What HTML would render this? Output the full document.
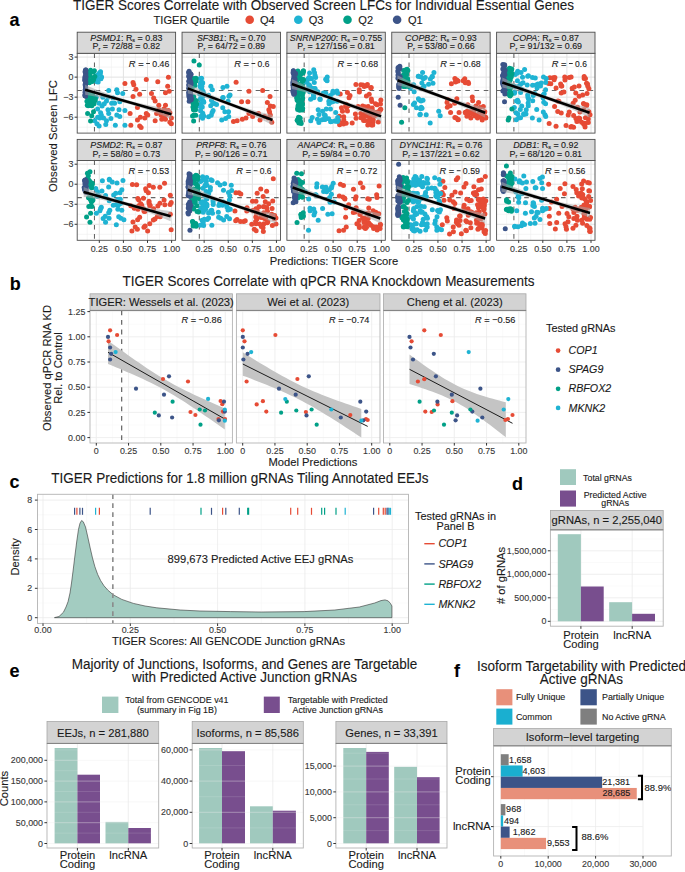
<!DOCTYPE html><html><head><meta charset="utf-8"><style>html,body{margin:0;padding:0;background:#fff;font-family:"Liberation Sans", sans-serif;overflow:hidden;}svg{display:block;}</style></head><body>
<svg width="685" height="872" viewBox="0 0 685 872" font-family='"Liberation Sans", sans-serif' fill="#1a1a1a"><style>text{stroke-width:0.12px;}</style>
<rect x="0.00" y="0.00" width="685.00" height="872.00" fill="#fff" />
<text stroke="#1a1a1a" x="323.50" y="9.80" font-size="13.5" text-anchor="middle" transform="matrix(1,0,0,1.08,0,-0.784)" >TIGER Scores Correlate with Observed Screen LFCs for Individual Essential Genes</text>
<text x="9.50" y="26.40" font-size="18" font-weight="bold" fill="#000" stroke="#000" transform="matrix(1,0,0,1.001,0,-0.026)" >a</text>
<text stroke="#1a1a1a" x="153.60" y="24.30" font-size="11.1" transform="matrix(1,0,0,1.001,0,-0.024)" >TIGER Quartile</text>
<circle cx="249.70" cy="19.80" r="4.3" fill="#E64B35" />
<text stroke="#1a1a1a" x="260.00" y="24.30" font-size="11.1" transform="matrix(1,0,0,1.001,0,-0.024)" >Q4</text>
<circle cx="298.30" cy="19.80" r="4.3" fill="#1FB3D3" />
<text stroke="#1a1a1a" x="308.70" y="24.30" font-size="11.1" transform="matrix(1,0,0,1.001,0,-0.024)" >Q3</text>
<circle cx="347.50" cy="19.80" r="4.3" fill="#00A087" />
<text stroke="#1a1a1a" x="358.30" y="24.30" font-size="11.1" transform="matrix(1,0,0,1.001,0,-0.024)" >Q2</text>
<circle cx="397.10" cy="19.80" r="4.3" fill="#3C5488" />
<text stroke="#1a1a1a" x="408.00" y="24.30" font-size="11.1" transform="matrix(1,0,0,1.001,0,-0.024)" >Q1</text>
<text stroke="#1a1a1a" x="57.00" y="136.00" font-size="11.25" text-anchor="middle" transform="matrix(1.001,0,0,1,-0.057,0) rotate(-90 57.00 136.00)" >Observed Screen LFC</text>
<text stroke="#1a1a1a" x="334.00" y="265.50" font-size="11.25" text-anchor="middle" transform="matrix(1,0,0,1.001,0,-0.265)" >Predictions: TIGER Score</text>
<clipPath id="ca0"><rect x="77.20" y="53.30" width="98.40" height="79.80"/></clipPath>
<rect x="77.20" y="53.30" width="98.40" height="79.80" fill="#fff" />
<line x1="87.25" y1="53.30" x2="87.25" y2="133.10" stroke="#EEEEEE" stroke-width="0.6" />
<line x1="111.35" y1="53.30" x2="111.35" y2="133.10" stroke="#EEEEEE" stroke-width="0.6" />
<line x1="135.45" y1="53.30" x2="135.45" y2="133.10" stroke="#EEEEEE" stroke-width="0.6" />
<line x1="159.55" y1="53.30" x2="159.55" y2="133.10" stroke="#EEEEEE" stroke-width="0.6" />
<line x1="77.20" y1="67.12" x2="175.60" y2="67.12" stroke="#EEEEEE" stroke-width="0.6" />
<line x1="77.20" y1="87.15" x2="175.60" y2="87.15" stroke="#EEEEEE" stroke-width="0.6" />
<line x1="77.20" y1="107.18" x2="175.60" y2="107.18" stroke="#EEEEEE" stroke-width="0.6" />
<line x1="77.20" y1="127.21" x2="175.60" y2="127.21" stroke="#EEEEEE" stroke-width="0.6" />
<line x1="99.30" y1="53.30" x2="99.30" y2="133.10" stroke="#E2E2E2" stroke-width="1.0" />
<line x1="123.40" y1="53.30" x2="123.40" y2="133.10" stroke="#E2E2E2" stroke-width="1.0" />
<line x1="147.50" y1="53.30" x2="147.50" y2="133.10" stroke="#E2E2E2" stroke-width="1.0" />
<line x1="171.60" y1="53.30" x2="171.60" y2="133.10" stroke="#E2E2E2" stroke-width="1.0" />
<line x1="77.20" y1="57.10" x2="175.60" y2="57.10" stroke="#E2E2E2" stroke-width="1.0" />
<line x1="77.20" y1="77.13" x2="175.60" y2="77.13" stroke="#E2E2E2" stroke-width="1.0" />
<line x1="77.20" y1="97.16" x2="175.60" y2="97.16" stroke="#E2E2E2" stroke-width="1.0" />
<line x1="77.20" y1="117.19" x2="175.60" y2="117.19" stroke="#E2E2E2" stroke-width="1.0" />
<g clip-path="url(#ca0)">
<line x1="94.48" y1="53.30" x2="94.48" y2="133.10" stroke="#666" stroke-width="1.1" stroke-dasharray="4.6,4.6"/>
<line x1="77.20" y1="90.48" x2="175.60" y2="90.48" stroke="#666" stroke-width="1.1" stroke-dasharray="4.6,4.6"/>
<circle cx="146.30" cy="79.54" r="2.5" fill="#E64B35" />
<circle cx="157.80" cy="81.75" r="2.5" fill="#E64B35" />
<circle cx="168.42" cy="77.33" r="2.5" fill="#E64B35" />
<circle cx="133.03" cy="82.49" r="2.5" fill="#E64B35" />
<circle cx="133.77" cy="84.70" r="2.5" fill="#E64B35" />
<circle cx="135.98" cy="89.13" r="2.5" fill="#E64B35" />
<circle cx="139.67" cy="94.29" r="2.5" fill="#E64B35" />
<circle cx="133.03" cy="96.50" r="2.5" fill="#E64B35" />
<circle cx="151.46" cy="93.55" r="2.5" fill="#E64B35" />
<circle cx="153.67" cy="97.97" r="2.5" fill="#E64B35" />
<circle cx="155.15" cy="100.92" r="2.5" fill="#E64B35" />
<circle cx="167.68" cy="86.18" r="2.5" fill="#E64B35" />
<circle cx="165.47" cy="92.81" r="2.5" fill="#E64B35" />
<circle cx="169.16" cy="91.34" r="2.5" fill="#E64B35" />
<circle cx="137.45" cy="107.56" r="2.5" fill="#E64B35" />
<circle cx="158.83" cy="105.34" r="2.5" fill="#E64B35" />
<circle cx="165.47" cy="105.34" r="2.5" fill="#E64B35" />
<circle cx="163.99" cy="109.03" r="2.5" fill="#E64B35" />
<circle cx="158.83" cy="109.77" r="2.5" fill="#E64B35" />
<circle cx="160.31" cy="111.24" r="2.5" fill="#E64B35" />
<circle cx="165.47" cy="110.51" r="2.5" fill="#E64B35" />
<circle cx="168.42" cy="110.51" r="2.5" fill="#E64B35" />
<circle cx="169.89" cy="112.72" r="2.5" fill="#E64B35" />
<circle cx="166.94" cy="114.19" r="2.5" fill="#E64B35" />
<circle cx="161.05" cy="114.93" r="2.5" fill="#E64B35" />
<circle cx="156.62" cy="113.45" r="2.5" fill="#E64B35" />
<circle cx="146.30" cy="113.45" r="2.5" fill="#E64B35" />
<circle cx="147.78" cy="114.93" r="2.5" fill="#E64B35" />
<circle cx="144.83" cy="117.88" r="2.5" fill="#E64B35" />
<circle cx="140.40" cy="117.14" r="2.5" fill="#E64B35" />
<circle cx="137.45" cy="120.09" r="2.5" fill="#E64B35" />
<circle cx="130.08" cy="113.45" r="2.5" fill="#E64B35" />
<circle cx="130.82" cy="125.25" r="2.5" fill="#E64B35" />
<circle cx="139.67" cy="125.99" r="2.5" fill="#E64B35" />
<circle cx="141.14" cy="127.46" r="2.5" fill="#E64B35" />
<circle cx="155.15" cy="120.83" r="2.5" fill="#E64B35" />
<circle cx="161.78" cy="119.35" r="2.5" fill="#E64B35" />
<circle cx="165.47" cy="119.35" r="2.5" fill="#E64B35" />
<circle cx="169.89" cy="122.30" r="2.5" fill="#E64B35" />
<circle cx="171.37" cy="117.88" r="2.5" fill="#E64B35" />
<circle cx="171.37" cy="123.78" r="2.5" fill="#E64B35" />
<circle cx="163.99" cy="116.40" r="2.5" fill="#E64B35" />
<circle cx="124.92" cy="83.52" r="2.5" fill="#E64B35" />
<circle cx="95.61" cy="80.19" r="2.5" fill="#1FB3D3" />
<circle cx="101.59" cy="77.06" r="2.5" fill="#1FB3D3" />
<circle cx="97.07" cy="75.34" r="2.5" fill="#1FB3D3" />
<circle cx="99.40" cy="73.02" r="2.5" fill="#1FB3D3" />
<circle cx="96.96" cy="81.66" r="2.5" fill="#1FB3D3" />
<circle cx="100.28" cy="73.82" r="2.5" fill="#1FB3D3" />
<circle cx="100.93" cy="78.78" r="2.5" fill="#1FB3D3" />
<circle cx="96.74" cy="78.12" r="2.5" fill="#1FB3D3" />
<circle cx="100.58" cy="71.63" r="2.5" fill="#1FB3D3" />
<circle cx="98.15" cy="81.94" r="2.5" fill="#1FB3D3" />
<circle cx="116.81" cy="89.86" r="2.5" fill="#1FB3D3" />
<circle cx="117.55" cy="92.81" r="2.5" fill="#1FB3D3" />
<circle cx="122.71" cy="93.55" r="2.5" fill="#1FB3D3" />
<circle cx="108.70" cy="90.60" r="2.5" fill="#1FB3D3" />
<circle cx="113.13" cy="97.97" r="2.5" fill="#1FB3D3" />
<circle cx="106.49" cy="100.92" r="2.5" fill="#1FB3D3" />
<circle cx="111.65" cy="103.13" r="2.5" fill="#1FB3D3" />
<circle cx="114.60" cy="103.13" r="2.5" fill="#1FB3D3" />
<circle cx="99.12" cy="103.13" r="2.5" fill="#1FB3D3" />
<circle cx="102.07" cy="106.08" r="2.5" fill="#1FB3D3" />
<circle cx="104.28" cy="103.87" r="2.5" fill="#1FB3D3" />
<circle cx="107.96" cy="109.77" r="2.5" fill="#1FB3D3" />
<circle cx="108.70" cy="113.45" r="2.5" fill="#1FB3D3" />
<circle cx="119.02" cy="109.77" r="2.5" fill="#1FB3D3" />
<circle cx="124.92" cy="110.51" r="2.5" fill="#1FB3D3" />
<circle cx="100.59" cy="112.72" r="2.5" fill="#1FB3D3" />
<circle cx="101.33" cy="114.93" r="2.5" fill="#1FB3D3" />
<circle cx="103.54" cy="117.88" r="2.5" fill="#1FB3D3" />
<circle cx="99.85" cy="117.88" r="2.5" fill="#1FB3D3" />
<circle cx="97.64" cy="117.14" r="2.5" fill="#1FB3D3" />
<circle cx="106.49" cy="120.83" r="2.5" fill="#1FB3D3" />
<circle cx="110.91" cy="118.61" r="2.5" fill="#1FB3D3" />
<circle cx="116.81" cy="114.93" r="2.5" fill="#1FB3D3" />
<circle cx="119.76" cy="116.40" r="2.5" fill="#1FB3D3" />
<circle cx="96.91" cy="123.78" r="2.5" fill="#1FB3D3" />
<circle cx="99.12" cy="125.99" r="2.5" fill="#1FB3D3" />
<circle cx="105.75" cy="124.51" r="2.5" fill="#1FB3D3" />
<circle cx="115.34" cy="125.25" r="2.5" fill="#1FB3D3" />
<circle cx="124.92" cy="125.25" r="2.5" fill="#1FB3D3" />
<circle cx="112.39" cy="109.03" r="2.5" fill="#1FB3D3" />
<circle cx="96.17" cy="97.23" r="2.5" fill="#1FB3D3" />
<circle cx="102.80" cy="97.23" r="2.5" fill="#1FB3D3" />
<circle cx="107.96" cy="97.23" r="2.5" fill="#1FB3D3" />
<circle cx="119.76" cy="101.66" r="2.5" fill="#1FB3D3" />
<circle cx="97.64" cy="109.03" r="2.5" fill="#1FB3D3" />
<circle cx="94.69" cy="120.83" r="2.5" fill="#1FB3D3" />
<circle cx="89.37" cy="82.11" r="2.5" fill="#00A087" />
<circle cx="93.20" cy="72.03" r="2.5" fill="#00A087" />
<circle cx="88.57" cy="79.58" r="2.5" fill="#00A087" />
<circle cx="89.76" cy="75.04" r="2.5" fill="#00A087" />
<circle cx="92.60" cy="80.47" r="2.5" fill="#00A087" />
<circle cx="93.51" cy="79.15" r="2.5" fill="#00A087" />
<circle cx="90.57" cy="70.30" r="2.5" fill="#00A087" />
<circle cx="89.01" cy="73.17" r="2.5" fill="#00A087" />
<circle cx="91.92" cy="81.57" r="2.5" fill="#00A087" />
<circle cx="89.69" cy="76.31" r="2.5" fill="#00A087" />
<circle cx="94.83" cy="76.48" r="2.5" fill="#00A087" />
<circle cx="93.25" cy="79.95" r="2.5" fill="#00A087" />
<circle cx="92.88" cy="77.70" r="2.5" fill="#00A087" />
<circle cx="92.06" cy="81.26" r="2.5" fill="#00A087" />
<circle cx="89.35" cy="82.82" r="2.5" fill="#00A087" />
<circle cx="94.38" cy="70.85" r="2.5" fill="#00A087" />
<circle cx="89.61" cy="74.07" r="2.5" fill="#00A087" />
<circle cx="88.87" cy="72.33" r="2.5" fill="#00A087" />
<circle cx="92.22" cy="95.20" r="2.5" fill="#00A087" />
<circle cx="87.30" cy="105.27" r="2.5" fill="#00A087" />
<circle cx="90.17" cy="100.31" r="2.5" fill="#00A087" />
<circle cx="90.79" cy="97.90" r="2.5" fill="#00A087" />
<circle cx="90.62" cy="96.07" r="2.5" fill="#00A087" />
<circle cx="91.69" cy="96.77" r="2.5" fill="#00A087" />
<circle cx="87.97" cy="96.25" r="2.5" fill="#00A087" />
<circle cx="90.26" cy="105.08" r="2.5" fill="#00A087" />
<circle cx="91.84" cy="105.70" r="2.5" fill="#00A087" />
<circle cx="90.16" cy="96.88" r="2.5" fill="#00A087" />
<circle cx="92.81" cy="96.03" r="2.5" fill="#00A087" />
<circle cx="95.27" cy="98.48" r="2.5" fill="#00A087" />
<circle cx="89.05" cy="97.02" r="2.5" fill="#00A087" />
<circle cx="89.34" cy="105.16" r="2.5" fill="#00A087" />
<circle cx="95.22" cy="100.53" r="2.5" fill="#00A087" />
<circle cx="88.72" cy="93.82" r="2.5" fill="#00A087" />
<circle cx="87.42" cy="97.34" r="2.5" fill="#00A087" />
<circle cx="92.23" cy="101.36" r="2.5" fill="#00A087" />
<circle cx="94.03" cy="103.74" r="2.5" fill="#00A087" />
<circle cx="89.75" cy="101.94" r="2.5" fill="#00A087" />
<circle cx="90.53" cy="102.61" r="2.5" fill="#00A087" />
<circle cx="88.31" cy="105.65" r="2.5" fill="#00A087" />
<circle cx="86.93" cy="101.25" r="2.5" fill="#00A087" />
<circle cx="89.75" cy="103.50" r="2.5" fill="#00A087" />
<circle cx="87.96" cy="104.60" r="2.5" fill="#00A087" />
<circle cx="87.62" cy="113.45" r="2.5" fill="#00A087" />
<circle cx="91.74" cy="115.67" r="2.5" fill="#00A087" />
<circle cx="90.57" cy="121.12" r="2.5" fill="#00A087" />
<circle cx="93.51" cy="111.68" r="2.5" fill="#00A087" />
<circle cx="84.99" cy="80.21" r="2.5" fill="#3C5488" />
<circle cx="85.72" cy="87.97" r="2.5" fill="#3C5488" />
<circle cx="85.68" cy="79.55" r="2.5" fill="#3C5488" />
<circle cx="85.76" cy="82.62" r="2.5" fill="#3C5488" />
<circle cx="84.91" cy="80.24" r="2.5" fill="#3C5488" />
<circle cx="84.87" cy="95.01" r="2.5" fill="#3C5488" />
<circle cx="85.93" cy="76.51" r="2.5" fill="#3C5488" />
<circle cx="85.18" cy="89.90" r="2.5" fill="#3C5488" />
<circle cx="85.06" cy="71.65" r="2.5" fill="#3C5488" />
<circle cx="85.04" cy="76.87" r="2.5" fill="#3C5488" />
<circle cx="85.55" cy="95.95" r="2.5" fill="#3C5488" />
<circle cx="85.06" cy="95.73" r="2.5" fill="#3C5488" />
<circle cx="85.47" cy="94.03" r="2.5" fill="#3C5488" />
<circle cx="85.78" cy="71.09" r="2.5" fill="#3C5488" />
<circle cx="85.58" cy="69.97" r="2.5" fill="#3C5488" />
<circle cx="84.82" cy="78.37" r="2.5" fill="#3C5488" />
<circle cx="85.73" cy="83.65" r="2.5" fill="#3C5488" />
<circle cx="85.04" cy="92.17" r="2.5" fill="#3C5488" />
<circle cx="85.89" cy="73.47" r="2.5" fill="#3C5488" />
<circle cx="85.34" cy="85.87" r="2.5" fill="#3C5488" />
<circle cx="85.88" cy="70.04" r="2.5" fill="#3C5488" />
<circle cx="85.47" cy="96.11" r="2.5" fill="#3C5488" />
<circle cx="85.53" cy="88.33" r="2.5" fill="#3C5488" />
<circle cx="85.73" cy="81.83" r="2.5" fill="#3C5488" />
<circle cx="85.16" cy="84.40" r="2.5" fill="#3C5488" />
<circle cx="85.44" cy="76.75" r="2.5" fill="#3C5488" />
<circle cx="85.82" cy="77.36" r="2.5" fill="#3C5488" />
<circle cx="85.39" cy="89.70" r="2.5" fill="#3C5488" />
<circle cx="85.77" cy="93.70" r="2.5" fill="#3C5488" />
<circle cx="85.58" cy="73.94" r="2.5" fill="#3C5488" />
<circle cx="85.81" cy="94.28" r="2.5" fill="#3C5488" />
<circle cx="85.66" cy="89.87" r="2.5" fill="#3C5488" />
<circle cx="85.42" cy="81.40" r="2.5" fill="#3C5488" />
<circle cx="85.50" cy="70.68" r="2.5" fill="#3C5488" />
<circle cx="85.61" cy="92.79" r="2.5" fill="#3C5488" />
<path d="M85.11,84.86 L89.42,86.69 L93.74,88.45 L98.05,90.14 L102.36,91.78 L106.67,93.34 L110.99,94.85 L115.30,96.29 L119.61,97.67 L123.93,98.98 L128.24,100.23 L132.55,101.41 L136.86,102.53 L141.18,103.59 L145.49,104.58 L149.80,105.51 L154.12,106.37 L158.43,107.17 L162.74,107.91 L167.05,108.58 L171.37,109.19 L171.37,119.19 L167.05,117.37 L162.74,115.61 L158.43,113.91 L154.12,112.28 L149.80,110.71 L145.49,109.20 L141.18,107.76 L136.86,106.39 L132.55,105.08 L128.24,103.83 L123.93,102.64 L119.61,101.52 L115.30,100.47 L110.99,99.47 L106.67,98.54 L102.36,97.68 L98.05,96.88 L93.74,96.14 L89.42,95.47 L85.11,94.86Z" fill="rgba(165,165,165,0.55)" />
<line x1="85.11" y1="89.86" x2="171.37" y2="114.19" stroke="#000" stroke-width="2.6" />
</g>
<rect x="77.20" y="53.30" width="98.40" height="79.80" fill="none" stroke="#4d4d4d" stroke-width="0.9" />
<rect x="77.20" y="32.20" width="98.40" height="21.10" fill="#D9D9D9" stroke="#4d4d4d" stroke-width="0.9" />
<text transform="matrix(1,0,0,1.001,0,-0.041)" stroke="#1a1a1a" x="126.40" y="40.55" font-size="8.9" text-anchor="middle" fill="#1a1a1a"><tspan font-style="italic">PSMD1</tspan>: R<tspan font-size="5.5" dy="1.5">s</tspan><tspan dy="-1.5"> = 0.83</tspan></text>
<text transform="matrix(1,0,0,1.001,0,-0.049)" stroke="#1a1a1a" x="126.40" y="49.45" font-size="8.9" text-anchor="middle" fill="#1a1a1a">P<tspan font-size="5.5" dy="1.5">r</tspan><tspan dy="-1.5"> = 72/88 = 0.82</tspan></text>
<text stroke="#1a1a1a" transform="matrix(1,0,0,1.001,0,-0.067)" x="128.88" y="66.70" font-size="9.3" font-style="italic">R</text>
<text stroke="#1a1a1a" transform="matrix(1,0,0,1.001,0,-0.067)" x="138.18" y="66.70" font-size="9.3">=</text>
<line x1="146.18" y1="63.50" x2="149.98" y2="63.50" stroke="#1a1a1a" stroke-width="0.9" />
<text stroke="#1a1a1a" transform="matrix(1,0,0,1.001,0,-0.067)" x="152.28" y="66.70" font-size="9.3" textLength="17.1" lengthAdjust="spacingAndGlyphs">0.46</text>
<line x1="74.60" y1="57.10" x2="77.20" y2="57.10" stroke="#333" stroke-width="1.0" />
<text x="73.40" y="60.30" font-size="8.9" text-anchor="end" fill="#383838" stroke="#383838" transform="matrix(1,0,0,1.001,0,-0.060)" >3</text>
<line x1="74.60" y1="77.13" x2="77.20" y2="77.13" stroke="#333" stroke-width="1.0" />
<text x="73.40" y="80.33" font-size="8.9" text-anchor="end" fill="#383838" stroke="#383838" transform="matrix(1,0,0,1.001,0,-0.080)" >0</text>
<line x1="74.60" y1="97.16" x2="77.20" y2="97.16" stroke="#333" stroke-width="1.0" />
<text x="73.40" y="100.36" font-size="8.9" text-anchor="end" fill="#383838" stroke="#383838" transform="matrix(1,0,0,1.001,0,-0.100)" >−3</text>
<line x1="74.60" y1="117.19" x2="77.20" y2="117.19" stroke="#333" stroke-width="1.0" />
<text x="73.40" y="120.39" font-size="8.9" text-anchor="end" fill="#383838" stroke="#383838" transform="matrix(1,0,0,1.001,0,-0.120)" >−6</text>
<clipPath id="ca1"><rect x="182.05" y="53.30" width="98.40" height="79.80"/></clipPath>
<rect x="182.05" y="53.30" width="98.40" height="79.80" fill="#fff" />
<line x1="192.10" y1="53.30" x2="192.10" y2="133.10" stroke="#EEEEEE" stroke-width="0.6" />
<line x1="216.20" y1="53.30" x2="216.20" y2="133.10" stroke="#EEEEEE" stroke-width="0.6" />
<line x1="240.30" y1="53.30" x2="240.30" y2="133.10" stroke="#EEEEEE" stroke-width="0.6" />
<line x1="264.40" y1="53.30" x2="264.40" y2="133.10" stroke="#EEEEEE" stroke-width="0.6" />
<line x1="182.05" y1="67.12" x2="280.45" y2="67.12" stroke="#EEEEEE" stroke-width="0.6" />
<line x1="182.05" y1="87.15" x2="280.45" y2="87.15" stroke="#EEEEEE" stroke-width="0.6" />
<line x1="182.05" y1="107.18" x2="280.45" y2="107.18" stroke="#EEEEEE" stroke-width="0.6" />
<line x1="182.05" y1="127.21" x2="280.45" y2="127.21" stroke="#EEEEEE" stroke-width="0.6" />
<line x1="204.15" y1="53.30" x2="204.15" y2="133.10" stroke="#E2E2E2" stroke-width="1.0" />
<line x1="228.25" y1="53.30" x2="228.25" y2="133.10" stroke="#E2E2E2" stroke-width="1.0" />
<line x1="252.35" y1="53.30" x2="252.35" y2="133.10" stroke="#E2E2E2" stroke-width="1.0" />
<line x1="276.45" y1="53.30" x2="276.45" y2="133.10" stroke="#E2E2E2" stroke-width="1.0" />
<line x1="182.05" y1="57.10" x2="280.45" y2="57.10" stroke="#E2E2E2" stroke-width="1.0" />
<line x1="182.05" y1="77.13" x2="280.45" y2="77.13" stroke="#E2E2E2" stroke-width="1.0" />
<line x1="182.05" y1="97.16" x2="280.45" y2="97.16" stroke="#E2E2E2" stroke-width="1.0" />
<line x1="182.05" y1="117.19" x2="280.45" y2="117.19" stroke="#E2E2E2" stroke-width="1.0" />
<g clip-path="url(#ca1)">
<line x1="199.33" y1="53.30" x2="199.33" y2="133.10" stroke="#666" stroke-width="1.1" stroke-dasharray="4.6,4.6"/>
<line x1="182.05" y1="90.48" x2="280.45" y2="90.48" stroke="#666" stroke-width="1.1" stroke-dasharray="4.6,4.6"/>
<circle cx="236.11" cy="82.19" r="2.5" fill="#E64B35" />
<circle cx="248.94" cy="91.34" r="2.5" fill="#E64B35" />
<circle cx="262.65" cy="90.60" r="2.5" fill="#E64B35" />
<circle cx="270.02" cy="96.50" r="2.5" fill="#E64B35" />
<circle cx="241.57" cy="101.66" r="2.5" fill="#E64B35" />
<circle cx="247.91" cy="101.66" r="2.5" fill="#E64B35" />
<circle cx="267.37" cy="102.40" r="2.5" fill="#E64B35" />
<circle cx="270.32" cy="106.08" r="2.5" fill="#E64B35" />
<circle cx="273.27" cy="106.38" r="2.5" fill="#E64B35" />
<circle cx="268.84" cy="109.77" r="2.5" fill="#E64B35" />
<circle cx="269.58" cy="111.98" r="2.5" fill="#E64B35" />
<circle cx="258.52" cy="113.45" r="2.5" fill="#E64B35" />
<circle cx="248.94" cy="113.45" r="2.5" fill="#E64B35" />
<circle cx="245.99" cy="117.88" r="2.5" fill="#E64B35" />
<circle cx="242.30" cy="119.35" r="2.5" fill="#E64B35" />
<circle cx="233.46" cy="121.56" r="2.5" fill="#E64B35" />
<circle cx="237.14" cy="120.83" r="2.5" fill="#E64B35" />
<circle cx="260.00" cy="120.09" r="2.5" fill="#E64B35" />
<circle cx="271.79" cy="122.30" r="2.5" fill="#E64B35" />
<circle cx="264.42" cy="116.40" r="2.5" fill="#E64B35" />
<circle cx="252.63" cy="116.40" r="2.5" fill="#E64B35" />
<circle cx="270.32" cy="114.93" r="2.5" fill="#E64B35" />
<circle cx="268.11" cy="117.88" r="2.5" fill="#E64B35" />
<circle cx="202.88" cy="96.49" r="2.5" fill="#1FB3D3" />
<circle cx="203.75" cy="115.90" r="2.5" fill="#1FB3D3" />
<circle cx="199.93" cy="94.23" r="2.5" fill="#1FB3D3" />
<circle cx="201.56" cy="88.38" r="2.5" fill="#1FB3D3" />
<circle cx="202.24" cy="82.83" r="2.5" fill="#1FB3D3" />
<circle cx="202.78" cy="113.16" r="2.5" fill="#1FB3D3" />
<circle cx="199.95" cy="106.13" r="2.5" fill="#1FB3D3" />
<circle cx="200.79" cy="103.84" r="2.5" fill="#1FB3D3" />
<circle cx="202.55" cy="118.21" r="2.5" fill="#1FB3D3" />
<circle cx="202.99" cy="91.13" r="2.5" fill="#1FB3D3" />
<circle cx="202.71" cy="82.97" r="2.5" fill="#1FB3D3" />
<circle cx="202.64" cy="94.45" r="2.5" fill="#1FB3D3" />
<circle cx="200.79" cy="86.87" r="2.5" fill="#1FB3D3" />
<circle cx="200.59" cy="110.56" r="2.5" fill="#1FB3D3" />
<circle cx="200.09" cy="86.61" r="2.5" fill="#1FB3D3" />
<circle cx="200.49" cy="83.45" r="2.5" fill="#1FB3D3" />
<circle cx="202.71" cy="101.68" r="2.5" fill="#1FB3D3" />
<circle cx="202.44" cy="114.97" r="2.5" fill="#1FB3D3" />
<circle cx="201.54" cy="78.35" r="2.5" fill="#1FB3D3" />
<circle cx="200.47" cy="98.68" r="2.5" fill="#1FB3D3" />
<circle cx="202.64" cy="115.75" r="2.5" fill="#1FB3D3" />
<circle cx="201.80" cy="86.37" r="2.5" fill="#1FB3D3" />
<circle cx="202.14" cy="116.43" r="2.5" fill="#1FB3D3" />
<circle cx="201.07" cy="116.28" r="2.5" fill="#1FB3D3" />
<circle cx="203.42" cy="101.24" r="2.5" fill="#1FB3D3" />
<circle cx="201.68" cy="82.21" r="2.5" fill="#1FB3D3" />
<circle cx="200.15" cy="78.48" r="2.5" fill="#1FB3D3" />
<circle cx="202.22" cy="107.00" r="2.5" fill="#1FB3D3" />
<circle cx="203.79" cy="102.32" r="2.5" fill="#1FB3D3" />
<circle cx="203.79" cy="93.85" r="2.5" fill="#1FB3D3" />
<circle cx="210.82" cy="86.29" r="2.5" fill="#1FB3D3" />
<circle cx="214.30" cy="103.52" r="2.5" fill="#1FB3D3" />
<circle cx="230.05" cy="94.98" r="2.5" fill="#1FB3D3" />
<circle cx="213.11" cy="110.56" r="2.5" fill="#1FB3D3" />
<circle cx="216.56" cy="104.53" r="2.5" fill="#1FB3D3" />
<circle cx="211.22" cy="115.31" r="2.5" fill="#1FB3D3" />
<circle cx="228.54" cy="111.72" r="2.5" fill="#1FB3D3" />
<circle cx="228.91" cy="96.27" r="2.5" fill="#1FB3D3" />
<circle cx="208.53" cy="95.26" r="2.5" fill="#1FB3D3" />
<circle cx="228.06" cy="101.28" r="2.5" fill="#1FB3D3" />
<circle cx="212.32" cy="89.64" r="2.5" fill="#1FB3D3" />
<circle cx="211.51" cy="100.17" r="2.5" fill="#1FB3D3" />
<circle cx="228.69" cy="116.43" r="2.5" fill="#1FB3D3" />
<circle cx="224.90" cy="111.76" r="2.5" fill="#1FB3D3" />
<circle cx="212.11" cy="112.54" r="2.5" fill="#1FB3D3" />
<circle cx="212.85" cy="103.33" r="2.5" fill="#1FB3D3" />
<circle cx="208.56" cy="116.74" r="2.5" fill="#1FB3D3" />
<circle cx="210.70" cy="105.78" r="2.5" fill="#1FB3D3" />
<circle cx="222.74" cy="107.66" r="2.5" fill="#1FB3D3" />
<circle cx="223.19" cy="97.62" r="2.5" fill="#1FB3D3" />
<circle cx="225.67" cy="118.43" r="2.5" fill="#1FB3D3" />
<circle cx="221.72" cy="119.94" r="2.5" fill="#1FB3D3" />
<circle cx="226.97" cy="86.14" r="2.5" fill="#1FB3D3" />
<circle cx="222.95" cy="87.46" r="2.5" fill="#1FB3D3" />
<circle cx="222.72" cy="97.69" r="2.5" fill="#1FB3D3" />
<circle cx="193.71" cy="78.79" r="2.5" fill="#00A087" />
<circle cx="194.58" cy="84.11" r="2.5" fill="#00A087" />
<circle cx="193.77" cy="78.71" r="2.5" fill="#00A087" />
<circle cx="193.47" cy="85.26" r="2.5" fill="#00A087" />
<circle cx="192.69" cy="86.23" r="2.5" fill="#00A087" />
<circle cx="193.35" cy="79.96" r="2.5" fill="#00A087" />
<circle cx="192.78" cy="86.60" r="2.5" fill="#00A087" />
<circle cx="196.04" cy="80.94" r="2.5" fill="#00A087" />
<circle cx="192.71" cy="83.80" r="2.5" fill="#00A087" />
<circle cx="195.98" cy="78.32" r="2.5" fill="#00A087" />
<circle cx="194.93" cy="85.54" r="2.5" fill="#00A087" />
<circle cx="194.21" cy="83.08" r="2.5" fill="#00A087" />
<circle cx="196.23" cy="100.76" r="2.5" fill="#00A087" />
<circle cx="193.65" cy="109.35" r="2.5" fill="#00A087" />
<circle cx="195.01" cy="106.80" r="2.5" fill="#00A087" />
<circle cx="193.95" cy="114.97" r="2.5" fill="#00A087" />
<circle cx="193.72" cy="109.72" r="2.5" fill="#00A087" />
<circle cx="196.67" cy="104.06" r="2.5" fill="#00A087" />
<circle cx="192.58" cy="100.39" r="2.5" fill="#00A087" />
<circle cx="192.64" cy="98.92" r="2.5" fill="#00A087" />
<circle cx="192.90" cy="102.88" r="2.5" fill="#00A087" />
<circle cx="194.12" cy="105.01" r="2.5" fill="#00A087" />
<circle cx="195.56" cy="109.68" r="2.5" fill="#00A087" />
<circle cx="195.66" cy="103.32" r="2.5" fill="#00A087" />
<circle cx="195.54" cy="107.10" r="2.5" fill="#00A087" />
<circle cx="192.94" cy="107.01" r="2.5" fill="#00A087" />
<circle cx="193.87" cy="109.66" r="2.5" fill="#00A087" />
<circle cx="195.89" cy="100.81" r="2.5" fill="#00A087" />
<circle cx="194.44" cy="105.16" r="2.5" fill="#00A087" />
<circle cx="193.76" cy="96.73" r="2.5" fill="#00A087" />
<circle cx="192.56" cy="116.11" r="2.5" fill="#00A087" />
<circle cx="195.92" cy="104.84" r="2.5" fill="#00A087" />
<circle cx="195.56" cy="101.38" r="2.5" fill="#00A087" />
<circle cx="195.78" cy="115.26" r="2.5" fill="#00A087" />
<circle cx="193.94" cy="61.11" r="2.5" fill="#00A087" />
<circle cx="199.25" cy="65.09" r="2.5" fill="#00A087" />
<circle cx="193.65" cy="121.12" r="2.5" fill="#00A087" />
<circle cx="190.18" cy="76.36" r="2.5" fill="#3C5488" />
<circle cx="191.19" cy="99.80" r="2.5" fill="#3C5488" />
<circle cx="189.87" cy="91.43" r="2.5" fill="#3C5488" />
<circle cx="189.20" cy="77.23" r="2.5" fill="#3C5488" />
<circle cx="189.40" cy="92.36" r="2.5" fill="#3C5488" />
<circle cx="189.20" cy="101.32" r="2.5" fill="#3C5488" />
<circle cx="188.82" cy="76.32" r="2.5" fill="#3C5488" />
<circle cx="188.87" cy="94.85" r="2.5" fill="#3C5488" />
<circle cx="189.61" cy="85.27" r="2.5" fill="#3C5488" />
<circle cx="189.50" cy="90.59" r="2.5" fill="#3C5488" />
<circle cx="189.70" cy="76.80" r="2.5" fill="#3C5488" />
<circle cx="189.77" cy="79.89" r="2.5" fill="#3C5488" />
<circle cx="188.93" cy="96.57" r="2.5" fill="#3C5488" />
<circle cx="190.44" cy="91.47" r="2.5" fill="#3C5488" />
<circle cx="190.97" cy="82.79" r="2.5" fill="#3C5488" />
<circle cx="189.64" cy="83.70" r="2.5" fill="#3C5488" />
<circle cx="189.71" cy="91.61" r="2.5" fill="#3C5488" />
<circle cx="188.65" cy="85.02" r="2.5" fill="#3C5488" />
<circle cx="190.05" cy="81.21" r="2.5" fill="#3C5488" />
<circle cx="188.69" cy="92.75" r="2.5" fill="#3C5488" />
<circle cx="188.66" cy="88.25" r="2.5" fill="#3C5488" />
<circle cx="189.04" cy="71.22" r="2.5" fill="#3C5488" />
<circle cx="189.11" cy="72.22" r="2.5" fill="#3C5488" />
<circle cx="189.03" cy="92.12" r="2.5" fill="#3C5488" />
<circle cx="190.57" cy="81.77" r="2.5" fill="#3C5488" />
<circle cx="190.36" cy="85.38" r="2.5" fill="#3C5488" />
<circle cx="189.96" cy="98.26" r="2.5" fill="#3C5488" />
<circle cx="189.46" cy="98.07" r="2.5" fill="#3C5488" />
<circle cx="190.47" cy="92.07" r="2.5" fill="#3C5488" />
<circle cx="188.65" cy="72.81" r="2.5" fill="#3C5488" />
<circle cx="188.72" cy="81.22" r="2.5" fill="#3C5488" />
<circle cx="191.14" cy="98.25" r="2.5" fill="#3C5488" />
<circle cx="190.86" cy="73.93" r="2.5" fill="#3C5488" />
<circle cx="190.51" cy="95.00" r="2.5" fill="#3C5488" />
<circle cx="190.78" cy="95.57" r="2.5" fill="#3C5488" />
<circle cx="189.01" cy="75.85" r="2.5" fill="#3C5488" />
<circle cx="190.74" cy="93.83" r="2.5" fill="#3C5488" />
<circle cx="191.00" cy="84.46" r="2.5" fill="#3C5488" />
<circle cx="190.99" cy="74.59" r="2.5" fill="#3C5488" />
<circle cx="191.17" cy="98.53" r="2.5" fill="#3C5488" />
<path d="M187.75,83.39 L191.99,85.58 L196.23,87.71 L200.47,89.78 L204.70,91.78 L208.94,93.71 L213.18,95.59 L217.42,97.40 L221.66,99.14 L225.90,100.82 L230.14,102.44 L234.38,103.99 L238.62,105.48 L242.86,106.91 L247.10,108.27 L251.34,109.56 L255.57,110.80 L259.81,111.97 L264.05,113.07 L268.29,114.11 L272.53,115.09 L272.53,125.09 L268.29,122.90 L264.05,120.77 L259.81,118.70 L255.57,116.70 L251.34,114.76 L247.10,112.89 L242.86,111.08 L238.62,109.34 L234.38,107.66 L230.14,106.04 L225.90,104.49 L221.66,103.00 L217.42,101.57 L213.18,100.21 L208.94,98.91 L204.70,97.68 L200.47,96.51 L196.23,95.41 L191.99,94.36 L187.75,93.39Z" fill="rgba(165,165,165,0.55)" />
<line x1="187.75" y1="88.39" x2="272.53" y2="120.09" stroke="#000" stroke-width="2.6" />
</g>
<rect x="182.05" y="53.30" width="98.40" height="79.80" fill="none" stroke="#4d4d4d" stroke-width="0.9" />
<rect x="182.05" y="32.20" width="98.40" height="21.10" fill="#D9D9D9" stroke="#4d4d4d" stroke-width="0.9" />
<text transform="matrix(1,0,0,1.001,0,-0.041)" stroke="#1a1a1a" x="231.25" y="40.55" font-size="8.9" text-anchor="middle" fill="#1a1a1a"><tspan font-style="italic">SF3B1</tspan>: R<tspan font-size="5.5" dy="1.5">s</tspan><tspan dy="-1.5"> = 0.70</tspan></text>
<text transform="matrix(1,0,0,1.001,0,-0.049)" stroke="#1a1a1a" x="231.25" y="49.45" font-size="8.9" text-anchor="middle" fill="#1a1a1a">P<tspan font-size="5.5" dy="1.5">r</tspan><tspan dy="-1.5"> = 64/72 = 0.89</tspan></text>
<text stroke="#1a1a1a" transform="matrix(1,0,0,1.001,0,-0.067)" x="234.17" y="66.70" font-size="9.3" font-style="italic">R</text>
<text stroke="#1a1a1a" transform="matrix(1,0,0,1.001,0,-0.067)" x="243.47" y="66.70" font-size="9.3">=</text>
<line x1="251.47" y1="63.50" x2="255.27" y2="63.50" stroke="#1a1a1a" stroke-width="0.9" />
<text stroke="#1a1a1a" transform="matrix(1,0,0,1.001,0,-0.067)" x="257.57" y="66.70" font-size="9.3" textLength="11.8" lengthAdjust="spacingAndGlyphs">0.6</text>
<clipPath id="ca2"><rect x="286.90" y="53.30" width="98.40" height="79.80"/></clipPath>
<rect x="286.90" y="53.30" width="98.40" height="79.80" fill="#fff" />
<line x1="296.95" y1="53.30" x2="296.95" y2="133.10" stroke="#EEEEEE" stroke-width="0.6" />
<line x1="321.05" y1="53.30" x2="321.05" y2="133.10" stroke="#EEEEEE" stroke-width="0.6" />
<line x1="345.15" y1="53.30" x2="345.15" y2="133.10" stroke="#EEEEEE" stroke-width="0.6" />
<line x1="369.25" y1="53.30" x2="369.25" y2="133.10" stroke="#EEEEEE" stroke-width="0.6" />
<line x1="286.90" y1="67.12" x2="385.30" y2="67.12" stroke="#EEEEEE" stroke-width="0.6" />
<line x1="286.90" y1="87.15" x2="385.30" y2="87.15" stroke="#EEEEEE" stroke-width="0.6" />
<line x1="286.90" y1="107.18" x2="385.30" y2="107.18" stroke="#EEEEEE" stroke-width="0.6" />
<line x1="286.90" y1="127.21" x2="385.30" y2="127.21" stroke="#EEEEEE" stroke-width="0.6" />
<line x1="309.00" y1="53.30" x2="309.00" y2="133.10" stroke="#E2E2E2" stroke-width="1.0" />
<line x1="333.10" y1="53.30" x2="333.10" y2="133.10" stroke="#E2E2E2" stroke-width="1.0" />
<line x1="357.20" y1="53.30" x2="357.20" y2="133.10" stroke="#E2E2E2" stroke-width="1.0" />
<line x1="381.30" y1="53.30" x2="381.30" y2="133.10" stroke="#E2E2E2" stroke-width="1.0" />
<line x1="286.90" y1="57.10" x2="385.30" y2="57.10" stroke="#E2E2E2" stroke-width="1.0" />
<line x1="286.90" y1="77.13" x2="385.30" y2="77.13" stroke="#E2E2E2" stroke-width="1.0" />
<line x1="286.90" y1="97.16" x2="385.30" y2="97.16" stroke="#E2E2E2" stroke-width="1.0" />
<line x1="286.90" y1="117.19" x2="385.30" y2="117.19" stroke="#E2E2E2" stroke-width="1.0" />
<g clip-path="url(#ca2)">
<line x1="304.18" y1="53.30" x2="304.18" y2="133.10" stroke="#666" stroke-width="1.1" stroke-dasharray="4.6,4.6"/>
<line x1="286.90" y1="90.48" x2="385.30" y2="90.48" stroke="#666" stroke-width="1.1" stroke-dasharray="4.6,4.6"/>
<circle cx="380.49" cy="104.09" r="2.5" fill="#E64B35" />
<circle cx="343.71" cy="116.70" r="2.5" fill="#E64B35" />
<circle cx="378.29" cy="121.89" r="2.5" fill="#E64B35" />
<circle cx="358.10" cy="106.58" r="2.5" fill="#E64B35" />
<circle cx="343.75" cy="120.12" r="2.5" fill="#E64B35" />
<circle cx="350.00" cy="95.58" r="2.5" fill="#E64B35" />
<circle cx="342.77" cy="122.78" r="2.5" fill="#E64B35" />
<circle cx="356.11" cy="118.14" r="2.5" fill="#E64B35" />
<circle cx="341.44" cy="107.67" r="2.5" fill="#E64B35" />
<circle cx="370.13" cy="117.43" r="2.5" fill="#E64B35" />
<circle cx="346.53" cy="107.65" r="2.5" fill="#E64B35" />
<circle cx="372.97" cy="122.20" r="2.5" fill="#E64B35" />
<circle cx="342.45" cy="111.24" r="2.5" fill="#E64B35" />
<circle cx="376.24" cy="112.33" r="2.5" fill="#E64B35" />
<circle cx="371.80" cy="101.48" r="2.5" fill="#E64B35" />
<circle cx="359.37" cy="91.95" r="2.5" fill="#E64B35" />
<circle cx="372.36" cy="110.42" r="2.5" fill="#E64B35" />
<circle cx="346.14" cy="123.13" r="2.5" fill="#E64B35" />
<circle cx="347.43" cy="92.62" r="2.5" fill="#E64B35" />
<circle cx="369.22" cy="94.17" r="2.5" fill="#E64B35" />
<circle cx="366.42" cy="96.07" r="2.5" fill="#E64B35" />
<circle cx="339.42" cy="116.25" r="2.5" fill="#E64B35" />
<circle cx="364.50" cy="113.66" r="2.5" fill="#E64B35" />
<circle cx="368.55" cy="115.60" r="2.5" fill="#E64B35" />
<circle cx="345.93" cy="105.75" r="2.5" fill="#E64B35" />
<circle cx="363.60" cy="120.61" r="2.5" fill="#E64B35" />
<circle cx="365.87" cy="107.88" r="2.5" fill="#E64B35" />
<circle cx="373.26" cy="119.87" r="2.5" fill="#E64B35" />
<circle cx="349.06" cy="97.65" r="2.5" fill="#E64B35" />
<circle cx="338.69" cy="120.80" r="2.5" fill="#E64B35" />
<circle cx="347.45" cy="110.93" r="2.5" fill="#E64B35" />
<circle cx="360.78" cy="113.60" r="2.5" fill="#E64B35" />
<circle cx="378.30" cy="113.57" r="2.5" fill="#E64B35" />
<circle cx="345.76" cy="105.96" r="2.5" fill="#E64B35" />
<circle cx="346.32" cy="104.34" r="2.5" fill="#E64B35" />
<circle cx="369.90" cy="113.40" r="2.5" fill="#E64B35" />
<circle cx="365.14" cy="120.50" r="2.5" fill="#E64B35" />
<circle cx="380.83" cy="99.95" r="2.5" fill="#E64B35" />
<circle cx="368.25" cy="113.20" r="2.5" fill="#E64B35" />
<circle cx="339.60" cy="124.83" r="2.5" fill="#E64B35" />
<circle cx="355.40" cy="114.11" r="2.5" fill="#E64B35" />
<circle cx="348.20" cy="105.72" r="2.5" fill="#E64B35" />
<circle cx="343.46" cy="124.03" r="2.5" fill="#E64B35" />
<circle cx="340.23" cy="93.93" r="2.5" fill="#E64B35" />
<circle cx="369.31" cy="110.86" r="2.5" fill="#E64B35" />
<circle cx="352.16" cy="123.12" r="2.5" fill="#E64B35" />
<circle cx="368.13" cy="106.57" r="2.5" fill="#E64B35" />
<circle cx="368.68" cy="122.98" r="2.5" fill="#E64B35" />
<circle cx="375.50" cy="103.72" r="2.5" fill="#E64B35" />
<circle cx="371.34" cy="98.90" r="2.5" fill="#E64B35" />
<circle cx="359.24" cy="89.65" r="2.5" fill="#E64B35" />
<circle cx="367.38" cy="84.59" r="2.5" fill="#E64B35" />
<circle cx="362.92" cy="84.90" r="2.5" fill="#E64B35" />
<circle cx="366.73" cy="85.63" r="2.5" fill="#E64B35" />
<circle cx="360.80" cy="84.75" r="2.5" fill="#E64B35" />
<circle cx="370.75" cy="88.10" r="2.5" fill="#E64B35" />
<circle cx="355.90" cy="84.56" r="2.5" fill="#E64B35" />
<circle cx="371.23" cy="87.40" r="2.5" fill="#E64B35" />
<circle cx="364.25" cy="86.54" r="2.5" fill="#E64B35" />
<circle cx="363.49" cy="115.67" r="2.5" fill="#E64B35" />
<circle cx="375.38" cy="112.90" r="2.5" fill="#E64B35" />
<circle cx="368.03" cy="112.69" r="2.5" fill="#E64B35" />
<circle cx="372.18" cy="108.07" r="2.5" fill="#E64B35" />
<circle cx="377.03" cy="104.70" r="2.5" fill="#E64B35" />
<circle cx="375.97" cy="114.73" r="2.5" fill="#E64B35" />
<circle cx="364.57" cy="108.76" r="2.5" fill="#E64B35" />
<circle cx="364.98" cy="106.82" r="2.5" fill="#E64B35" />
<circle cx="380.77" cy="109.36" r="2.5" fill="#E64B35" />
<circle cx="360.94" cy="117.64" r="2.5" fill="#E64B35" />
<circle cx="380.39" cy="109.56" r="2.5" fill="#E64B35" />
<circle cx="364.15" cy="116.04" r="2.5" fill="#E64B35" />
<circle cx="366.21" cy="113.31" r="2.5" fill="#E64B35" />
<circle cx="371.59" cy="125.06" r="2.5" fill="#E64B35" />
<circle cx="367.33" cy="111.20" r="2.5" fill="#E64B35" />
<circle cx="374.55" cy="115.73" r="2.5" fill="#E64B35" />
<circle cx="378.23" cy="112.76" r="2.5" fill="#E64B35" />
<circle cx="372.97" cy="114.41" r="2.5" fill="#E64B35" />
<circle cx="372.27" cy="113.96" r="2.5" fill="#E64B35" />
<circle cx="362.64" cy="105.98" r="2.5" fill="#E64B35" />
<circle cx="367.76" cy="125.10" r="2.5" fill="#E64B35" />
<circle cx="370.21" cy="114.18" r="2.5" fill="#E64B35" />
<circle cx="368.88" cy="120.21" r="2.5" fill="#E64B35" />
<circle cx="366.83" cy="111.79" r="2.5" fill="#E64B35" />
<circle cx="366.42" cy="115.76" r="2.5" fill="#E64B35" />
<circle cx="369.56" cy="116.44" r="2.5" fill="#E64B35" />
<circle cx="379.52" cy="110.76" r="2.5" fill="#E64B35" />
<circle cx="372.73" cy="124.94" r="2.5" fill="#E64B35" />
<circle cx="310.04" cy="86.96" r="2.5" fill="#1FB3D3" />
<circle cx="306.81" cy="89.82" r="2.5" fill="#1FB3D3" />
<circle cx="306.85" cy="81.33" r="2.5" fill="#1FB3D3" />
<circle cx="309.69" cy="91.76" r="2.5" fill="#1FB3D3" />
<circle cx="314.97" cy="88.52" r="2.5" fill="#1FB3D3" />
<circle cx="308.97" cy="77.39" r="2.5" fill="#1FB3D3" />
<circle cx="314.29" cy="82.39" r="2.5" fill="#1FB3D3" />
<circle cx="312.38" cy="88.16" r="2.5" fill="#1FB3D3" />
<circle cx="307.94" cy="79.01" r="2.5" fill="#1FB3D3" />
<circle cx="315.58" cy="77.59" r="2.5" fill="#1FB3D3" />
<circle cx="314.52" cy="72.80" r="2.5" fill="#1FB3D3" />
<circle cx="306.16" cy="82.19" r="2.5" fill="#1FB3D3" />
<circle cx="308.85" cy="84.71" r="2.5" fill="#1FB3D3" />
<circle cx="313.74" cy="69.68" r="2.5" fill="#1FB3D3" />
<circle cx="311.02" cy="78.71" r="2.5" fill="#1FB3D3" />
<circle cx="315.10" cy="91.41" r="2.5" fill="#1FB3D3" />
<circle cx="314.89" cy="88.64" r="2.5" fill="#1FB3D3" />
<circle cx="309.49" cy="85.34" r="2.5" fill="#1FB3D3" />
<circle cx="311.47" cy="78.56" r="2.5" fill="#1FB3D3" />
<circle cx="308.92" cy="86.14" r="2.5" fill="#1FB3D3" />
<circle cx="315.00" cy="75.16" r="2.5" fill="#1FB3D3" />
<circle cx="309.58" cy="72.90" r="2.5" fill="#1FB3D3" />
<circle cx="327.23" cy="77.11" r="2.5" fill="#1FB3D3" />
<circle cx="325.71" cy="79.31" r="2.5" fill="#1FB3D3" />
<circle cx="327.11" cy="80.69" r="2.5" fill="#1FB3D3" />
<circle cx="326.54" cy="80.07" r="2.5" fill="#1FB3D3" />
<circle cx="337.54" cy="93.25" r="2.5" fill="#1FB3D3" />
<circle cx="318.85" cy="122.59" r="2.5" fill="#1FB3D3" />
<circle cx="319.86" cy="99.08" r="2.5" fill="#1FB3D3" />
<circle cx="312.20" cy="117.38" r="2.5" fill="#1FB3D3" />
<circle cx="317.49" cy="119.22" r="2.5" fill="#1FB3D3" />
<circle cx="324.60" cy="93.64" r="2.5" fill="#1FB3D3" />
<circle cx="337.94" cy="119.99" r="2.5" fill="#1FB3D3" />
<circle cx="330.45" cy="109.05" r="2.5" fill="#1FB3D3" />
<circle cx="330.61" cy="121.72" r="2.5" fill="#1FB3D3" />
<circle cx="313.54" cy="95.88" r="2.5" fill="#1FB3D3" />
<circle cx="330.87" cy="102.33" r="2.5" fill="#1FB3D3" />
<circle cx="337.70" cy="117.56" r="2.5" fill="#1FB3D3" />
<circle cx="323.48" cy="92.90" r="2.5" fill="#1FB3D3" />
<circle cx="326.26" cy="109.06" r="2.5" fill="#1FB3D3" />
<circle cx="325.29" cy="115.54" r="2.5" fill="#1FB3D3" />
<circle cx="322.13" cy="119.70" r="2.5" fill="#1FB3D3" />
<circle cx="325.75" cy="92.93" r="2.5" fill="#1FB3D3" />
<circle cx="332.67" cy="93.23" r="2.5" fill="#1FB3D3" />
<circle cx="335.26" cy="120.96" r="2.5" fill="#1FB3D3" />
<circle cx="313.48" cy="94.42" r="2.5" fill="#1FB3D3" />
<circle cx="329.03" cy="103.76" r="2.5" fill="#1FB3D3" />
<circle cx="318.98" cy="114.53" r="2.5" fill="#1FB3D3" />
<circle cx="317.78" cy="91.83" r="2.5" fill="#1FB3D3" />
<circle cx="324.39" cy="119.14" r="2.5" fill="#1FB3D3" />
<circle cx="336.93" cy="90.94" r="2.5" fill="#1FB3D3" />
<circle cx="330.37" cy="98.90" r="2.5" fill="#1FB3D3" />
<circle cx="337.27" cy="101.33" r="2.5" fill="#1FB3D3" />
<circle cx="310.64" cy="99.16" r="2.5" fill="#1FB3D3" />
<circle cx="323.30" cy="93.49" r="2.5" fill="#1FB3D3" />
<circle cx="331.10" cy="99.11" r="2.5" fill="#1FB3D3" />
<circle cx="330.25" cy="95.56" r="2.5" fill="#1FB3D3" />
<circle cx="322.55" cy="111.18" r="2.5" fill="#1FB3D3" />
<circle cx="313.83" cy="97.64" r="2.5" fill="#1FB3D3" />
<circle cx="333.24" cy="101.48" r="2.5" fill="#1FB3D3" />
<circle cx="318.18" cy="109.65" r="2.5" fill="#1FB3D3" />
<circle cx="328.69" cy="118.66" r="2.5" fill="#1FB3D3" />
<circle cx="324.82" cy="118.29" r="2.5" fill="#1FB3D3" />
<circle cx="334.88" cy="120.95" r="2.5" fill="#1FB3D3" />
<circle cx="335.69" cy="112.45" r="2.5" fill="#1FB3D3" />
<circle cx="328.84" cy="101.29" r="2.5" fill="#1FB3D3" />
<circle cx="310.75" cy="120.79" r="2.5" fill="#1FB3D3" />
<circle cx="320.20" cy="99.42" r="2.5" fill="#1FB3D3" />
<circle cx="324.33" cy="114.70" r="2.5" fill="#1FB3D3" />
<circle cx="332.94" cy="91.24" r="2.5" fill="#1FB3D3" />
<circle cx="331.53" cy="121.47" r="2.5" fill="#1FB3D3" />
<circle cx="337.49" cy="121.51" r="2.5" fill="#1FB3D3" />
<circle cx="325.03" cy="119.57" r="2.5" fill="#1FB3D3" />
<circle cx="325.61" cy="118.10" r="2.5" fill="#1FB3D3" />
<circle cx="298.15" cy="77.67" r="2.5" fill="#00A087" />
<circle cx="298.53" cy="100.03" r="2.5" fill="#00A087" />
<circle cx="297.86" cy="88.83" r="2.5" fill="#00A087" />
<circle cx="302.14" cy="103.50" r="2.5" fill="#00A087" />
<circle cx="299.70" cy="104.03" r="2.5" fill="#00A087" />
<circle cx="300.98" cy="79.24" r="2.5" fill="#00A087" />
<circle cx="297.09" cy="76.95" r="2.5" fill="#00A087" />
<circle cx="302.02" cy="85.79" r="2.5" fill="#00A087" />
<circle cx="302.36" cy="109.05" r="2.5" fill="#00A087" />
<circle cx="302.94" cy="88.99" r="2.5" fill="#00A087" />
<circle cx="296.49" cy="81.23" r="2.5" fill="#00A087" />
<circle cx="297.98" cy="96.23" r="2.5" fill="#00A087" />
<circle cx="301.40" cy="107.20" r="2.5" fill="#00A087" />
<circle cx="301.42" cy="108.73" r="2.5" fill="#00A087" />
<circle cx="300.95" cy="89.22" r="2.5" fill="#00A087" />
<circle cx="302.35" cy="81.14" r="2.5" fill="#00A087" />
<circle cx="301.94" cy="99.39" r="2.5" fill="#00A087" />
<circle cx="302.57" cy="72.54" r="2.5" fill="#00A087" />
<circle cx="297.77" cy="108.34" r="2.5" fill="#00A087" />
<circle cx="297.44" cy="88.27" r="2.5" fill="#00A087" />
<circle cx="300.69" cy="89.51" r="2.5" fill="#00A087" />
<circle cx="302.65" cy="108.56" r="2.5" fill="#00A087" />
<circle cx="298.85" cy="75.51" r="2.5" fill="#00A087" />
<circle cx="302.90" cy="88.36" r="2.5" fill="#00A087" />
<circle cx="298.19" cy="75.67" r="2.5" fill="#00A087" />
<circle cx="296.50" cy="93.56" r="2.5" fill="#00A087" />
<circle cx="298.42" cy="92.50" r="2.5" fill="#00A087" />
<circle cx="302.97" cy="89.60" r="2.5" fill="#00A087" />
<circle cx="303.18" cy="72.79" r="2.5" fill="#00A087" />
<circle cx="301.80" cy="100.48" r="2.5" fill="#00A087" />
<circle cx="303.22" cy="71.35" r="2.5" fill="#00A087" />
<circle cx="300.02" cy="92.50" r="2.5" fill="#00A087" />
<circle cx="300.67" cy="89.07" r="2.5" fill="#00A087" />
<circle cx="298.36" cy="106.45" r="2.5" fill="#00A087" />
<circle cx="302.65" cy="98.33" r="2.5" fill="#00A087" />
<circle cx="303.22" cy="92.38" r="2.5" fill="#00A087" />
<circle cx="296.99" cy="98.04" r="2.5" fill="#00A087" />
<circle cx="297.17" cy="100.33" r="2.5" fill="#00A087" />
<circle cx="301.02" cy="78.43" r="2.5" fill="#00A087" />
<circle cx="297.51" cy="72.82" r="2.5" fill="#00A087" />
<circle cx="297.68" cy="109.47" r="2.5" fill="#00A087" />
<circle cx="298.04" cy="105.69" r="2.5" fill="#00A087" />
<circle cx="297.38" cy="83.73" r="2.5" fill="#00A087" />
<circle cx="299.77" cy="84.53" r="2.5" fill="#00A087" />
<circle cx="303.26" cy="79.77" r="2.5" fill="#00A087" />
<circle cx="299.85" cy="78.36" r="2.5" fill="#00A087" />
<circle cx="297.20" cy="97.90" r="2.5" fill="#00A087" />
<circle cx="298.83" cy="89.71" r="2.5" fill="#00A087" />
<circle cx="301.33" cy="73.68" r="2.5" fill="#00A087" />
<circle cx="296.82" cy="97.78" r="2.5" fill="#00A087" />
<circle cx="303.46" cy="70.85" r="2.5" fill="#00A087" />
<circle cx="299.63" cy="110.14" r="2.5" fill="#00A087" />
<circle cx="302.33" cy="109.93" r="2.5" fill="#00A087" />
<circle cx="300.18" cy="109.22" r="2.5" fill="#00A087" />
<circle cx="296.83" cy="89.10" r="2.5" fill="#00A087" />
<circle cx="302.43" cy="85.83" r="2.5" fill="#00A087" />
<circle cx="299.55" cy="88.18" r="2.5" fill="#00A087" />
<circle cx="299.12" cy="102.83" r="2.5" fill="#00A087" />
<circle cx="303.32" cy="79.39" r="2.5" fill="#00A087" />
<circle cx="298.71" cy="102.46" r="2.5" fill="#00A087" />
<circle cx="301.70" cy="102.88" r="2.5" fill="#00A087" />
<circle cx="301.26" cy="106.93" r="2.5" fill="#00A087" />
<circle cx="302.41" cy="95.61" r="2.5" fill="#00A087" />
<circle cx="298.44" cy="73.53" r="2.5" fill="#00A087" />
<circle cx="302.52" cy="104.64" r="2.5" fill="#00A087" />
<circle cx="302.74" cy="80.77" r="2.5" fill="#00A087" />
<circle cx="301.66" cy="107.56" r="2.5" fill="#00A087" />
<circle cx="297.89" cy="71.05" r="2.5" fill="#00A087" />
<circle cx="297.66" cy="78.91" r="2.5" fill="#00A087" />
<circle cx="301.24" cy="103.17" r="2.5" fill="#00A087" />
<circle cx="300.55" cy="121.43" r="2.5" fill="#00A087" />
<circle cx="301.21" cy="123.43" r="2.5" fill="#00A087" />
<circle cx="298.98" cy="123.07" r="2.5" fill="#00A087" />
<circle cx="300.14" cy="118.28" r="2.5" fill="#00A087" />
<circle cx="299.59" cy="117.76" r="2.5" fill="#00A087" />
<circle cx="298.82" cy="122.30" r="2.5" fill="#00A087" />
<circle cx="297.21" cy="120.35" r="2.5" fill="#00A087" />
<circle cx="298.97" cy="118.55" r="2.5" fill="#00A087" />
<circle cx="297.44" cy="120.25" r="2.5" fill="#00A087" />
<circle cx="298.55" cy="117.24" r="2.5" fill="#00A087" />
<circle cx="293.14" cy="85.25" r="2.5" fill="#3C5488" />
<circle cx="293.20" cy="87.86" r="2.5" fill="#3C5488" />
<circle cx="294.36" cy="79.00" r="2.5" fill="#3C5488" />
<circle cx="294.38" cy="83.91" r="2.5" fill="#3C5488" />
<circle cx="292.86" cy="82.93" r="2.5" fill="#3C5488" />
<circle cx="294.39" cy="82.65" r="2.5" fill="#3C5488" />
<circle cx="295.08" cy="88.47" r="2.5" fill="#3C5488" />
<circle cx="293.75" cy="74.75" r="2.5" fill="#3C5488" />
<circle cx="293.09" cy="90.49" r="2.5" fill="#3C5488" />
<circle cx="294.58" cy="85.07" r="2.5" fill="#3C5488" />
<circle cx="293.92" cy="82.15" r="2.5" fill="#3C5488" />
<circle cx="293.33" cy="82.94" r="2.5" fill="#3C5488" />
<circle cx="293.13" cy="85.39" r="2.5" fill="#3C5488" />
<circle cx="294.42" cy="86.72" r="2.5" fill="#3C5488" />
<circle cx="293.40" cy="71.11" r="2.5" fill="#3C5488" />
<circle cx="293.63" cy="87.18" r="2.5" fill="#3C5488" />
<circle cx="294.10" cy="88.80" r="2.5" fill="#3C5488" />
<circle cx="293.89" cy="79.38" r="2.5" fill="#3C5488" />
<circle cx="295.15" cy="73.14" r="2.5" fill="#3C5488" />
<circle cx="293.30" cy="84.52" r="2.5" fill="#3C5488" />
<circle cx="294.42" cy="80.31" r="2.5" fill="#3C5488" />
<circle cx="294.23" cy="80.52" r="2.5" fill="#3C5488" />
<circle cx="294.52" cy="92.61" r="2.5" fill="#3C5488" />
<circle cx="294.94" cy="85.88" r="2.5" fill="#3C5488" />
<circle cx="293.99" cy="94.20" r="2.5" fill="#3C5488" />
<circle cx="293.93" cy="85.51" r="2.5" fill="#3C5488" />
<circle cx="295.05" cy="87.07" r="2.5" fill="#3C5488" />
<circle cx="293.78" cy="88.68" r="2.5" fill="#3C5488" />
<circle cx="294.34" cy="93.32" r="2.5" fill="#3C5488" />
<circle cx="294.40" cy="83.03" r="2.5" fill="#3C5488" />
<circle cx="295.33" cy="82.87" r="2.5" fill="#3C5488" />
<circle cx="293.80" cy="93.93" r="2.5" fill="#3C5488" />
<circle cx="295.25" cy="73.27" r="2.5" fill="#3C5488" />
<circle cx="292.94" cy="91.78" r="2.5" fill="#3C5488" />
<circle cx="295.09" cy="79.00" r="2.5" fill="#3C5488" />
<circle cx="293.42" cy="87.10" r="2.5" fill="#3C5488" />
<circle cx="295.24" cy="74.38" r="2.5" fill="#3C5488" />
<circle cx="293.93" cy="86.51" r="2.5" fill="#3C5488" />
<circle cx="293.33" cy="79.82" r="2.5" fill="#3C5488" />
<circle cx="293.12" cy="81.57" r="2.5" fill="#3C5488" />
<circle cx="293.36" cy="70.81" r="2.5" fill="#3C5488" />
<circle cx="293.78" cy="72.68" r="2.5" fill="#3C5488" />
<circle cx="293.06" cy="72.69" r="2.5" fill="#3C5488" />
<circle cx="293.85" cy="77.21" r="2.5" fill="#3C5488" />
<circle cx="294.68" cy="79.81" r="2.5" fill="#3C5488" />
<path d="M291.86,78.96 L296.32,81.19 L300.78,83.36 L305.24,85.46 L309.70,87.50 L314.16,89.47 L318.62,91.38 L323.08,93.23 L327.54,95.01 L332.00,96.73 L336.46,98.38 L340.92,99.97 L345.38,101.50 L349.85,102.96 L354.31,104.36 L358.77,105.69 L363.23,106.96 L367.69,108.17 L372.15,109.31 L376.61,110.39 L381.07,111.40 L381.07,121.40 L376.61,119.17 L372.15,117.01 L367.69,114.91 L363.23,112.87 L358.77,110.89 L354.31,108.98 L349.85,107.14 L345.38,105.36 L340.92,103.64 L336.46,101.98 L332.00,100.39 L327.54,98.87 L323.08,97.41 L318.62,96.01 L314.16,94.67 L309.70,93.40 L305.24,92.20 L300.78,91.06 L296.32,89.98 L291.86,88.96Z" fill="rgba(165,165,165,0.55)" />
<line x1="291.86" y1="83.96" x2="381.07" y2="116.40" stroke="#000" stroke-width="2.6" />
</g>
<rect x="286.90" y="53.30" width="98.40" height="79.80" fill="none" stroke="#4d4d4d" stroke-width="0.9" />
<rect x="286.90" y="32.20" width="98.40" height="21.10" fill="#D9D9D9" stroke="#4d4d4d" stroke-width="0.9" />
<text transform="matrix(1,0,0,1.001,0,-0.041)" stroke="#1a1a1a" x="336.10" y="40.55" font-size="8.9" text-anchor="middle" fill="#1a1a1a"><tspan font-style="italic">SNRNP200</tspan>: R<tspan font-size="5.5" dy="1.5">s</tspan><tspan dy="-1.5"> = 0.755</tspan></text>
<text transform="matrix(1,0,0,1.001,0,-0.049)" stroke="#1a1a1a" x="336.10" y="49.45" font-size="8.9" text-anchor="middle" fill="#1a1a1a">P<tspan font-size="5.5" dy="1.5">r</tspan><tspan dy="-1.5"> = 127/156 = 0.81</tspan></text>
<text stroke="#1a1a1a" transform="matrix(1,0,0,1.001,0,-0.067)" x="337.54" y="66.70" font-size="9.3" font-style="italic">R</text>
<text stroke="#1a1a1a" transform="matrix(1,0,0,1.001,0,-0.067)" x="346.84" y="66.70" font-size="9.3">=</text>
<line x1="354.84" y1="63.50" x2="358.64" y2="63.50" stroke="#1a1a1a" stroke-width="0.9" />
<text stroke="#1a1a1a" transform="matrix(1,0,0,1.001,0,-0.067)" x="360.94" y="66.70" font-size="9.3" textLength="17.1" lengthAdjust="spacingAndGlyphs">0.68</text>
<clipPath id="ca3"><rect x="391.75" y="53.30" width="98.40" height="79.80"/></clipPath>
<rect x="391.75" y="53.30" width="98.40" height="79.80" fill="#fff" />
<line x1="401.80" y1="53.30" x2="401.80" y2="133.10" stroke="#EEEEEE" stroke-width="0.6" />
<line x1="425.90" y1="53.30" x2="425.90" y2="133.10" stroke="#EEEEEE" stroke-width="0.6" />
<line x1="450.00" y1="53.30" x2="450.00" y2="133.10" stroke="#EEEEEE" stroke-width="0.6" />
<line x1="474.10" y1="53.30" x2="474.10" y2="133.10" stroke="#EEEEEE" stroke-width="0.6" />
<line x1="391.75" y1="67.12" x2="490.15" y2="67.12" stroke="#EEEEEE" stroke-width="0.6" />
<line x1="391.75" y1="87.15" x2="490.15" y2="87.15" stroke="#EEEEEE" stroke-width="0.6" />
<line x1="391.75" y1="107.18" x2="490.15" y2="107.18" stroke="#EEEEEE" stroke-width="0.6" />
<line x1="391.75" y1="127.21" x2="490.15" y2="127.21" stroke="#EEEEEE" stroke-width="0.6" />
<line x1="413.85" y1="53.30" x2="413.85" y2="133.10" stroke="#E2E2E2" stroke-width="1.0" />
<line x1="437.95" y1="53.30" x2="437.95" y2="133.10" stroke="#E2E2E2" stroke-width="1.0" />
<line x1="462.05" y1="53.30" x2="462.05" y2="133.10" stroke="#E2E2E2" stroke-width="1.0" />
<line x1="486.15" y1="53.30" x2="486.15" y2="133.10" stroke="#E2E2E2" stroke-width="1.0" />
<line x1="391.75" y1="57.10" x2="490.15" y2="57.10" stroke="#E2E2E2" stroke-width="1.0" />
<line x1="391.75" y1="77.13" x2="490.15" y2="77.13" stroke="#E2E2E2" stroke-width="1.0" />
<line x1="391.75" y1="97.16" x2="490.15" y2="97.16" stroke="#E2E2E2" stroke-width="1.0" />
<line x1="391.75" y1="117.19" x2="490.15" y2="117.19" stroke="#E2E2E2" stroke-width="1.0" />
<g clip-path="url(#ca3)">
<line x1="409.03" y1="53.30" x2="409.03" y2="133.10" stroke="#666" stroke-width="1.1" stroke-dasharray="4.6,4.6"/>
<line x1="391.75" y1="90.48" x2="490.15" y2="90.48" stroke="#666" stroke-width="1.1" stroke-dasharray="4.6,4.6"/>
<circle cx="463.24" cy="80.65" r="2.5" fill="#E64B35" />
<circle cx="468.14" cy="82.16" r="2.5" fill="#E64B35" />
<circle cx="464.77" cy="78.66" r="2.5" fill="#E64B35" />
<circle cx="454.88" cy="78.41" r="2.5" fill="#E64B35" />
<circle cx="465.30" cy="82.68" r="2.5" fill="#E64B35" />
<circle cx="468.59" cy="83.40" r="2.5" fill="#E64B35" />
<circle cx="455.82" cy="81.26" r="2.5" fill="#E64B35" />
<circle cx="456.83" cy="79.91" r="2.5" fill="#E64B35" />
<circle cx="451.40" cy="83.77" r="2.5" fill="#E64B35" />
<circle cx="455.59" cy="82.09" r="2.5" fill="#E64B35" />
<circle cx="463.63" cy="80.56" r="2.5" fill="#E64B35" />
<circle cx="458.15" cy="80.98" r="2.5" fill="#E64B35" />
<circle cx="459.06" cy="112.41" r="2.5" fill="#E64B35" />
<circle cx="450.15" cy="105.81" r="2.5" fill="#E64B35" />
<circle cx="450.59" cy="112.50" r="2.5" fill="#E64B35" />
<circle cx="458.03" cy="119.81" r="2.5" fill="#E64B35" />
<circle cx="465.33" cy="112.30" r="2.5" fill="#E64B35" />
<circle cx="466.95" cy="116.21" r="2.5" fill="#E64B35" />
<circle cx="473.94" cy="111.79" r="2.5" fill="#E64B35" />
<circle cx="447.52" cy="99.42" r="2.5" fill="#E64B35" />
<circle cx="475.93" cy="106.11" r="2.5" fill="#E64B35" />
<circle cx="484.81" cy="111.66" r="2.5" fill="#E64B35" />
<circle cx="478.79" cy="114.37" r="2.5" fill="#E64B35" />
<circle cx="484.31" cy="112.20" r="2.5" fill="#E64B35" />
<circle cx="483.31" cy="106.45" r="2.5" fill="#E64B35" />
<circle cx="456.82" cy="98.64" r="2.5" fill="#E64B35" />
<circle cx="456.23" cy="118.06" r="2.5" fill="#E64B35" />
<circle cx="472.26" cy="96.98" r="2.5" fill="#E64B35" />
<circle cx="447.35" cy="107.32" r="2.5" fill="#E64B35" />
<circle cx="467.77" cy="104.85" r="2.5" fill="#E64B35" />
<circle cx="447.03" cy="102.39" r="2.5" fill="#E64B35" />
<circle cx="480.90" cy="113.88" r="2.5" fill="#E64B35" />
<circle cx="478.60" cy="102.59" r="2.5" fill="#E64B35" />
<circle cx="472.64" cy="100.80" r="2.5" fill="#E64B35" />
<circle cx="458.18" cy="119.60" r="2.5" fill="#E64B35" />
<circle cx="454.69" cy="103.15" r="2.5" fill="#E64B35" />
<circle cx="454.86" cy="117.42" r="2.5" fill="#E64B35" />
<circle cx="473.41" cy="110.54" r="2.5" fill="#E64B35" />
<circle cx="479.88" cy="107.39" r="2.5" fill="#E64B35" />
<circle cx="482.45" cy="115.16" r="2.5" fill="#E64B35" />
<circle cx="471.51" cy="113.02" r="2.5" fill="#E64B35" />
<circle cx="476.35" cy="115.13" r="2.5" fill="#E64B35" />
<circle cx="481.49" cy="117.19" r="2.5" fill="#E64B35" />
<circle cx="480.53" cy="116.70" r="2.5" fill="#E64B35" />
<circle cx="470.79" cy="118.11" r="2.5" fill="#E64B35" />
<circle cx="485.39" cy="117.04" r="2.5" fill="#E64B35" />
<circle cx="479.89" cy="112.99" r="2.5" fill="#E64B35" />
<circle cx="467.82" cy="115.14" r="2.5" fill="#E64B35" />
<circle cx="477.50" cy="117.94" r="2.5" fill="#E64B35" />
<circle cx="475.07" cy="116.10" r="2.5" fill="#E64B35" />
<circle cx="467.22" cy="111.13" r="2.5" fill="#E64B35" />
<circle cx="467.90" cy="113.85" r="2.5" fill="#E64B35" />
<circle cx="470.37" cy="112.09" r="2.5" fill="#E64B35" />
<circle cx="472.31" cy="114.03" r="2.5" fill="#E64B35" />
<circle cx="482.19" cy="120.03" r="2.5" fill="#E64B35" />
<circle cx="485.64" cy="118.05" r="2.5" fill="#E64B35" />
<circle cx="465.65" cy="113.04" r="2.5" fill="#E64B35" />
<circle cx="485.75" cy="117.63" r="2.5" fill="#E64B35" />
<circle cx="482.88" cy="112.66" r="2.5" fill="#E64B35" />
<circle cx="470.31" cy="111.64" r="2.5" fill="#E64B35" />
<circle cx="421.07" cy="76.92" r="2.5" fill="#1FB3D3" />
<circle cx="432.30" cy="76.87" r="2.5" fill="#1FB3D3" />
<circle cx="428.61" cy="84.16" r="2.5" fill="#1FB3D3" />
<circle cx="418.26" cy="76.33" r="2.5" fill="#1FB3D3" />
<circle cx="423.42" cy="78.68" r="2.5" fill="#1FB3D3" />
<circle cx="425.28" cy="77.54" r="2.5" fill="#1FB3D3" />
<circle cx="430.40" cy="79.01" r="2.5" fill="#1FB3D3" />
<circle cx="413.60" cy="84.65" r="2.5" fill="#1FB3D3" />
<circle cx="432.96" cy="83.16" r="2.5" fill="#1FB3D3" />
<circle cx="424.07" cy="86.20" r="2.5" fill="#1FB3D3" />
<circle cx="433.95" cy="72.46" r="2.5" fill="#1FB3D3" />
<circle cx="422.57" cy="72.62" r="2.5" fill="#1FB3D3" />
<circle cx="418.64" cy="76.17" r="2.5" fill="#1FB3D3" />
<circle cx="421.90" cy="83.10" r="2.5" fill="#1FB3D3" />
<circle cx="432.09" cy="76.47" r="2.5" fill="#1FB3D3" />
<circle cx="410.43" cy="88.23" r="2.5" fill="#1FB3D3" />
<circle cx="421.01" cy="100.99" r="2.5" fill="#1FB3D3" />
<circle cx="412.32" cy="85.72" r="2.5" fill="#1FB3D3" />
<circle cx="422.99" cy="100.35" r="2.5" fill="#1FB3D3" />
<circle cx="422.03" cy="108.15" r="2.5" fill="#1FB3D3" />
<circle cx="420.61" cy="108.81" r="2.5" fill="#1FB3D3" />
<circle cx="414.15" cy="91.66" r="2.5" fill="#1FB3D3" />
<circle cx="416.49" cy="107.65" r="2.5" fill="#1FB3D3" />
<circle cx="421.17" cy="107.34" r="2.5" fill="#1FB3D3" />
<circle cx="418.39" cy="98.73" r="2.5" fill="#1FB3D3" />
<circle cx="413.39" cy="104.56" r="2.5" fill="#1FB3D3" />
<circle cx="419.35" cy="99.89" r="2.5" fill="#1FB3D3" />
<circle cx="420.30" cy="114.15" r="2.5" fill="#1FB3D3" />
<circle cx="423.11" cy="87.40" r="2.5" fill="#1FB3D3" />
<circle cx="414.60" cy="102.91" r="2.5" fill="#1FB3D3" />
<circle cx="419.86" cy="114.63" r="2.5" fill="#1FB3D3" />
<circle cx="426.20" cy="114.63" r="2.5" fill="#1FB3D3" />
<circle cx="430.18" cy="123.04" r="2.5" fill="#1FB3D3" />
<circle cx="438.73" cy="111.24" r="2.5" fill="#1FB3D3" />
<circle cx="440.21" cy="115.67" r="2.5" fill="#1FB3D3" />
<circle cx="403.39" cy="86.52" r="2.5" fill="#00A087" />
<circle cx="407.64" cy="84.85" r="2.5" fill="#00A087" />
<circle cx="405.37" cy="81.48" r="2.5" fill="#00A087" />
<circle cx="403.90" cy="77.36" r="2.5" fill="#00A087" />
<circle cx="402.94" cy="76.25" r="2.5" fill="#00A087" />
<circle cx="403.62" cy="70.44" r="2.5" fill="#00A087" />
<circle cx="407.85" cy="70.38" r="2.5" fill="#00A087" />
<circle cx="407.17" cy="81.32" r="2.5" fill="#00A087" />
<circle cx="402.59" cy="77.43" r="2.5" fill="#00A087" />
<circle cx="408.33" cy="86.53" r="2.5" fill="#00A087" />
<circle cx="405.59" cy="82.63" r="2.5" fill="#00A087" />
<circle cx="406.51" cy="73.92" r="2.5" fill="#00A087" />
<circle cx="405.51" cy="79.46" r="2.5" fill="#00A087" />
<circle cx="404.52" cy="83.48" r="2.5" fill="#00A087" />
<circle cx="404.84" cy="82.22" r="2.5" fill="#00A087" />
<circle cx="402.43" cy="76.70" r="2.5" fill="#00A087" />
<circle cx="402.30" cy="80.36" r="2.5" fill="#00A087" />
<circle cx="407.55" cy="78.49" r="2.5" fill="#00A087" />
<circle cx="405.60" cy="79.92" r="2.5" fill="#00A087" />
<circle cx="403.47" cy="75.63" r="2.5" fill="#00A087" />
<circle cx="405.69" cy="80.35" r="2.5" fill="#00A087" />
<circle cx="404.43" cy="77.29" r="2.5" fill="#00A087" />
<circle cx="404.12" cy="78.68" r="2.5" fill="#00A087" />
<circle cx="406.30" cy="74.57" r="2.5" fill="#00A087" />
<circle cx="406.36" cy="84.03" r="2.5" fill="#00A087" />
<circle cx="405.42" cy="86.41" r="2.5" fill="#00A087" />
<circle cx="403.98" cy="85.31" r="2.5" fill="#00A087" />
<circle cx="403.17" cy="75.22" r="2.5" fill="#00A087" />
<circle cx="407.20" cy="69.22" r="2.5" fill="#00A087" />
<circle cx="405.91" cy="84.43" r="2.5" fill="#00A087" />
<circle cx="408.00" cy="81.00" r="2.5" fill="#00A087" />
<circle cx="404.21" cy="74.66" r="2.5" fill="#00A087" />
<circle cx="406.02" cy="69.84" r="2.5" fill="#00A087" />
<circle cx="402.20" cy="84.62" r="2.5" fill="#00A087" />
<circle cx="405.99" cy="71.58" r="2.5" fill="#00A087" />
<circle cx="404.82" cy="107.85" r="2.5" fill="#00A087" />
<circle cx="401.58" cy="122.30" r="2.5" fill="#00A087" />
<circle cx="400.19" cy="76.65" r="2.5" fill="#3C5488" />
<circle cx="399.50" cy="83.34" r="2.5" fill="#3C5488" />
<circle cx="398.17" cy="67.56" r="2.5" fill="#3C5488" />
<circle cx="399.20" cy="68.61" r="2.5" fill="#3C5488" />
<circle cx="398.61" cy="87.06" r="2.5" fill="#3C5488" />
<circle cx="399.91" cy="68.53" r="2.5" fill="#3C5488" />
<circle cx="397.81" cy="71.03" r="2.5" fill="#3C5488" />
<circle cx="399.79" cy="66.27" r="2.5" fill="#3C5488" />
<circle cx="398.19" cy="68.26" r="2.5" fill="#3C5488" />
<circle cx="397.93" cy="78.26" r="2.5" fill="#3C5488" />
<circle cx="398.08" cy="75.52" r="2.5" fill="#3C5488" />
<circle cx="399.54" cy="83.06" r="2.5" fill="#3C5488" />
<circle cx="398.70" cy="84.57" r="2.5" fill="#3C5488" />
<circle cx="399.11" cy="85.56" r="2.5" fill="#3C5488" />
<circle cx="398.26" cy="74.55" r="2.5" fill="#3C5488" />
<circle cx="399.14" cy="88.41" r="2.5" fill="#3C5488" />
<circle cx="399.24" cy="77.09" r="2.5" fill="#3C5488" />
<circle cx="398.26" cy="72.44" r="2.5" fill="#3C5488" />
<circle cx="398.19" cy="97.23" r="2.5" fill="#3C5488" />
<circle cx="400.10" cy="105.34" r="2.5" fill="#3C5488" />
<path d="M397.45,75.28 L401.83,77.51 L406.22,79.67 L410.61,81.78 L414.99,83.81 L419.38,85.79 L423.77,87.70 L428.15,89.54 L432.54,91.33 L436.93,93.04 L441.31,94.70 L445.70,96.29 L450.09,97.81 L454.47,99.28 L458.86,100.67 L463.25,102.01 L467.63,103.28 L472.02,104.48 L476.41,105.63 L480.79,106.70 L485.18,107.72 L485.18,117.72 L480.79,115.49 L476.41,113.32 L472.02,111.22 L467.63,109.18 L463.25,107.21 L458.86,105.30 L454.47,103.45 L450.09,101.67 L445.70,99.95 L441.31,98.30 L436.93,96.71 L432.54,95.18 L428.15,93.72 L423.77,92.32 L419.38,90.99 L414.99,89.72 L410.61,88.51 L406.22,87.37 L401.83,86.29 L397.45,85.28Z" fill="rgba(165,165,165,0.55)" />
<line x1="397.45" y1="80.28" x2="485.18" y2="112.72" stroke="#000" stroke-width="2.6" />
</g>
<rect x="391.75" y="53.30" width="98.40" height="79.80" fill="none" stroke="#4d4d4d" stroke-width="0.9" />
<rect x="391.75" y="32.20" width="98.40" height="21.10" fill="#D9D9D9" stroke="#4d4d4d" stroke-width="0.9" />
<text transform="matrix(1,0,0,1.001,0,-0.041)" stroke="#1a1a1a" x="440.95" y="40.55" font-size="8.9" text-anchor="middle" fill="#1a1a1a"><tspan font-style="italic">COPB2</tspan>: R<tspan font-size="5.5" dy="1.5">s</tspan><tspan dy="-1.5"> = 0.93</tspan></text>
<text transform="matrix(1,0,0,1.001,0,-0.049)" stroke="#1a1a1a" x="440.95" y="49.45" font-size="8.9" text-anchor="middle" fill="#1a1a1a">P<tspan font-size="5.5" dy="1.5">r</tspan><tspan dy="-1.5"> = 53/80 = 0.66</tspan></text>
<text stroke="#1a1a1a" transform="matrix(1,0,0,1.001,0,-0.067)" x="440.18" y="66.70" font-size="9.3" font-style="italic">R</text>
<text stroke="#1a1a1a" transform="matrix(1,0,0,1.001,0,-0.067)" x="449.48" y="66.70" font-size="9.3">=</text>
<line x1="457.48" y1="63.50" x2="461.28" y2="63.50" stroke="#1a1a1a" stroke-width="0.9" />
<text stroke="#1a1a1a" transform="matrix(1,0,0,1.001,0,-0.067)" x="463.58" y="66.70" font-size="9.3" textLength="17.1" lengthAdjust="spacingAndGlyphs">0.68</text>
<clipPath id="ca4"><rect x="496.60" y="53.30" width="98.40" height="79.80"/></clipPath>
<rect x="496.60" y="53.30" width="98.40" height="79.80" fill="#fff" />
<line x1="506.65" y1="53.30" x2="506.65" y2="133.10" stroke="#EEEEEE" stroke-width="0.6" />
<line x1="530.75" y1="53.30" x2="530.75" y2="133.10" stroke="#EEEEEE" stroke-width="0.6" />
<line x1="554.85" y1="53.30" x2="554.85" y2="133.10" stroke="#EEEEEE" stroke-width="0.6" />
<line x1="578.95" y1="53.30" x2="578.95" y2="133.10" stroke="#EEEEEE" stroke-width="0.6" />
<line x1="496.60" y1="67.12" x2="595.00" y2="67.12" stroke="#EEEEEE" stroke-width="0.6" />
<line x1="496.60" y1="87.15" x2="595.00" y2="87.15" stroke="#EEEEEE" stroke-width="0.6" />
<line x1="496.60" y1="107.18" x2="595.00" y2="107.18" stroke="#EEEEEE" stroke-width="0.6" />
<line x1="496.60" y1="127.21" x2="595.00" y2="127.21" stroke="#EEEEEE" stroke-width="0.6" />
<line x1="518.70" y1="53.30" x2="518.70" y2="133.10" stroke="#E2E2E2" stroke-width="1.0" />
<line x1="542.80" y1="53.30" x2="542.80" y2="133.10" stroke="#E2E2E2" stroke-width="1.0" />
<line x1="566.90" y1="53.30" x2="566.90" y2="133.10" stroke="#E2E2E2" stroke-width="1.0" />
<line x1="591.00" y1="53.30" x2="591.00" y2="133.10" stroke="#E2E2E2" stroke-width="1.0" />
<line x1="496.60" y1="57.10" x2="595.00" y2="57.10" stroke="#E2E2E2" stroke-width="1.0" />
<line x1="496.60" y1="77.13" x2="595.00" y2="77.13" stroke="#E2E2E2" stroke-width="1.0" />
<line x1="496.60" y1="97.16" x2="595.00" y2="97.16" stroke="#E2E2E2" stroke-width="1.0" />
<line x1="496.60" y1="117.19" x2="595.00" y2="117.19" stroke="#E2E2E2" stroke-width="1.0" />
<g clip-path="url(#ca4)">
<line x1="513.88" y1="53.30" x2="513.88" y2="133.10" stroke="#666" stroke-width="1.1" stroke-dasharray="4.6,4.6"/>
<line x1="496.60" y1="90.48" x2="595.00" y2="90.48" stroke="#666" stroke-width="1.1" stroke-dasharray="4.6,4.6"/>
<circle cx="573.11" cy="103.33" r="2.5" fill="#E64B35" />
<circle cx="579.00" cy="85.92" r="2.5" fill="#E64B35" />
<circle cx="573.59" cy="127.20" r="2.5" fill="#E64B35" />
<circle cx="561.80" cy="85.99" r="2.5" fill="#E64B35" />
<circle cx="556.04" cy="126.14" r="2.5" fill="#E64B35" />
<circle cx="575.19" cy="100.23" r="2.5" fill="#E64B35" />
<circle cx="569.20" cy="77.43" r="2.5" fill="#E64B35" />
<circle cx="557.72" cy="111.54" r="2.5" fill="#E64B35" />
<circle cx="558.84" cy="101.31" r="2.5" fill="#E64B35" />
<circle cx="586.55" cy="83.13" r="2.5" fill="#E64B35" />
<circle cx="568.21" cy="114.99" r="2.5" fill="#E64B35" />
<circle cx="579.75" cy="118.50" r="2.5" fill="#E64B35" />
<circle cx="586.82" cy="104.81" r="2.5" fill="#E64B35" />
<circle cx="557.74" cy="101.08" r="2.5" fill="#E64B35" />
<circle cx="587.52" cy="83.96" r="2.5" fill="#E64B35" />
<circle cx="560.63" cy="83.91" r="2.5" fill="#E64B35" />
<circle cx="585.46" cy="78.40" r="2.5" fill="#E64B35" />
<circle cx="554.59" cy="106.55" r="2.5" fill="#E64B35" />
<circle cx="579.12" cy="96.26" r="2.5" fill="#E64B35" />
<circle cx="579.95" cy="111.93" r="2.5" fill="#E64B35" />
<circle cx="564.73" cy="77.08" r="2.5" fill="#E64B35" />
<circle cx="577.50" cy="107.16" r="2.5" fill="#E64B35" />
<circle cx="588.87" cy="111.63" r="2.5" fill="#E64B35" />
<circle cx="550.82" cy="83.80" r="2.5" fill="#E64B35" />
<circle cx="561.22" cy="112.98" r="2.5" fill="#E64B35" />
<circle cx="561.28" cy="85.94" r="2.5" fill="#E64B35" />
<circle cx="556.07" cy="87.97" r="2.5" fill="#E64B35" />
<circle cx="569.27" cy="112.04" r="2.5" fill="#E64B35" />
<circle cx="584.16" cy="78.57" r="2.5" fill="#E64B35" />
<circle cx="571.60" cy="126.56" r="2.5" fill="#E64B35" />
<circle cx="564.96" cy="79.90" r="2.5" fill="#E64B35" />
<circle cx="575.91" cy="118.40" r="2.5" fill="#E64B35" />
<circle cx="549.84" cy="77.72" r="2.5" fill="#E64B35" />
<circle cx="561.17" cy="93.10" r="2.5" fill="#E64B35" />
<circle cx="553.05" cy="77.71" r="2.5" fill="#E64B35" />
<circle cx="566.04" cy="125.61" r="2.5" fill="#E64B35" />
<circle cx="572.20" cy="88.28" r="2.5" fill="#E64B35" />
<circle cx="588.87" cy="88.63" r="2.5" fill="#E64B35" />
<circle cx="554.14" cy="79.87" r="2.5" fill="#E64B35" />
<circle cx="549.15" cy="123.42" r="2.5" fill="#E64B35" />
<circle cx="570.76" cy="126.99" r="2.5" fill="#E64B35" />
<circle cx="571.11" cy="76.95" r="2.5" fill="#E64B35" />
<circle cx="563.89" cy="92.00" r="2.5" fill="#E64B35" />
<circle cx="554.88" cy="77.47" r="2.5" fill="#E64B35" />
<circle cx="577.45" cy="120.98" r="2.5" fill="#E64B35" />
<circle cx="587.83" cy="86.14" r="2.5" fill="#E64B35" />
<circle cx="574.32" cy="87.03" r="2.5" fill="#E64B35" />
<circle cx="583.99" cy="123.26" r="2.5" fill="#E64B35" />
<circle cx="548.64" cy="83.51" r="2.5" fill="#E64B35" />
<circle cx="585.05" cy="127.08" r="2.5" fill="#E64B35" />
<circle cx="584.18" cy="76.60" r="2.5" fill="#E64B35" />
<circle cx="573.64" cy="115.41" r="2.5" fill="#E64B35" />
<circle cx="583.79" cy="109.75" r="2.5" fill="#E64B35" />
<circle cx="587.03" cy="93.47" r="2.5" fill="#E64B35" />
<circle cx="583.76" cy="124.17" r="2.5" fill="#E64B35" />
<circle cx="583.45" cy="103.60" r="2.5" fill="#E64B35" />
<circle cx="576.86" cy="121.42" r="2.5" fill="#E64B35" />
<circle cx="585.37" cy="123.61" r="2.5" fill="#E64B35" />
<circle cx="590.05" cy="114.73" r="2.5" fill="#E64B35" />
<circle cx="588.30" cy="118.96" r="2.5" fill="#E64B35" />
<circle cx="586.53" cy="105.47" r="2.5" fill="#E64B35" />
<circle cx="585.47" cy="117.82" r="2.5" fill="#E64B35" />
<circle cx="578.93" cy="117.94" r="2.5" fill="#E64B35" />
<circle cx="584.29" cy="104.24" r="2.5" fill="#E64B35" />
<circle cx="581.60" cy="122.36" r="2.5" fill="#E64B35" />
<circle cx="575.75" cy="92.97" r="2.5" fill="#E64B35" />
<circle cx="582.64" cy="95.08" r="2.5" fill="#E64B35" />
<circle cx="588.32" cy="122.40" r="2.5" fill="#E64B35" />
<circle cx="514.42" cy="93.13" r="2.5" fill="#1FB3D3" />
<circle cx="515.96" cy="112.75" r="2.5" fill="#1FB3D3" />
<circle cx="521.31" cy="89.36" r="2.5" fill="#1FB3D3" />
<circle cx="525.98" cy="113.99" r="2.5" fill="#1FB3D3" />
<circle cx="515.23" cy="74.51" r="2.5" fill="#1FB3D3" />
<circle cx="518.91" cy="86.34" r="2.5" fill="#1FB3D3" />
<circle cx="520.61" cy="92.56" r="2.5" fill="#1FB3D3" />
<circle cx="528.29" cy="105.79" r="2.5" fill="#1FB3D3" />
<circle cx="528.13" cy="102.92" r="2.5" fill="#1FB3D3" />
<circle cx="517.62" cy="100.17" r="2.5" fill="#1FB3D3" />
<circle cx="516.55" cy="101.06" r="2.5" fill="#1FB3D3" />
<circle cx="516.30" cy="119.87" r="2.5" fill="#1FB3D3" />
<circle cx="518.62" cy="117.89" r="2.5" fill="#1FB3D3" />
<circle cx="517.42" cy="80.65" r="2.5" fill="#1FB3D3" />
<circle cx="517.80" cy="114.06" r="2.5" fill="#1FB3D3" />
<circle cx="526.21" cy="109.80" r="2.5" fill="#1FB3D3" />
<circle cx="522.55" cy="77.28" r="2.5" fill="#1FB3D3" />
<circle cx="517.69" cy="71.13" r="2.5" fill="#1FB3D3" />
<circle cx="527.69" cy="76.31" r="2.5" fill="#1FB3D3" />
<circle cx="524.58" cy="69.41" r="2.5" fill="#1FB3D3" />
<circle cx="518.36" cy="102.10" r="2.5" fill="#1FB3D3" />
<circle cx="516.88" cy="73.15" r="2.5" fill="#1FB3D3" />
<circle cx="527.19" cy="84.94" r="2.5" fill="#1FB3D3" />
<circle cx="514.34" cy="107.59" r="2.5" fill="#1FB3D3" />
<circle cx="528.54" cy="98.95" r="2.5" fill="#1FB3D3" />
<circle cx="514.75" cy="92.03" r="2.5" fill="#1FB3D3" />
<circle cx="523.05" cy="82.65" r="2.5" fill="#1FB3D3" />
<circle cx="520.27" cy="109.60" r="2.5" fill="#1FB3D3" />
<circle cx="523.74" cy="114.48" r="2.5" fill="#1FB3D3" />
<circle cx="527.97" cy="97.52" r="2.5" fill="#1FB3D3" />
<circle cx="528.42" cy="75.74" r="2.5" fill="#1FB3D3" />
<circle cx="521.72" cy="106.02" r="2.5" fill="#1FB3D3" />
<circle cx="527.66" cy="94.88" r="2.5" fill="#1FB3D3" />
<circle cx="520.55" cy="117.75" r="2.5" fill="#1FB3D3" />
<circle cx="521.04" cy="72.50" r="2.5" fill="#1FB3D3" />
<circle cx="520.77" cy="84.02" r="2.5" fill="#1FB3D3" />
<circle cx="523.72" cy="113.66" r="2.5" fill="#1FB3D3" />
<circle cx="514.92" cy="86.55" r="2.5" fill="#1FB3D3" />
<circle cx="544.94" cy="114.68" r="2.5" fill="#1FB3D3" />
<circle cx="543.26" cy="94.98" r="2.5" fill="#1FB3D3" />
<circle cx="545.72" cy="116.52" r="2.5" fill="#1FB3D3" />
<circle cx="543.77" cy="102.23" r="2.5" fill="#1FB3D3" />
<circle cx="541.20" cy="82.92" r="2.5" fill="#1FB3D3" />
<circle cx="532.45" cy="77.43" r="2.5" fill="#1FB3D3" />
<circle cx="532.72" cy="100.64" r="2.5" fill="#1FB3D3" />
<circle cx="545.59" cy="103.72" r="2.5" fill="#1FB3D3" />
<circle cx="543.32" cy="112.12" r="2.5" fill="#1FB3D3" />
<circle cx="545.58" cy="89.71" r="2.5" fill="#1FB3D3" />
<circle cx="539.12" cy="120.10" r="2.5" fill="#1FB3D3" />
<circle cx="536.71" cy="109.46" r="2.5" fill="#1FB3D3" />
<circle cx="537.90" cy="83.92" r="2.5" fill="#1FB3D3" />
<circle cx="534.87" cy="93.61" r="2.5" fill="#1FB3D3" />
<circle cx="532.35" cy="118.09" r="2.5" fill="#1FB3D3" />
<circle cx="537.07" cy="88.03" r="2.5" fill="#1FB3D3" />
<circle cx="543.50" cy="77.00" r="2.5" fill="#1FB3D3" />
<circle cx="542.95" cy="97.84" r="2.5" fill="#1FB3D3" />
<circle cx="533.23" cy="95.39" r="2.5" fill="#1FB3D3" />
<circle cx="546.18" cy="78.59" r="2.5" fill="#1FB3D3" />
<circle cx="536.04" cy="85.09" r="2.5" fill="#1FB3D3" />
<circle cx="540.48" cy="86.07" r="2.5" fill="#1FB3D3" />
<circle cx="544.20" cy="93.83" r="2.5" fill="#1FB3D3" />
<circle cx="545.67" cy="82.43" r="2.5" fill="#1FB3D3" />
<circle cx="535.26" cy="77.99" r="2.5" fill="#1FB3D3" />
<circle cx="532.58" cy="85.34" r="2.5" fill="#1FB3D3" />
<circle cx="509.80" cy="89.31" r="2.5" fill="#00A087" />
<circle cx="510.11" cy="68.71" r="2.5" fill="#00A087" />
<circle cx="512.01" cy="73.70" r="2.5" fill="#00A087" />
<circle cx="509.58" cy="81.10" r="2.5" fill="#00A087" />
<circle cx="507.39" cy="84.77" r="2.5" fill="#00A087" />
<circle cx="510.18" cy="91.63" r="2.5" fill="#00A087" />
<circle cx="510.30" cy="76.84" r="2.5" fill="#00A087" />
<circle cx="510.03" cy="95.90" r="2.5" fill="#00A087" />
<circle cx="510.44" cy="92.53" r="2.5" fill="#00A087" />
<circle cx="506.93" cy="88.02" r="2.5" fill="#00A087" />
<circle cx="508.05" cy="72.65" r="2.5" fill="#00A087" />
<circle cx="508.72" cy="73.08" r="2.5" fill="#00A087" />
<circle cx="507.35" cy="74.05" r="2.5" fill="#00A087" />
<circle cx="508.16" cy="75.17" r="2.5" fill="#00A087" />
<circle cx="511.35" cy="70.32" r="2.5" fill="#00A087" />
<circle cx="507.99" cy="69.49" r="2.5" fill="#00A087" />
<circle cx="509.71" cy="74.58" r="2.5" fill="#00A087" />
<circle cx="509.84" cy="74.83" r="2.5" fill="#00A087" />
<circle cx="507.97" cy="82.14" r="2.5" fill="#00A087" />
<circle cx="507.27" cy="93.72" r="2.5" fill="#00A087" />
<circle cx="510.02" cy="79.43" r="2.5" fill="#00A087" />
<circle cx="509.95" cy="95.55" r="2.5" fill="#00A087" />
<circle cx="509.64" cy="79.40" r="2.5" fill="#00A087" />
<circle cx="508.08" cy="79.00" r="2.5" fill="#00A087" />
<circle cx="511.20" cy="85.79" r="2.5" fill="#00A087" />
<circle cx="508.41" cy="94.12" r="2.5" fill="#00A087" />
<circle cx="507.62" cy="78.28" r="2.5" fill="#00A087" />
<circle cx="511.22" cy="94.61" r="2.5" fill="#00A087" />
<circle cx="509.44" cy="68.22" r="2.5" fill="#00A087" />
<circle cx="510.01" cy="80.36" r="2.5" fill="#00A087" />
<circle cx="507.03" cy="78.08" r="2.5" fill="#00A087" />
<circle cx="511.81" cy="68.98" r="2.5" fill="#00A087" />
<circle cx="507.87" cy="72.77" r="2.5" fill="#00A087" />
<circle cx="511.34" cy="76.87" r="2.5" fill="#00A087" />
<circle cx="510.70" cy="87.60" r="2.5" fill="#00A087" />
<circle cx="511.88" cy="109.03" r="2.5" fill="#00A087" />
<circle cx="508.93" cy="117.88" r="2.5" fill="#00A087" />
<circle cx="508.20" cy="120.09" r="2.5" fill="#00A087" />
<circle cx="504.99" cy="90.30" r="2.5" fill="#3C5488" />
<circle cx="504.39" cy="71.02" r="2.5" fill="#3C5488" />
<circle cx="503.32" cy="85.57" r="2.5" fill="#3C5488" />
<circle cx="504.59" cy="64.71" r="2.5" fill="#3C5488" />
<circle cx="502.89" cy="91.01" r="2.5" fill="#3C5488" />
<circle cx="502.76" cy="83.82" r="2.5" fill="#3C5488" />
<circle cx="503.32" cy="83.53" r="2.5" fill="#3C5488" />
<circle cx="504.73" cy="81.61" r="2.5" fill="#3C5488" />
<circle cx="503.48" cy="73.85" r="2.5" fill="#3C5488" />
<circle cx="504.09" cy="83.01" r="2.5" fill="#3C5488" />
<circle cx="503.53" cy="78.16" r="2.5" fill="#3C5488" />
<circle cx="503.87" cy="71.94" r="2.5" fill="#3C5488" />
<circle cx="502.92" cy="81.22" r="2.5" fill="#3C5488" />
<circle cx="502.71" cy="82.10" r="2.5" fill="#3C5488" />
<circle cx="504.57" cy="88.99" r="2.5" fill="#3C5488" />
<circle cx="503.11" cy="76.62" r="2.5" fill="#3C5488" />
<circle cx="504.90" cy="74.68" r="2.5" fill="#3C5488" />
<circle cx="505.08" cy="70.19" r="2.5" fill="#3C5488" />
<circle cx="504.68" cy="65.43" r="2.5" fill="#3C5488" />
<circle cx="504.22" cy="88.32" r="2.5" fill="#3C5488" />
<circle cx="503.90" cy="83.14" r="2.5" fill="#3C5488" />
<circle cx="504.87" cy="94.03" r="2.5" fill="#3C5488" />
<circle cx="502.92" cy="79.85" r="2.5" fill="#3C5488" />
<circle cx="502.55" cy="75.54" r="2.5" fill="#3C5488" />
<circle cx="502.83" cy="69.00" r="2.5" fill="#3C5488" />
<circle cx="504.10" cy="66.73" r="2.5" fill="#3C5488" />
<circle cx="502.85" cy="64.50" r="2.5" fill="#3C5488" />
<circle cx="504.60" cy="71.50" r="2.5" fill="#3C5488" />
<circle cx="502.64" cy="82.79" r="2.5" fill="#3C5488" />
<circle cx="504.35" cy="83.08" r="2.5" fill="#3C5488" />
<circle cx="503.90" cy="80.21" r="2.5" fill="#3C5488" />
<circle cx="504.36" cy="73.49" r="2.5" fill="#3C5488" />
<circle cx="504.68" cy="84.98" r="2.5" fill="#3C5488" />
<circle cx="504.72" cy="90.86" r="2.5" fill="#3C5488" />
<circle cx="504.67" cy="79.75" r="2.5" fill="#3C5488" />
<circle cx="504.51" cy="101.66" r="2.5" fill="#3C5488" />
<path d="M502.30,77.49 L506.66,79.61 L511.03,81.66 L515.39,83.66 L519.76,85.58 L524.12,87.45 L528.48,89.25 L532.85,90.98 L537.21,92.65 L541.58,94.26 L545.94,95.80 L550.31,97.28 L554.67,98.70 L559.04,100.05 L563.40,101.34 L567.77,102.56 L572.13,103.72 L576.49,104.81 L580.86,105.85 L585.22,106.81 L589.59,107.72 L589.59,117.72 L585.22,115.60 L580.86,113.54 L576.49,111.55 L572.13,109.62 L567.77,107.76 L563.40,105.96 L559.04,104.23 L554.67,102.55 L550.31,100.95 L545.94,99.40 L541.58,97.92 L537.21,96.51 L532.85,95.16 L528.48,93.87 L524.12,92.65 L519.76,91.49 L515.39,90.39 L511.03,89.36 L506.66,88.39 L502.30,87.49Z" fill="rgba(165,165,165,0.55)" />
<line x1="502.30" y1="82.49" x2="589.59" y2="112.72" stroke="#000" stroke-width="2.6" />
</g>
<rect x="496.60" y="53.30" width="98.40" height="79.80" fill="none" stroke="#4d4d4d" stroke-width="0.9" />
<rect x="496.60" y="32.20" width="98.40" height="21.10" fill="#D9D9D9" stroke="#4d4d4d" stroke-width="0.9" />
<text transform="matrix(1,0,0,1.001,0,-0.041)" stroke="#1a1a1a" x="545.80" y="40.55" font-size="8.9" text-anchor="middle" fill="#1a1a1a"><tspan font-style="italic">COPA</tspan>: R<tspan font-size="5.5" dy="1.5">s</tspan><tspan dy="-1.5"> = 0.87</tspan></text>
<text transform="matrix(1,0,0,1.001,0,-0.049)" stroke="#1a1a1a" x="545.80" y="49.45" font-size="8.9" text-anchor="middle" fill="#1a1a1a">P<tspan font-size="5.5" dy="1.5">r</tspan><tspan dy="-1.5"> = 91/132 = 0.69</tspan></text>
<text stroke="#1a1a1a" transform="matrix(1,0,0,1.001,0,-0.067)" x="551.67" y="66.70" font-size="9.3" font-style="italic">R</text>
<text stroke="#1a1a1a" transform="matrix(1,0,0,1.001,0,-0.067)" x="560.97" y="66.70" font-size="9.3">=</text>
<line x1="568.97" y1="63.50" x2="572.77" y2="63.50" stroke="#1a1a1a" stroke-width="0.9" />
<text stroke="#1a1a1a" transform="matrix(1,0,0,1.001,0,-0.067)" x="575.07" y="66.70" font-size="9.3" textLength="11.8" lengthAdjust="spacingAndGlyphs">0.6</text>
<clipPath id="ca5"><rect x="77.20" y="160.50" width="98.40" height="79.80"/></clipPath>
<rect x="77.20" y="160.50" width="98.40" height="79.80" fill="#fff" />
<line x1="87.25" y1="160.50" x2="87.25" y2="240.30" stroke="#EEEEEE" stroke-width="0.6" />
<line x1="111.35" y1="160.50" x2="111.35" y2="240.30" stroke="#EEEEEE" stroke-width="0.6" />
<line x1="135.45" y1="160.50" x2="135.45" y2="240.30" stroke="#EEEEEE" stroke-width="0.6" />
<line x1="159.55" y1="160.50" x2="159.55" y2="240.30" stroke="#EEEEEE" stroke-width="0.6" />
<line x1="77.20" y1="174.21" x2="175.60" y2="174.21" stroke="#EEEEEE" stroke-width="0.6" />
<line x1="77.20" y1="194.25" x2="175.60" y2="194.25" stroke="#EEEEEE" stroke-width="0.6" />
<line x1="77.20" y1="214.28" x2="175.60" y2="214.28" stroke="#EEEEEE" stroke-width="0.6" />
<line x1="77.20" y1="234.31" x2="175.60" y2="234.31" stroke="#EEEEEE" stroke-width="0.6" />
<line x1="99.30" y1="160.50" x2="99.30" y2="240.30" stroke="#E2E2E2" stroke-width="1.0" />
<line x1="123.40" y1="160.50" x2="123.40" y2="240.30" stroke="#E2E2E2" stroke-width="1.0" />
<line x1="147.50" y1="160.50" x2="147.50" y2="240.30" stroke="#E2E2E2" stroke-width="1.0" />
<line x1="171.60" y1="160.50" x2="171.60" y2="240.30" stroke="#E2E2E2" stroke-width="1.0" />
<line x1="77.20" y1="164.20" x2="175.60" y2="164.20" stroke="#E2E2E2" stroke-width="1.0" />
<line x1="77.20" y1="184.23" x2="175.60" y2="184.23" stroke="#E2E2E2" stroke-width="1.0" />
<line x1="77.20" y1="204.26" x2="175.60" y2="204.26" stroke="#E2E2E2" stroke-width="1.0" />
<line x1="77.20" y1="224.29" x2="175.60" y2="224.29" stroke="#E2E2E2" stroke-width="1.0" />
<g clip-path="url(#ca5)">
<line x1="94.48" y1="160.50" x2="94.48" y2="240.30" stroke="#666" stroke-width="1.1" stroke-dasharray="4.6,4.6"/>
<line x1="77.20" y1="197.58" x2="175.60" y2="197.58" stroke="#666" stroke-width="1.1" stroke-dasharray="4.6,4.6"/>
<circle cx="153.33" cy="187.21" r="2.5" fill="#E64B35" />
<circle cx="160.24" cy="216.76" r="2.5" fill="#E64B35" />
<circle cx="134.39" cy="208.22" r="2.5" fill="#E64B35" />
<circle cx="170.32" cy="214.25" r="2.5" fill="#E64B35" />
<circle cx="157.85" cy="205.94" r="2.5" fill="#E64B35" />
<circle cx="147.64" cy="230.90" r="2.5" fill="#E64B35" />
<circle cx="141.74" cy="205.25" r="2.5" fill="#E64B35" />
<circle cx="134.11" cy="207.69" r="2.5" fill="#E64B35" />
<circle cx="157.39" cy="216.40" r="2.5" fill="#E64B35" />
<circle cx="170.31" cy="195.36" r="2.5" fill="#E64B35" />
<circle cx="138.76" cy="200.06" r="2.5" fill="#E64B35" />
<circle cx="143.96" cy="227.29" r="2.5" fill="#E64B35" />
<circle cx="138.78" cy="205.64" r="2.5" fill="#E64B35" />
<circle cx="171.19" cy="202.52" r="2.5" fill="#E64B35" />
<circle cx="149.03" cy="203.02" r="2.5" fill="#E64B35" />
<circle cx="143.46" cy="198.21" r="2.5" fill="#E64B35" />
<circle cx="164.53" cy="183.19" r="2.5" fill="#E64B35" />
<circle cx="132.95" cy="222.08" r="2.5" fill="#E64B35" />
<circle cx="159.90" cy="203.31" r="2.5" fill="#E64B35" />
<circle cx="149.91" cy="205.68" r="2.5" fill="#E64B35" />
<circle cx="140.74" cy="203.76" r="2.5" fill="#E64B35" />
<circle cx="144.84" cy="211.50" r="2.5" fill="#E64B35" />
<circle cx="144.03" cy="211.37" r="2.5" fill="#E64B35" />
<circle cx="131.91" cy="231.03" r="2.5" fill="#E64B35" />
<circle cx="130.76" cy="205.64" r="2.5" fill="#E64B35" />
<circle cx="145.65" cy="188.83" r="2.5" fill="#E64B35" />
<circle cx="170.12" cy="204.51" r="2.5" fill="#E64B35" />
<circle cx="137.84" cy="198.57" r="2.5" fill="#E64B35" />
<circle cx="137.99" cy="209.24" r="2.5" fill="#E64B35" />
<circle cx="171.16" cy="229.80" r="2.5" fill="#E64B35" />
<circle cx="139.66" cy="217.32" r="2.5" fill="#E64B35" />
<circle cx="153.33" cy="219.99" r="2.5" fill="#E64B35" />
<circle cx="136.65" cy="184.69" r="2.5" fill="#E64B35" />
<circle cx="135.20" cy="227.01" r="2.5" fill="#E64B35" />
<circle cx="132.43" cy="184.52" r="2.5" fill="#E64B35" />
<circle cx="149.19" cy="185.45" r="2.5" fill="#E64B35" />
<circle cx="137.37" cy="229.30" r="2.5" fill="#E64B35" />
<circle cx="137.63" cy="219.87" r="2.5" fill="#E64B35" />
<circle cx="164.82" cy="204.84" r="2.5" fill="#E64B35" />
<circle cx="148.38" cy="192.86" r="2.5" fill="#E64B35" />
<circle cx="143.65" cy="208.68" r="2.5" fill="#E64B35" />
<circle cx="153.62" cy="208.65" r="2.5" fill="#E64B35" />
<circle cx="145.10" cy="225.98" r="2.5" fill="#E64B35" />
<circle cx="149.03" cy="201.13" r="2.5" fill="#E64B35" />
<circle cx="149.75" cy="223.83" r="2.5" fill="#E64B35" />
<circle cx="154.99" cy="218.93" r="2.5" fill="#E64B35" />
<circle cx="164.09" cy="199.92" r="2.5" fill="#E64B35" />
<circle cx="159.82" cy="187.18" r="2.5" fill="#E64B35" />
<circle cx="150.07" cy="205.13" r="2.5" fill="#E64B35" />
<circle cx="146.22" cy="190.63" r="2.5" fill="#E64B35" />
<circle cx="102.38" cy="180.79" r="2.5" fill="#1FB3D3" />
<circle cx="121.86" cy="189.64" r="2.5" fill="#1FB3D3" />
<circle cx="98.53" cy="195.57" r="2.5" fill="#1FB3D3" />
<circle cx="116.32" cy="224.79" r="2.5" fill="#1FB3D3" />
<circle cx="101.32" cy="207.28" r="2.5" fill="#1FB3D3" />
<circle cx="103.12" cy="218.55" r="2.5" fill="#1FB3D3" />
<circle cx="109.79" cy="210.33" r="2.5" fill="#1FB3D3" />
<circle cx="120.54" cy="203.46" r="2.5" fill="#1FB3D3" />
<circle cx="109.29" cy="179.21" r="2.5" fill="#1FB3D3" />
<circle cx="99.92" cy="210.73" r="2.5" fill="#1FB3D3" />
<circle cx="118.18" cy="205.44" r="2.5" fill="#1FB3D3" />
<circle cx="96.35" cy="213.24" r="2.5" fill="#1FB3D3" />
<circle cx="120.88" cy="218.29" r="2.5" fill="#1FB3D3" />
<circle cx="117.86" cy="209.37" r="2.5" fill="#1FB3D3" />
<circle cx="105.56" cy="195.49" r="2.5" fill="#1FB3D3" />
<circle cx="100.68" cy="208.47" r="2.5" fill="#1FB3D3" />
<circle cx="105.24" cy="216.14" r="2.5" fill="#1FB3D3" />
<circle cx="101.96" cy="190.94" r="2.5" fill="#1FB3D3" />
<circle cx="97.47" cy="191.70" r="2.5" fill="#1FB3D3" />
<circle cx="118.70" cy="216.85" r="2.5" fill="#1FB3D3" />
<circle cx="122.96" cy="180.40" r="2.5" fill="#1FB3D3" />
<circle cx="115.86" cy="204.74" r="2.5" fill="#1FB3D3" />
<circle cx="105.56" cy="222.17" r="2.5" fill="#1FB3D3" />
<circle cx="115.76" cy="193.24" r="2.5" fill="#1FB3D3" />
<circle cx="120.32" cy="199.20" r="2.5" fill="#1FB3D3" />
<circle cx="109.27" cy="200.79" r="2.5" fill="#1FB3D3" />
<circle cx="109.41" cy="179.97" r="2.5" fill="#1FB3D3" />
<circle cx="119.99" cy="192.72" r="2.5" fill="#1FB3D3" />
<circle cx="108.64" cy="186.91" r="2.5" fill="#1FB3D3" />
<circle cx="112.27" cy="182.04" r="2.5" fill="#1FB3D3" />
<circle cx="95.76" cy="188.49" r="2.5" fill="#1FB3D3" />
<circle cx="121.79" cy="210.28" r="2.5" fill="#1FB3D3" />
<circle cx="116.98" cy="183.02" r="2.5" fill="#1FB3D3" />
<circle cx="108.68" cy="212.75" r="2.5" fill="#1FB3D3" />
<circle cx="117.68" cy="199.53" r="2.5" fill="#1FB3D3" />
<circle cx="97.20" cy="196.29" r="2.5" fill="#1FB3D3" />
<circle cx="123.92" cy="219.87" r="2.5" fill="#1FB3D3" />
<circle cx="113.67" cy="195.05" r="2.5" fill="#1FB3D3" />
<circle cx="113.30" cy="205.33" r="2.5" fill="#1FB3D3" />
<circle cx="109.01" cy="218.13" r="2.5" fill="#1FB3D3" />
<circle cx="91.34" cy="184.16" r="2.5" fill="#00A087" />
<circle cx="91.66" cy="187.67" r="2.5" fill="#00A087" />
<circle cx="92.20" cy="183.67" r="2.5" fill="#00A087" />
<circle cx="88.93" cy="180.27" r="2.5" fill="#00A087" />
<circle cx="89.56" cy="184.08" r="2.5" fill="#00A087" />
<circle cx="90.24" cy="185.17" r="2.5" fill="#00A087" />
<circle cx="89.62" cy="181.24" r="2.5" fill="#00A087" />
<circle cx="92.13" cy="184.60" r="2.5" fill="#00A087" />
<circle cx="91.95" cy="183.05" r="2.5" fill="#00A087" />
<circle cx="87.43" cy="178.39" r="2.5" fill="#00A087" />
<circle cx="88.36" cy="175.78" r="2.5" fill="#00A087" />
<circle cx="87.44" cy="173.25" r="2.5" fill="#00A087" />
<circle cx="89.43" cy="184.45" r="2.5" fill="#00A087" />
<circle cx="91.59" cy="187.53" r="2.5" fill="#00A087" />
<circle cx="89.99" cy="171.65" r="2.5" fill="#00A087" />
<circle cx="88.54" cy="197.78" r="2.5" fill="#00A087" />
<circle cx="92.33" cy="200.42" r="2.5" fill="#00A087" />
<circle cx="91.52" cy="201.73" r="2.5" fill="#00A087" />
<circle cx="90.74" cy="205.75" r="2.5" fill="#00A087" />
<circle cx="91.15" cy="197.96" r="2.5" fill="#00A087" />
<circle cx="91.03" cy="200.78" r="2.5" fill="#00A087" />
<circle cx="92.94" cy="199.89" r="2.5" fill="#00A087" />
<circle cx="88.82" cy="206.46" r="2.5" fill="#00A087" />
<circle cx="89.79" cy="198.04" r="2.5" fill="#00A087" />
<circle cx="91.93" cy="206.43" r="2.5" fill="#00A087" />
<circle cx="90.23" cy="198.89" r="2.5" fill="#00A087" />
<circle cx="92.32" cy="200.62" r="2.5" fill="#00A087" />
<circle cx="90.57" cy="213.28" r="2.5" fill="#00A087" />
<circle cx="86.58" cy="216.97" r="2.5" fill="#00A087" />
<circle cx="89.98" cy="222.13" r="2.5" fill="#00A087" />
<circle cx="86.11" cy="183.09" r="2.5" fill="#3C5488" />
<circle cx="85.88" cy="191.79" r="2.5" fill="#3C5488" />
<circle cx="84.61" cy="189.14" r="2.5" fill="#3C5488" />
<circle cx="84.67" cy="180.41" r="2.5" fill="#3C5488" />
<circle cx="84.71" cy="188.90" r="2.5" fill="#3C5488" />
<circle cx="84.17" cy="187.57" r="2.5" fill="#3C5488" />
<circle cx="84.71" cy="180.48" r="2.5" fill="#3C5488" />
<circle cx="84.92" cy="183.63" r="2.5" fill="#3C5488" />
<circle cx="85.00" cy="190.77" r="2.5" fill="#3C5488" />
<circle cx="86.23" cy="181.33" r="2.5" fill="#3C5488" />
<circle cx="86.40" cy="186.89" r="2.5" fill="#3C5488" />
<circle cx="86.33" cy="189.84" r="2.5" fill="#3C5488" />
<circle cx="85.18" cy="181.67" r="2.5" fill="#3C5488" />
<circle cx="86.25" cy="192.48" r="2.5" fill="#3C5488" />
<circle cx="85.44" cy="179.72" r="2.5" fill="#3C5488" />
<path d="M83.64,186.90 L87.98,188.73 L92.33,190.49 L96.68,192.18 L101.03,193.82 L105.38,195.38 L109.73,196.89 L114.08,198.33 L118.43,199.71 L122.78,201.02 L127.13,202.27 L131.48,203.45 L135.83,204.57 L140.18,205.63 L144.53,206.62 L148.88,207.55 L153.23,208.41 L157.58,209.21 L161.93,209.95 L166.28,210.62 L170.63,211.23 L170.63,221.23 L166.28,219.41 L161.93,217.65 L157.58,215.95 L153.23,214.32 L148.88,212.75 L144.53,211.24 L140.18,209.80 L135.83,208.43 L131.48,207.11 L127.13,205.87 L122.78,204.68 L118.43,203.56 L114.08,202.50 L109.73,201.51 L105.38,200.58 L101.03,199.72 L96.68,198.92 L92.33,198.18 L87.98,197.51 L83.64,196.90Z" fill="rgba(165,165,165,0.55)" />
<line x1="83.64" y1="191.90" x2="170.63" y2="216.23" stroke="#000" stroke-width="2.6" />
</g>
<rect x="77.20" y="160.50" width="98.40" height="79.80" fill="none" stroke="#4d4d4d" stroke-width="0.9" />
<rect x="77.20" y="139.40" width="98.40" height="21.10" fill="#D9D9D9" stroke="#4d4d4d" stroke-width="0.9" />
<text transform="matrix(1,0,0,1.001,0,-0.148)" stroke="#1a1a1a" x="126.40" y="147.75" font-size="8.9" text-anchor="middle" fill="#1a1a1a"><tspan font-style="italic">PSMD2</tspan>: R<tspan font-size="5.5" dy="1.5">s</tspan><tspan dy="-1.5"> = 0.87</tspan></text>
<text transform="matrix(1,0,0,1.001,0,-0.157)" stroke="#1a1a1a" x="126.40" y="156.65" font-size="8.9" text-anchor="middle" fill="#1a1a1a">P<tspan font-size="5.5" dy="1.5">r</tspan><tspan dy="-1.5"> = 58/80 = 0.73</tspan></text>
<text stroke="#1a1a1a" transform="matrix(1,0,0,1.001,0,-0.174)" x="128.58" y="173.90" font-size="9.3" font-style="italic">R</text>
<text stroke="#1a1a1a" transform="matrix(1,0,0,1.001,0,-0.174)" x="137.88" y="173.90" font-size="9.3">=</text>
<line x1="145.88" y1="170.70" x2="149.68" y2="170.70" stroke="#1a1a1a" stroke-width="0.9" />
<text stroke="#1a1a1a" transform="matrix(1,0,0,1.001,0,-0.174)" x="151.98" y="173.90" font-size="9.3" textLength="17.1" lengthAdjust="spacingAndGlyphs">0.53</text>
<line x1="99.30" y1="240.30" x2="99.30" y2="242.90" stroke="#333" stroke-width="1.0" />
<text x="99.30" y="252.10" font-size="8.9" text-anchor="middle" fill="#383838" stroke="#383838" transform="matrix(1,0,0,1.001,0,-0.252)" >0.25</text>
<line x1="123.40" y1="240.30" x2="123.40" y2="242.90" stroke="#333" stroke-width="1.0" />
<text x="123.40" y="252.10" font-size="8.9" text-anchor="middle" fill="#383838" stroke="#383838" transform="matrix(1,0,0,1.001,0,-0.252)" >0.50</text>
<line x1="147.50" y1="240.30" x2="147.50" y2="242.90" stroke="#333" stroke-width="1.0" />
<text x="147.50" y="252.10" font-size="8.9" text-anchor="middle" fill="#383838" stroke="#383838" transform="matrix(1,0,0,1.001,0,-0.252)" >0.75</text>
<line x1="171.60" y1="240.30" x2="171.60" y2="242.90" stroke="#333" stroke-width="1.0" />
<text x="171.60" y="252.10" font-size="8.9" text-anchor="middle" fill="#383838" stroke="#383838" transform="matrix(1,0,0,1.001,0,-0.252)" >1.00</text>
<line x1="74.60" y1="164.20" x2="77.20" y2="164.20" stroke="#333" stroke-width="1.0" />
<text x="73.40" y="167.40" font-size="8.9" text-anchor="end" fill="#383838" stroke="#383838" transform="matrix(1,0,0,1.001,0,-0.167)" >3</text>
<line x1="74.60" y1="184.23" x2="77.20" y2="184.23" stroke="#333" stroke-width="1.0" />
<text x="73.40" y="187.43" font-size="8.9" text-anchor="end" fill="#383838" stroke="#383838" transform="matrix(1,0,0,1.001,0,-0.187)" >0</text>
<line x1="74.60" y1="204.26" x2="77.20" y2="204.26" stroke="#333" stroke-width="1.0" />
<text x="73.40" y="207.46" font-size="8.9" text-anchor="end" fill="#383838" stroke="#383838" transform="matrix(1,0,0,1.001,0,-0.207)" >−3</text>
<line x1="74.60" y1="224.29" x2="77.20" y2="224.29" stroke="#333" stroke-width="1.0" />
<text x="73.40" y="227.49" font-size="8.9" text-anchor="end" fill="#383838" stroke="#383838" transform="matrix(1,0,0,1.001,0,-0.227)" >−6</text>
<clipPath id="ca6"><rect x="182.05" y="160.50" width="98.40" height="79.80"/></clipPath>
<rect x="182.05" y="160.50" width="98.40" height="79.80" fill="#fff" />
<line x1="192.10" y1="160.50" x2="192.10" y2="240.30" stroke="#EEEEEE" stroke-width="0.6" />
<line x1="216.20" y1="160.50" x2="216.20" y2="240.30" stroke="#EEEEEE" stroke-width="0.6" />
<line x1="240.30" y1="160.50" x2="240.30" y2="240.30" stroke="#EEEEEE" stroke-width="0.6" />
<line x1="264.40" y1="160.50" x2="264.40" y2="240.30" stroke="#EEEEEE" stroke-width="0.6" />
<line x1="182.05" y1="174.21" x2="280.45" y2="174.21" stroke="#EEEEEE" stroke-width="0.6" />
<line x1="182.05" y1="194.25" x2="280.45" y2="194.25" stroke="#EEEEEE" stroke-width="0.6" />
<line x1="182.05" y1="214.28" x2="280.45" y2="214.28" stroke="#EEEEEE" stroke-width="0.6" />
<line x1="182.05" y1="234.31" x2="280.45" y2="234.31" stroke="#EEEEEE" stroke-width="0.6" />
<line x1="204.15" y1="160.50" x2="204.15" y2="240.30" stroke="#E2E2E2" stroke-width="1.0" />
<line x1="228.25" y1="160.50" x2="228.25" y2="240.30" stroke="#E2E2E2" stroke-width="1.0" />
<line x1="252.35" y1="160.50" x2="252.35" y2="240.30" stroke="#E2E2E2" stroke-width="1.0" />
<line x1="276.45" y1="160.50" x2="276.45" y2="240.30" stroke="#E2E2E2" stroke-width="1.0" />
<line x1="182.05" y1="164.20" x2="280.45" y2="164.20" stroke="#E2E2E2" stroke-width="1.0" />
<line x1="182.05" y1="184.23" x2="280.45" y2="184.23" stroke="#E2E2E2" stroke-width="1.0" />
<line x1="182.05" y1="204.26" x2="280.45" y2="204.26" stroke="#E2E2E2" stroke-width="1.0" />
<line x1="182.05" y1="224.29" x2="280.45" y2="224.29" stroke="#E2E2E2" stroke-width="1.0" />
<g clip-path="url(#ca6)">
<line x1="199.33" y1="160.50" x2="199.33" y2="240.30" stroke="#666" stroke-width="1.1" stroke-dasharray="4.6,4.6"/>
<line x1="182.05" y1="197.58" x2="280.45" y2="197.58" stroke="#666" stroke-width="1.1" stroke-dasharray="4.6,4.6"/>
<circle cx="251.78" cy="224.17" r="2.5" fill="#E64B35" />
<circle cx="263.04" cy="227.87" r="2.5" fill="#E64B35" />
<circle cx="263.99" cy="223.83" r="2.5" fill="#E64B35" />
<circle cx="267.39" cy="211.32" r="2.5" fill="#E64B35" />
<circle cx="256.50" cy="213.21" r="2.5" fill="#E64B35" />
<circle cx="238.92" cy="192.68" r="2.5" fill="#E64B35" />
<circle cx="247.06" cy="207.86" r="2.5" fill="#E64B35" />
<circle cx="236.99" cy="219.55" r="2.5" fill="#E64B35" />
<circle cx="246.76" cy="211.01" r="2.5" fill="#E64B35" />
<circle cx="272.36" cy="225.47" r="2.5" fill="#E64B35" />
<circle cx="252.84" cy="210.62" r="2.5" fill="#E64B35" />
<circle cx="235.88" cy="192.69" r="2.5" fill="#E64B35" />
<circle cx="257.15" cy="193.23" r="2.5" fill="#E64B35" />
<circle cx="263.17" cy="196.51" r="2.5" fill="#E64B35" />
<circle cx="243.69" cy="221.53" r="2.5" fill="#E64B35" />
<circle cx="240.47" cy="221.42" r="2.5" fill="#E64B35" />
<circle cx="234.95" cy="210.89" r="2.5" fill="#E64B35" />
<circle cx="252.51" cy="201.32" r="2.5" fill="#E64B35" />
<circle cx="261.37" cy="226.60" r="2.5" fill="#E64B35" />
<circle cx="258.99" cy="206.64" r="2.5" fill="#E64B35" />
<circle cx="263.80" cy="212.78" r="2.5" fill="#E64B35" />
<circle cx="263.60" cy="216.68" r="2.5" fill="#E64B35" />
<circle cx="266.80" cy="207.86" r="2.5" fill="#E64B35" />
<circle cx="265.52" cy="217.63" r="2.5" fill="#E64B35" />
<circle cx="272.07" cy="208.43" r="2.5" fill="#E64B35" />
<circle cx="257.19" cy="210.67" r="2.5" fill="#E64B35" />
<circle cx="271.74" cy="214.32" r="2.5" fill="#E64B35" />
<circle cx="262.00" cy="217.40" r="2.5" fill="#E64B35" />
<circle cx="255.94" cy="208.80" r="2.5" fill="#E64B35" />
<circle cx="274.60" cy="215.46" r="2.5" fill="#E64B35" />
<circle cx="268.66" cy="203.64" r="2.5" fill="#E64B35" />
<circle cx="256.14" cy="230.80" r="2.5" fill="#E64B35" />
<circle cx="255.99" cy="223.79" r="2.5" fill="#E64B35" />
<circle cx="256.87" cy="218.90" r="2.5" fill="#E64B35" />
<circle cx="264.56" cy="206.63" r="2.5" fill="#E64B35" />
<circle cx="263.34" cy="231.47" r="2.5" fill="#E64B35" />
<circle cx="267.18" cy="222.69" r="2.5" fill="#E64B35" />
<circle cx="254.30" cy="229.26" r="2.5" fill="#E64B35" />
<circle cx="264.65" cy="218.41" r="2.5" fill="#E64B35" />
<circle cx="263.42" cy="206.77" r="2.5" fill="#E64B35" />
<circle cx="259.67" cy="224.10" r="2.5" fill="#E64B35" />
<circle cx="276.00" cy="223.89" r="2.5" fill="#E64B35" />
<circle cx="275.95" cy="217.89" r="2.5" fill="#E64B35" />
<circle cx="260.50" cy="217.27" r="2.5" fill="#E64B35" />
<circle cx="255.97" cy="201.33" r="2.5" fill="#E64B35" />
<circle cx="255.74" cy="217.12" r="2.5" fill="#E64B35" />
<circle cx="273.87" cy="216.72" r="2.5" fill="#E64B35" />
<circle cx="265.33" cy="218.49" r="2.5" fill="#E64B35" />
<circle cx="255.61" cy="221.44" r="2.5" fill="#E64B35" />
<circle cx="272.73" cy="200.95" r="2.5" fill="#E64B35" />
<circle cx="274.20" cy="218.51" r="2.5" fill="#E64B35" />
<circle cx="265.28" cy="201.74" r="2.5" fill="#E64B35" />
<circle cx="267.82" cy="221.73" r="2.5" fill="#E64B35" />
<circle cx="273.27" cy="178.63" r="2.5" fill="#E64B35" />
<circle cx="260.74" cy="188.95" r="2.5" fill="#E64B35" />
<circle cx="266.63" cy="191.16" r="2.5" fill="#E64B35" />
<circle cx="240.83" cy="194.11" r="2.5" fill="#E64B35" />
<circle cx="235.67" cy="220.65" r="2.5" fill="#E64B35" />
<circle cx="245.25" cy="220.65" r="2.5" fill="#E64B35" />
<circle cx="210.20" cy="190.20" r="2.5" fill="#1FB3D3" />
<circle cx="205.49" cy="207.40" r="2.5" fill="#1FB3D3" />
<circle cx="200.47" cy="181.53" r="2.5" fill="#1FB3D3" />
<circle cx="206.76" cy="177.51" r="2.5" fill="#1FB3D3" />
<circle cx="204.67" cy="195.92" r="2.5" fill="#1FB3D3" />
<circle cx="201.12" cy="180.75" r="2.5" fill="#1FB3D3" />
<circle cx="210.72" cy="210.72" r="2.5" fill="#1FB3D3" />
<circle cx="206.79" cy="199.12" r="2.5" fill="#1FB3D3" />
<circle cx="212.91" cy="199.93" r="2.5" fill="#1FB3D3" />
<circle cx="202.25" cy="201.81" r="2.5" fill="#1FB3D3" />
<circle cx="206.77" cy="204.15" r="2.5" fill="#1FB3D3" />
<circle cx="204.71" cy="201.63" r="2.5" fill="#1FB3D3" />
<circle cx="200.28" cy="210.07" r="2.5" fill="#1FB3D3" />
<circle cx="212.53" cy="213.20" r="2.5" fill="#1FB3D3" />
<circle cx="211.83" cy="225.35" r="2.5" fill="#1FB3D3" />
<circle cx="206.81" cy="197.65" r="2.5" fill="#1FB3D3" />
<circle cx="210.42" cy="187.57" r="2.5" fill="#1FB3D3" />
<circle cx="204.10" cy="206.30" r="2.5" fill="#1FB3D3" />
<circle cx="200.19" cy="225.31" r="2.5" fill="#1FB3D3" />
<circle cx="213.15" cy="202.09" r="2.5" fill="#1FB3D3" />
<circle cx="208.67" cy="193.75" r="2.5" fill="#1FB3D3" />
<circle cx="206.33" cy="181.30" r="2.5" fill="#1FB3D3" />
<circle cx="204.75" cy="186.03" r="2.5" fill="#1FB3D3" />
<circle cx="205.52" cy="209.41" r="2.5" fill="#1FB3D3" />
<circle cx="212.10" cy="180.60" r="2.5" fill="#1FB3D3" />
<circle cx="201.63" cy="207.54" r="2.5" fill="#1FB3D3" />
<circle cx="213.24" cy="204.50" r="2.5" fill="#1FB3D3" />
<circle cx="207.20" cy="219.52" r="2.5" fill="#1FB3D3" />
<circle cx="202.66" cy="176.67" r="2.5" fill="#1FB3D3" />
<circle cx="206.99" cy="205.88" r="2.5" fill="#1FB3D3" />
<circle cx="201.46" cy="210.82" r="2.5" fill="#1FB3D3" />
<circle cx="208.57" cy="218.06" r="2.5" fill="#1FB3D3" />
<circle cx="204.49" cy="179.91" r="2.5" fill="#1FB3D3" />
<circle cx="202.96" cy="188.23" r="2.5" fill="#1FB3D3" />
<circle cx="204.45" cy="208.91" r="2.5" fill="#1FB3D3" />
<circle cx="203.62" cy="225.61" r="2.5" fill="#1FB3D3" />
<circle cx="202.12" cy="220.14" r="2.5" fill="#1FB3D3" />
<circle cx="203.20" cy="222.62" r="2.5" fill="#1FB3D3" />
<circle cx="202.98" cy="204.12" r="2.5" fill="#1FB3D3" />
<circle cx="203.25" cy="212.32" r="2.5" fill="#1FB3D3" />
<circle cx="208.54" cy="212.97" r="2.5" fill="#1FB3D3" />
<circle cx="205.52" cy="184.63" r="2.5" fill="#1FB3D3" />
<circle cx="204.33" cy="219.19" r="2.5" fill="#1FB3D3" />
<circle cx="206.94" cy="185.29" r="2.5" fill="#1FB3D3" />
<circle cx="200.82" cy="202.54" r="2.5" fill="#1FB3D3" />
<circle cx="211.72" cy="210.31" r="2.5" fill="#1FB3D3" />
<circle cx="211.01" cy="179.73" r="2.5" fill="#1FB3D3" />
<circle cx="206.06" cy="191.53" r="2.5" fill="#1FB3D3" />
<circle cx="220.74" cy="218.35" r="2.5" fill="#1FB3D3" />
<circle cx="229.74" cy="195.82" r="2.5" fill="#1FB3D3" />
<circle cx="231.68" cy="190.42" r="2.5" fill="#1FB3D3" />
<circle cx="229.40" cy="199.95" r="2.5" fill="#1FB3D3" />
<circle cx="223.62" cy="220.04" r="2.5" fill="#1FB3D3" />
<circle cx="228.85" cy="208.92" r="2.5" fill="#1FB3D3" />
<circle cx="226.90" cy="207.02" r="2.5" fill="#1FB3D3" />
<circle cx="229.25" cy="209.05" r="2.5" fill="#1FB3D3" />
<circle cx="222.47" cy="205.16" r="2.5" fill="#1FB3D3" />
<circle cx="223.48" cy="190.19" r="2.5" fill="#1FB3D3" />
<circle cx="218.64" cy="217.19" r="2.5" fill="#1FB3D3" />
<circle cx="223.42" cy="202.12" r="2.5" fill="#1FB3D3" />
<circle cx="219.68" cy="203.18" r="2.5" fill="#1FB3D3" />
<circle cx="230.31" cy="209.14" r="2.5" fill="#1FB3D3" />
<circle cx="226.89" cy="204.09" r="2.5" fill="#1FB3D3" />
<circle cx="217.55" cy="182.74" r="2.5" fill="#1FB3D3" />
<circle cx="218.88" cy="205.54" r="2.5" fill="#1FB3D3" />
<circle cx="229.50" cy="218.65" r="2.5" fill="#1FB3D3" />
<circle cx="227.95" cy="210.09" r="2.5" fill="#1FB3D3" />
<circle cx="220.11" cy="184.98" r="2.5" fill="#1FB3D3" />
<circle cx="228.50" cy="192.40" r="2.5" fill="#1FB3D3" />
<circle cx="226.74" cy="216.57" r="2.5" fill="#1FB3D3" />
<circle cx="218.32" cy="212.35" r="2.5" fill="#1FB3D3" />
<circle cx="222.10" cy="203.59" r="2.5" fill="#1FB3D3" />
<circle cx="224.61" cy="183.79" r="2.5" fill="#1FB3D3" />
<circle cx="231.25" cy="185.27" r="2.5" fill="#1FB3D3" />
<circle cx="193.52" cy="176.68" r="2.5" fill="#00A087" />
<circle cx="198.57" cy="193.63" r="2.5" fill="#00A087" />
<circle cx="193.61" cy="181.48" r="2.5" fill="#00A087" />
<circle cx="195.86" cy="175.28" r="2.5" fill="#00A087" />
<circle cx="192.70" cy="200.50" r="2.5" fill="#00A087" />
<circle cx="195.32" cy="202.01" r="2.5" fill="#00A087" />
<circle cx="197.58" cy="187.43" r="2.5" fill="#00A087" />
<circle cx="196.98" cy="205.72" r="2.5" fill="#00A087" />
<circle cx="197.43" cy="195.46" r="2.5" fill="#00A087" />
<circle cx="196.99" cy="176.39" r="2.5" fill="#00A087" />
<circle cx="192.94" cy="197.03" r="2.5" fill="#00A087" />
<circle cx="195.51" cy="198.33" r="2.5" fill="#00A087" />
<circle cx="194.52" cy="176.99" r="2.5" fill="#00A087" />
<circle cx="193.85" cy="182.69" r="2.5" fill="#00A087" />
<circle cx="196.30" cy="184.08" r="2.5" fill="#00A087" />
<circle cx="196.96" cy="195.49" r="2.5" fill="#00A087" />
<circle cx="194.34" cy="198.45" r="2.5" fill="#00A087" />
<circle cx="197.87" cy="187.73" r="2.5" fill="#00A087" />
<circle cx="191.98" cy="207.82" r="2.5" fill="#00A087" />
<circle cx="193.63" cy="209.02" r="2.5" fill="#00A087" />
<circle cx="194.95" cy="190.59" r="2.5" fill="#00A087" />
<circle cx="197.54" cy="179.43" r="2.5" fill="#00A087" />
<circle cx="197.70" cy="185.65" r="2.5" fill="#00A087" />
<circle cx="197.07" cy="211.47" r="2.5" fill="#00A087" />
<circle cx="197.51" cy="187.92" r="2.5" fill="#00A087" />
<circle cx="198.43" cy="195.17" r="2.5" fill="#00A087" />
<circle cx="193.69" cy="188.99" r="2.5" fill="#00A087" />
<circle cx="192.18" cy="199.07" r="2.5" fill="#00A087" />
<circle cx="194.73" cy="196.49" r="2.5" fill="#00A087" />
<circle cx="197.85" cy="192.21" r="2.5" fill="#00A087" />
<circle cx="191.78" cy="197.89" r="2.5" fill="#00A087" />
<circle cx="192.20" cy="197.83" r="2.5" fill="#00A087" />
<circle cx="195.42" cy="192.13" r="2.5" fill="#00A087" />
<circle cx="196.26" cy="178.45" r="2.5" fill="#00A087" />
<circle cx="194.12" cy="182.95" r="2.5" fill="#00A087" />
<circle cx="193.11" cy="179.63" r="2.5" fill="#00A087" />
<circle cx="193.15" cy="207.60" r="2.5" fill="#00A087" />
<circle cx="198.50" cy="198.53" r="2.5" fill="#00A087" />
<circle cx="197.07" cy="175.65" r="2.5" fill="#00A087" />
<circle cx="193.98" cy="202.52" r="2.5" fill="#00A087" />
<circle cx="198.01" cy="177.12" r="2.5" fill="#00A087" />
<circle cx="198.60" cy="212.04" r="2.5" fill="#00A087" />
<circle cx="192.22" cy="190.44" r="2.5" fill="#00A087" />
<circle cx="198.04" cy="188.18" r="2.5" fill="#00A087" />
<circle cx="192.75" cy="197.27" r="2.5" fill="#00A087" />
<circle cx="194.90" cy="225.12" r="2.5" fill="#00A087" />
<circle cx="193.23" cy="223.62" r="2.5" fill="#00A087" />
<circle cx="193.12" cy="226.06" r="2.5" fill="#00A087" />
<circle cx="196.07" cy="226.14" r="2.5" fill="#00A087" />
<circle cx="192.88" cy="221.80" r="2.5" fill="#00A087" />
<circle cx="195.69" cy="223.44" r="2.5" fill="#00A087" />
<circle cx="195.82" cy="224.41" r="2.5" fill="#00A087" />
<circle cx="192.46" cy="221.45" r="2.5" fill="#00A087" />
<circle cx="189.78" cy="211.07" r="2.5" fill="#3C5488" />
<circle cx="187.94" cy="212.84" r="2.5" fill="#3C5488" />
<circle cx="190.07" cy="174.59" r="2.5" fill="#3C5488" />
<circle cx="190.04" cy="206.90" r="2.5" fill="#3C5488" />
<circle cx="188.39" cy="214.11" r="2.5" fill="#3C5488" />
<circle cx="188.86" cy="191.62" r="2.5" fill="#3C5488" />
<circle cx="189.63" cy="201.96" r="2.5" fill="#3C5488" />
<circle cx="189.88" cy="184.16" r="2.5" fill="#3C5488" />
<circle cx="189.18" cy="178.08" r="2.5" fill="#3C5488" />
<circle cx="188.62" cy="193.34" r="2.5" fill="#3C5488" />
<circle cx="188.09" cy="187.21" r="2.5" fill="#3C5488" />
<circle cx="190.06" cy="179.87" r="2.5" fill="#3C5488" />
<circle cx="189.05" cy="173.76" r="2.5" fill="#3C5488" />
<circle cx="189.85" cy="176.47" r="2.5" fill="#3C5488" />
<circle cx="188.38" cy="204.34" r="2.5" fill="#3C5488" />
<circle cx="189.07" cy="196.04" r="2.5" fill="#3C5488" />
<circle cx="189.51" cy="193.60" r="2.5" fill="#3C5488" />
<circle cx="189.02" cy="178.77" r="2.5" fill="#3C5488" />
<circle cx="188.27" cy="180.95" r="2.5" fill="#3C5488" />
<circle cx="188.54" cy="186.03" r="2.5" fill="#3C5488" />
<circle cx="190.26" cy="181.37" r="2.5" fill="#3C5488" />
<circle cx="188.24" cy="183.76" r="2.5" fill="#3C5488" />
<circle cx="188.25" cy="207.96" r="2.5" fill="#3C5488" />
<circle cx="190.43" cy="205.23" r="2.5" fill="#3C5488" />
<circle cx="190.43" cy="195.90" r="2.5" fill="#3C5488" />
<circle cx="189.10" cy="188.76" r="2.5" fill="#3C5488" />
<circle cx="189.63" cy="182.49" r="2.5" fill="#3C5488" />
<circle cx="189.28" cy="188.97" r="2.5" fill="#3C5488" />
<circle cx="189.67" cy="209.79" r="2.5" fill="#3C5488" />
<circle cx="189.64" cy="178.15" r="2.5" fill="#3C5488" />
<circle cx="189.47" cy="203.74" r="2.5" fill="#3C5488" />
<circle cx="189.32" cy="174.99" r="2.5" fill="#3C5488" />
<circle cx="188.15" cy="195.42" r="2.5" fill="#3C5488" />
<circle cx="189.80" cy="193.52" r="2.5" fill="#3C5488" />
<circle cx="189.83" cy="195.88" r="2.5" fill="#3C5488" />
<circle cx="190.08" cy="181.47" r="2.5" fill="#3C5488" />
<circle cx="190.10" cy="204.48" r="2.5" fill="#3C5488" />
<circle cx="188.20" cy="181.89" r="2.5" fill="#3C5488" />
<circle cx="188.67" cy="206.10" r="2.5" fill="#3C5488" />
<circle cx="189.59" cy="175.08" r="2.5" fill="#3C5488" />
<circle cx="189.85" cy="185.41" r="2.5" fill="#3C5488" />
<circle cx="190.19" cy="184.14" r="2.5" fill="#3C5488" />
<circle cx="188.17" cy="186.46" r="2.5" fill="#3C5488" />
<circle cx="189.12" cy="190.69" r="2.5" fill="#3C5488" />
<circle cx="189.32" cy="176.80" r="2.5" fill="#3C5488" />
<circle cx="189.96" cy="230.24" r="2.5" fill="#3C5488" />
<path d="M187.75,184.69 L192.13,186.76 L196.52,188.76 L200.91,190.70 L205.29,192.58 L209.68,194.39 L214.07,196.14 L218.45,197.82 L222.84,199.44 L227.23,201.00 L231.61,202.49 L236.00,203.92 L240.39,205.28 L244.77,206.58 L249.16,207.81 L253.55,208.99 L257.93,210.09 L262.32,211.14 L266.71,212.12 L271.09,213.03 L275.48,213.88 L275.48,223.88 L271.09,221.82 L266.71,219.81 L262.32,217.87 L257.93,216.00 L253.55,214.19 L249.16,212.44 L244.77,210.75 L240.39,209.13 L236.00,207.58 L231.61,206.09 L227.23,204.66 L222.84,203.30 L218.45,202.00 L214.07,200.76 L209.68,199.59 L205.29,198.48 L200.91,197.44 L196.52,196.46 L192.13,195.54 L187.75,194.69Z" fill="rgba(165,165,165,0.55)" />
<line x1="187.75" y1="189.69" x2="275.48" y2="218.88" stroke="#000" stroke-width="2.6" />
</g>
<rect x="182.05" y="160.50" width="98.40" height="79.80" fill="none" stroke="#4d4d4d" stroke-width="0.9" />
<rect x="182.05" y="139.40" width="98.40" height="21.10" fill="#D9D9D9" stroke="#4d4d4d" stroke-width="0.9" />
<text transform="matrix(1,0,0,1.001,0,-0.148)" stroke="#1a1a1a" x="231.25" y="147.75" font-size="8.9" text-anchor="middle" fill="#1a1a1a"><tspan font-style="italic">PRPF8</tspan>: R<tspan font-size="5.5" dy="1.5">s</tspan><tspan dy="-1.5"> = 0.76</tspan></text>
<text transform="matrix(1,0,0,1.001,0,-0.157)" stroke="#1a1a1a" x="231.25" y="156.65" font-size="8.9" text-anchor="middle" fill="#1a1a1a">P<tspan font-size="5.5" dy="1.5">r</tspan><tspan dy="-1.5"> = 90/126 = 0.71</tspan></text>
<text stroke="#1a1a1a" transform="matrix(1,0,0,1.001,0,-0.174)" x="236.38" y="173.90" font-size="9.3" font-style="italic">R</text>
<text stroke="#1a1a1a" transform="matrix(1,0,0,1.001,0,-0.174)" x="245.68" y="173.90" font-size="9.3">=</text>
<line x1="253.68" y1="170.70" x2="257.48" y2="170.70" stroke="#1a1a1a" stroke-width="0.9" />
<text stroke="#1a1a1a" transform="matrix(1,0,0,1.001,0,-0.174)" x="259.78" y="173.90" font-size="9.3" textLength="11.8" lengthAdjust="spacingAndGlyphs">0.6</text>
<line x1="204.15" y1="240.30" x2="204.15" y2="242.90" stroke="#333" stroke-width="1.0" />
<text x="204.15" y="252.10" font-size="8.9" text-anchor="middle" fill="#383838" stroke="#383838" transform="matrix(1,0,0,1.001,0,-0.252)" >0.25</text>
<line x1="228.25" y1="240.30" x2="228.25" y2="242.90" stroke="#333" stroke-width="1.0" />
<text x="228.25" y="252.10" font-size="8.9" text-anchor="middle" fill="#383838" stroke="#383838" transform="matrix(1,0,0,1.001,0,-0.252)" >0.50</text>
<line x1="252.35" y1="240.30" x2="252.35" y2="242.90" stroke="#333" stroke-width="1.0" />
<text x="252.35" y="252.10" font-size="8.9" text-anchor="middle" fill="#383838" stroke="#383838" transform="matrix(1,0,0,1.001,0,-0.252)" >0.75</text>
<line x1="276.45" y1="240.30" x2="276.45" y2="242.90" stroke="#333" stroke-width="1.0" />
<text x="276.45" y="252.10" font-size="8.9" text-anchor="middle" fill="#383838" stroke="#383838" transform="matrix(1,0,0,1.001,0,-0.252)" >1.00</text>
<clipPath id="ca7"><rect x="286.90" y="160.50" width="98.40" height="79.80"/></clipPath>
<rect x="286.90" y="160.50" width="98.40" height="79.80" fill="#fff" />
<line x1="296.95" y1="160.50" x2="296.95" y2="240.30" stroke="#EEEEEE" stroke-width="0.6" />
<line x1="321.05" y1="160.50" x2="321.05" y2="240.30" stroke="#EEEEEE" stroke-width="0.6" />
<line x1="345.15" y1="160.50" x2="345.15" y2="240.30" stroke="#EEEEEE" stroke-width="0.6" />
<line x1="369.25" y1="160.50" x2="369.25" y2="240.30" stroke="#EEEEEE" stroke-width="0.6" />
<line x1="286.90" y1="174.21" x2="385.30" y2="174.21" stroke="#EEEEEE" stroke-width="0.6" />
<line x1="286.90" y1="194.25" x2="385.30" y2="194.25" stroke="#EEEEEE" stroke-width="0.6" />
<line x1="286.90" y1="214.28" x2="385.30" y2="214.28" stroke="#EEEEEE" stroke-width="0.6" />
<line x1="286.90" y1="234.31" x2="385.30" y2="234.31" stroke="#EEEEEE" stroke-width="0.6" />
<line x1="309.00" y1="160.50" x2="309.00" y2="240.30" stroke="#E2E2E2" stroke-width="1.0" />
<line x1="333.10" y1="160.50" x2="333.10" y2="240.30" stroke="#E2E2E2" stroke-width="1.0" />
<line x1="357.20" y1="160.50" x2="357.20" y2="240.30" stroke="#E2E2E2" stroke-width="1.0" />
<line x1="381.30" y1="160.50" x2="381.30" y2="240.30" stroke="#E2E2E2" stroke-width="1.0" />
<line x1="286.90" y1="164.20" x2="385.30" y2="164.20" stroke="#E2E2E2" stroke-width="1.0" />
<line x1="286.90" y1="184.23" x2="385.30" y2="184.23" stroke="#E2E2E2" stroke-width="1.0" />
<line x1="286.90" y1="204.26" x2="385.30" y2="204.26" stroke="#E2E2E2" stroke-width="1.0" />
<line x1="286.90" y1="224.29" x2="385.30" y2="224.29" stroke="#E2E2E2" stroke-width="1.0" />
<g clip-path="url(#ca7)">
<line x1="304.18" y1="160.50" x2="304.18" y2="240.30" stroke="#666" stroke-width="1.1" stroke-dasharray="4.6,4.6"/>
<line x1="286.90" y1="197.58" x2="385.30" y2="197.58" stroke="#666" stroke-width="1.1" stroke-dasharray="4.6,4.6"/>
<circle cx="368.75" cy="208.00" r="2.5" fill="#E64B35" />
<circle cx="355.41" cy="199.08" r="2.5" fill="#E64B35" />
<circle cx="344.73" cy="198.15" r="2.5" fill="#E64B35" />
<circle cx="343.46" cy="185.57" r="2.5" fill="#E64B35" />
<circle cx="343.56" cy="230.36" r="2.5" fill="#E64B35" />
<circle cx="379.12" cy="185.98" r="2.5" fill="#E64B35" />
<circle cx="353.45" cy="189.31" r="2.5" fill="#E64B35" />
<circle cx="353.32" cy="212.43" r="2.5" fill="#E64B35" />
<circle cx="348.67" cy="204.82" r="2.5" fill="#E64B35" />
<circle cx="345.94" cy="208.05" r="2.5" fill="#E64B35" />
<circle cx="344.81" cy="198.93" r="2.5" fill="#E64B35" />
<circle cx="356.01" cy="196.84" r="2.5" fill="#E64B35" />
<circle cx="359.26" cy="220.49" r="2.5" fill="#E64B35" />
<circle cx="356.89" cy="223.72" r="2.5" fill="#E64B35" />
<circle cx="345.62" cy="217.27" r="2.5" fill="#E64B35" />
<circle cx="373.64" cy="228.57" r="2.5" fill="#E64B35" />
<circle cx="367.75" cy="198.66" r="2.5" fill="#E64B35" />
<circle cx="367.78" cy="213.47" r="2.5" fill="#E64B35" />
<circle cx="355.40" cy="212.09" r="2.5" fill="#E64B35" />
<circle cx="340.41" cy="184.35" r="2.5" fill="#E64B35" />
<circle cx="346.22" cy="226.99" r="2.5" fill="#E64B35" />
<circle cx="339.32" cy="195.98" r="2.5" fill="#E64B35" />
<circle cx="370.97" cy="225.26" r="2.5" fill="#E64B35" />
<circle cx="356.13" cy="207.72" r="2.5" fill="#E64B35" />
<circle cx="376.98" cy="197.43" r="2.5" fill="#E64B35" />
<circle cx="342.92" cy="196.88" r="2.5" fill="#E64B35" />
<circle cx="369.20" cy="199.32" r="2.5" fill="#E64B35" />
<circle cx="362.88" cy="187.40" r="2.5" fill="#E64B35" />
<circle cx="377.14" cy="230.04" r="2.5" fill="#E64B35" />
<circle cx="378.74" cy="213.65" r="2.5" fill="#E64B35" />
<circle cx="380.09" cy="228.54" r="2.5" fill="#E64B35" />
<circle cx="364.01" cy="219.01" r="2.5" fill="#E64B35" />
<circle cx="362.57" cy="217.98" r="2.5" fill="#E64B35" />
<circle cx="375.82" cy="212.37" r="2.5" fill="#E64B35" />
<circle cx="373.48" cy="226.63" r="2.5" fill="#E64B35" />
<circle cx="360.27" cy="213.76" r="2.5" fill="#E64B35" />
<circle cx="376.16" cy="227.12" r="2.5" fill="#E64B35" />
<circle cx="365.36" cy="228.50" r="2.5" fill="#E64B35" />
<circle cx="373.15" cy="210.74" r="2.5" fill="#E64B35" />
<circle cx="375.06" cy="214.12" r="2.5" fill="#E64B35" />
<circle cx="366.45" cy="227.13" r="2.5" fill="#E64B35" />
<circle cx="359.42" cy="227.38" r="2.5" fill="#E64B35" />
<circle cx="366.87" cy="222.80" r="2.5" fill="#E64B35" />
<circle cx="365.48" cy="222.21" r="2.5" fill="#E64B35" />
<circle cx="364.03" cy="222.41" r="2.5" fill="#E64B35" />
<circle cx="368.74" cy="222.97" r="2.5" fill="#E64B35" />
<circle cx="359.12" cy="225.40" r="2.5" fill="#E64B35" />
<circle cx="364.01" cy="227.19" r="2.5" fill="#E64B35" />
<circle cx="369.48" cy="224.09" r="2.5" fill="#E64B35" />
<circle cx="368.55" cy="213.02" r="2.5" fill="#E64B35" />
<circle cx="380.43" cy="225.12" r="2.5" fill="#E64B35" />
<circle cx="380.32" cy="224.15" r="2.5" fill="#E64B35" />
<circle cx="368.16" cy="218.52" r="2.5" fill="#E64B35" />
<circle cx="376.34" cy="227.49" r="2.5" fill="#E64B35" />
<circle cx="376.07" cy="214.79" r="2.5" fill="#E64B35" />
<circle cx="364.74" cy="218.34" r="2.5" fill="#E64B35" />
<circle cx="359.96" cy="214.45" r="2.5" fill="#E64B35" />
<circle cx="367.12" cy="213.62" r="2.5" fill="#E64B35" />
<circle cx="339.04" cy="230.68" r="2.5" fill="#E64B35" />
<circle cx="360.42" cy="183.05" r="2.5" fill="#E64B35" />
<circle cx="376.64" cy="194.85" r="2.5" fill="#E64B35" />
<circle cx="331.47" cy="187.64" r="2.5" fill="#1FB3D3" />
<circle cx="325.07" cy="188.67" r="2.5" fill="#1FB3D3" />
<circle cx="305.36" cy="191.80" r="2.5" fill="#1FB3D3" />
<circle cx="308.70" cy="199.07" r="2.5" fill="#1FB3D3" />
<circle cx="326.03" cy="187.35" r="2.5" fill="#1FB3D3" />
<circle cx="316.92" cy="183.79" r="2.5" fill="#1FB3D3" />
<circle cx="315.50" cy="194.70" r="2.5" fill="#1FB3D3" />
<circle cx="330.01" cy="202.21" r="2.5" fill="#1FB3D3" />
<circle cx="323.61" cy="191.50" r="2.5" fill="#1FB3D3" />
<circle cx="331.41" cy="194.33" r="2.5" fill="#1FB3D3" />
<circle cx="329.43" cy="189.70" r="2.5" fill="#1FB3D3" />
<circle cx="331.81" cy="186.42" r="2.5" fill="#1FB3D3" />
<circle cx="316.66" cy="187.11" r="2.5" fill="#1FB3D3" />
<circle cx="316.08" cy="195.02" r="2.5" fill="#1FB3D3" />
<circle cx="333.22" cy="183.27" r="2.5" fill="#1FB3D3" />
<circle cx="322.40" cy="186.91" r="2.5" fill="#1FB3D3" />
<circle cx="329.71" cy="197.57" r="2.5" fill="#1FB3D3" />
<circle cx="334.25" cy="202.10" r="2.5" fill="#1FB3D3" />
<circle cx="324.42" cy="187.75" r="2.5" fill="#1FB3D3" />
<circle cx="326.58" cy="191.74" r="2.5" fill="#1FB3D3" />
<circle cx="313.77" cy="209.09" r="2.5" fill="#1FB3D3" />
<circle cx="332.12" cy="213.83" r="2.5" fill="#1FB3D3" />
<circle cx="310.11" cy="210.72" r="2.5" fill="#1FB3D3" />
<circle cx="309.98" cy="208.34" r="2.5" fill="#1FB3D3" />
<circle cx="327.84" cy="214.30" r="2.5" fill="#1FB3D3" />
<circle cx="314.80" cy="212.25" r="2.5" fill="#1FB3D3" />
<circle cx="314.02" cy="214.91" r="2.5" fill="#1FB3D3" />
<circle cx="322.58" cy="208.55" r="2.5" fill="#1FB3D3" />
<circle cx="318.18" cy="220.23" r="2.5" fill="#1FB3D3" />
<circle cx="308.52" cy="230.24" r="2.5" fill="#1FB3D3" />
<circle cx="299.33" cy="195.76" r="2.5" fill="#00A087" />
<circle cx="300.92" cy="196.10" r="2.5" fill="#00A087" />
<circle cx="302.31" cy="196.89" r="2.5" fill="#00A087" />
<circle cx="302.02" cy="196.80" r="2.5" fill="#00A087" />
<circle cx="302.20" cy="197.06" r="2.5" fill="#00A087" />
<circle cx="299.49" cy="187.21" r="2.5" fill="#00A087" />
<circle cx="299.67" cy="193.99" r="2.5" fill="#00A087" />
<circle cx="302.65" cy="192.19" r="2.5" fill="#00A087" />
<circle cx="299.57" cy="181.06" r="2.5" fill="#00A087" />
<circle cx="297.91" cy="180.77" r="2.5" fill="#00A087" />
<circle cx="298.01" cy="179.52" r="2.5" fill="#00A087" />
<circle cx="299.40" cy="185.27" r="2.5" fill="#00A087" />
<circle cx="302.49" cy="182.42" r="2.5" fill="#00A087" />
<circle cx="297.69" cy="196.48" r="2.5" fill="#00A087" />
<circle cx="302.33" cy="189.18" r="2.5" fill="#00A087" />
<circle cx="300.19" cy="185.89" r="2.5" fill="#00A087" />
<circle cx="299.39" cy="184.84" r="2.5" fill="#00A087" />
<circle cx="297.74" cy="197.95" r="2.5" fill="#00A087" />
<circle cx="303.16" cy="216.39" r="2.5" fill="#00A087" />
<circle cx="301.25" cy="214.45" r="2.5" fill="#00A087" />
<circle cx="301.02" cy="215.12" r="2.5" fill="#00A087" />
<circle cx="301.04" cy="214.21" r="2.5" fill="#00A087" />
<circle cx="301.28" cy="217.38" r="2.5" fill="#00A087" />
<circle cx="303.28" cy="212.64" r="2.5" fill="#00A087" />
<circle cx="303.30" cy="215.69" r="2.5" fill="#00A087" />
<circle cx="301.33" cy="216.36" r="2.5" fill="#00A087" />
<circle cx="296.73" cy="173.18" r="2.5" fill="#00A087" />
<circle cx="301.44" cy="173.77" r="2.5" fill="#00A087" />
<circle cx="297.02" cy="222.42" r="2.5" fill="#00A087" />
<circle cx="293.58" cy="191.51" r="2.5" fill="#3C5488" />
<circle cx="296.04" cy="193.58" r="2.5" fill="#3C5488" />
<circle cx="294.38" cy="184.17" r="2.5" fill="#3C5488" />
<circle cx="293.21" cy="202.78" r="2.5" fill="#3C5488" />
<circle cx="295.30" cy="182.58" r="2.5" fill="#3C5488" />
<circle cx="294.76" cy="194.95" r="2.5" fill="#3C5488" />
<circle cx="295.82" cy="183.39" r="2.5" fill="#3C5488" />
<circle cx="293.81" cy="180.88" r="2.5" fill="#3C5488" />
<circle cx="294.75" cy="200.71" r="2.5" fill="#3C5488" />
<circle cx="295.24" cy="179.60" r="2.5" fill="#3C5488" />
<circle cx="294.01" cy="177.89" r="2.5" fill="#3C5488" />
<circle cx="293.29" cy="189.13" r="2.5" fill="#3C5488" />
<circle cx="293.27" cy="183.13" r="2.5" fill="#3C5488" />
<circle cx="293.57" cy="187.23" r="2.5" fill="#3C5488" />
<circle cx="295.65" cy="182.18" r="2.5" fill="#3C5488" />
<circle cx="294.82" cy="186.62" r="2.5" fill="#3C5488" />
<circle cx="293.73" cy="183.88" r="2.5" fill="#3C5488" />
<circle cx="295.39" cy="198.57" r="2.5" fill="#3C5488" />
<circle cx="295.23" cy="199.81" r="2.5" fill="#3C5488" />
<circle cx="295.22" cy="183.89" r="2.5" fill="#3C5488" />
<circle cx="293.54" cy="191.12" r="2.5" fill="#3C5488" />
<circle cx="294.81" cy="197.01" r="2.5" fill="#3C5488" />
<circle cx="295.82" cy="197.36" r="2.5" fill="#3C5488" />
<circle cx="296.06" cy="194.02" r="2.5" fill="#3C5488" />
<circle cx="295.06" cy="197.40" r="2.5" fill="#3C5488" />
<circle cx="294.43" cy="197.36" r="2.5" fill="#3C5488" />
<circle cx="295.71" cy="189.65" r="2.5" fill="#3C5488" />
<circle cx="293.91" cy="186.11" r="2.5" fill="#3C5488" />
<circle cx="294.82" cy="191.10" r="2.5" fill="#3C5488" />
<circle cx="294.42" cy="186.33" r="2.5" fill="#3C5488" />
<circle cx="295.25" cy="194.31" r="2.5" fill="#3C5488" />
<circle cx="295.92" cy="201.79" r="2.5" fill="#3C5488" />
<circle cx="292.79" cy="186.63" r="2.5" fill="#3C5488" />
<circle cx="295.27" cy="190.29" r="2.5" fill="#3C5488" />
<circle cx="294.84" cy="182.76" r="2.5" fill="#3C5488" />
<path d="M292.60,182.48 L296.98,184.63 L301.37,186.73 L305.76,188.75 L310.14,190.72 L314.53,192.62 L318.92,194.46 L323.30,196.23 L327.69,197.94 L332.08,199.58 L336.46,201.16 L340.85,202.68 L345.24,204.13 L349.62,205.52 L354.01,206.84 L358.40,208.10 L362.78,209.30 L367.17,210.43 L371.56,211.50 L375.94,212.50 L380.33,213.44 L380.33,223.44 L375.94,221.29 L371.56,219.19 L367.17,217.17 L362.78,215.20 L358.40,213.30 L354.01,211.47 L349.62,209.69 L345.24,207.98 L340.85,206.34 L336.46,204.76 L332.08,203.24 L327.69,201.79 L323.30,200.40 L318.92,199.08 L314.53,197.82 L310.14,196.62 L305.76,195.49 L301.37,194.42 L296.98,193.42 L292.60,192.48Z" fill="rgba(165,165,165,0.55)" />
<line x1="292.60" y1="187.48" x2="380.33" y2="218.44" stroke="#000" stroke-width="2.6" />
</g>
<rect x="286.90" y="160.50" width="98.40" height="79.80" fill="none" stroke="#4d4d4d" stroke-width="0.9" />
<rect x="286.90" y="139.40" width="98.40" height="21.10" fill="#D9D9D9" stroke="#4d4d4d" stroke-width="0.9" />
<text transform="matrix(1,0,0,1.001,0,-0.148)" stroke="#1a1a1a" x="336.10" y="147.75" font-size="8.9" text-anchor="middle" fill="#1a1a1a"><tspan font-style="italic">ANAPC4</tspan>: R<tspan font-size="5.5" dy="1.5">s</tspan><tspan dy="-1.5"> = 0.86</tspan></text>
<text transform="matrix(1,0,0,1.001,0,-0.157)" stroke="#1a1a1a" x="336.10" y="156.65" font-size="8.9" text-anchor="middle" fill="#1a1a1a">P<tspan font-size="5.5" dy="1.5">r</tspan><tspan dy="-1.5"> = 59/84 = 0.70</tspan></text>
<text stroke="#1a1a1a" transform="matrix(1,0,0,1.001,0,-0.174)" x="336.81" y="173.90" font-size="9.3" font-style="italic">R</text>
<text stroke="#1a1a1a" transform="matrix(1,0,0,1.001,0,-0.174)" x="346.11" y="173.90" font-size="9.3">=</text>
<line x1="354.11" y1="170.70" x2="357.91" y2="170.70" stroke="#1a1a1a" stroke-width="0.9" />
<text stroke="#1a1a1a" transform="matrix(1,0,0,1.001,0,-0.174)" x="360.21" y="173.90" font-size="9.3" textLength="17.1" lengthAdjust="spacingAndGlyphs">0.72</text>
<line x1="309.00" y1="240.30" x2="309.00" y2="242.90" stroke="#333" stroke-width="1.0" />
<text x="309.00" y="252.10" font-size="8.9" text-anchor="middle" fill="#383838" stroke="#383838" transform="matrix(1,0,0,1.001,0,-0.252)" >0.25</text>
<line x1="333.10" y1="240.30" x2="333.10" y2="242.90" stroke="#333" stroke-width="1.0" />
<text x="333.10" y="252.10" font-size="8.9" text-anchor="middle" fill="#383838" stroke="#383838" transform="matrix(1,0,0,1.001,0,-0.252)" >0.50</text>
<line x1="357.20" y1="240.30" x2="357.20" y2="242.90" stroke="#333" stroke-width="1.0" />
<text x="357.20" y="252.10" font-size="8.9" text-anchor="middle" fill="#383838" stroke="#383838" transform="matrix(1,0,0,1.001,0,-0.252)" >0.75</text>
<line x1="381.30" y1="240.30" x2="381.30" y2="242.90" stroke="#333" stroke-width="1.0" />
<text x="381.30" y="252.10" font-size="8.9" text-anchor="middle" fill="#383838" stroke="#383838" transform="matrix(1,0,0,1.001,0,-0.252)" >1.00</text>
<clipPath id="ca8"><rect x="391.75" y="160.50" width="98.40" height="79.80"/></clipPath>
<rect x="391.75" y="160.50" width="98.40" height="79.80" fill="#fff" />
<line x1="401.80" y1="160.50" x2="401.80" y2="240.30" stroke="#EEEEEE" stroke-width="0.6" />
<line x1="425.90" y1="160.50" x2="425.90" y2="240.30" stroke="#EEEEEE" stroke-width="0.6" />
<line x1="450.00" y1="160.50" x2="450.00" y2="240.30" stroke="#EEEEEE" stroke-width="0.6" />
<line x1="474.10" y1="160.50" x2="474.10" y2="240.30" stroke="#EEEEEE" stroke-width="0.6" />
<line x1="391.75" y1="174.21" x2="490.15" y2="174.21" stroke="#EEEEEE" stroke-width="0.6" />
<line x1="391.75" y1="194.25" x2="490.15" y2="194.25" stroke="#EEEEEE" stroke-width="0.6" />
<line x1="391.75" y1="214.28" x2="490.15" y2="214.28" stroke="#EEEEEE" stroke-width="0.6" />
<line x1="391.75" y1="234.31" x2="490.15" y2="234.31" stroke="#EEEEEE" stroke-width="0.6" />
<line x1="413.85" y1="160.50" x2="413.85" y2="240.30" stroke="#E2E2E2" stroke-width="1.0" />
<line x1="437.95" y1="160.50" x2="437.95" y2="240.30" stroke="#E2E2E2" stroke-width="1.0" />
<line x1="462.05" y1="160.50" x2="462.05" y2="240.30" stroke="#E2E2E2" stroke-width="1.0" />
<line x1="486.15" y1="160.50" x2="486.15" y2="240.30" stroke="#E2E2E2" stroke-width="1.0" />
<line x1="391.75" y1="164.20" x2="490.15" y2="164.20" stroke="#E2E2E2" stroke-width="1.0" />
<line x1="391.75" y1="184.23" x2="490.15" y2="184.23" stroke="#E2E2E2" stroke-width="1.0" />
<line x1="391.75" y1="204.26" x2="490.15" y2="204.26" stroke="#E2E2E2" stroke-width="1.0" />
<line x1="391.75" y1="224.29" x2="490.15" y2="224.29" stroke="#E2E2E2" stroke-width="1.0" />
<g clip-path="url(#ca8)">
<line x1="409.03" y1="160.50" x2="409.03" y2="240.30" stroke="#666" stroke-width="1.1" stroke-dasharray="4.6,4.6"/>
<line x1="391.75" y1="197.58" x2="490.15" y2="197.58" stroke="#666" stroke-width="1.1" stroke-dasharray="4.6,4.6"/>
<circle cx="473.41" cy="193.01" r="2.5" fill="#E64B35" />
<circle cx="475.36" cy="192.43" r="2.5" fill="#E64B35" />
<circle cx="463.98" cy="186.93" r="2.5" fill="#E64B35" />
<circle cx="451.88" cy="195.33" r="2.5" fill="#E64B35" />
<circle cx="485.31" cy="176.60" r="2.5" fill="#E64B35" />
<circle cx="476.67" cy="194.44" r="2.5" fill="#E64B35" />
<circle cx="474.75" cy="194.19" r="2.5" fill="#E64B35" />
<circle cx="481.29" cy="189.08" r="2.5" fill="#E64B35" />
<circle cx="442.10" cy="192.41" r="2.5" fill="#E64B35" />
<circle cx="444.85" cy="187.56" r="2.5" fill="#E64B35" />
<circle cx="443.36" cy="194.65" r="2.5" fill="#E64B35" />
<circle cx="460.61" cy="193.04" r="2.5" fill="#E64B35" />
<circle cx="478.94" cy="180.60" r="2.5" fill="#E64B35" />
<circle cx="474.75" cy="194.58" r="2.5" fill="#E64B35" />
<circle cx="473.87" cy="186.76" r="2.5" fill="#E64B35" />
<circle cx="442.89" cy="181.35" r="2.5" fill="#E64B35" />
<circle cx="478.52" cy="189.84" r="2.5" fill="#E64B35" />
<circle cx="457.80" cy="177.82" r="2.5" fill="#E64B35" />
<circle cx="465.95" cy="183.46" r="2.5" fill="#E64B35" />
<circle cx="456.29" cy="179.72" r="2.5" fill="#E64B35" />
<circle cx="481.41" cy="179.96" r="2.5" fill="#E64B35" />
<circle cx="455.09" cy="191.98" r="2.5" fill="#E64B35" />
<circle cx="465.86" cy="220.87" r="2.5" fill="#E64B35" />
<circle cx="457.51" cy="223.78" r="2.5" fill="#E64B35" />
<circle cx="466.81" cy="199.13" r="2.5" fill="#E64B35" />
<circle cx="466.39" cy="230.84" r="2.5" fill="#E64B35" />
<circle cx="453.26" cy="227.01" r="2.5" fill="#E64B35" />
<circle cx="461.36" cy="233.69" r="2.5" fill="#E64B35" />
<circle cx="470.85" cy="227.63" r="2.5" fill="#E64B35" />
<circle cx="460.14" cy="215.98" r="2.5" fill="#E64B35" />
<circle cx="466.83" cy="221.74" r="2.5" fill="#E64B35" />
<circle cx="468.01" cy="208.85" r="2.5" fill="#E64B35" />
<circle cx="469.52" cy="200.72" r="2.5" fill="#E64B35" />
<circle cx="464.12" cy="205.14" r="2.5" fill="#E64B35" />
<circle cx="459.00" cy="225.18" r="2.5" fill="#E64B35" />
<circle cx="449.77" cy="200.07" r="2.5" fill="#E64B35" />
<circle cx="463.77" cy="207.41" r="2.5" fill="#E64B35" />
<circle cx="444.00" cy="200.30" r="2.5" fill="#E64B35" />
<circle cx="459.98" cy="220.48" r="2.5" fill="#E64B35" />
<circle cx="472.04" cy="212.38" r="2.5" fill="#E64B35" />
<circle cx="468.28" cy="215.17" r="2.5" fill="#E64B35" />
<circle cx="446.78" cy="217.73" r="2.5" fill="#E64B35" />
<circle cx="453.28" cy="201.63" r="2.5" fill="#E64B35" />
<circle cx="470.89" cy="211.72" r="2.5" fill="#E64B35" />
<circle cx="449.55" cy="233.93" r="2.5" fill="#E64B35" />
<circle cx="465.80" cy="230.21" r="2.5" fill="#E64B35" />
<circle cx="447.33" cy="220.94" r="2.5" fill="#E64B35" />
<circle cx="456.40" cy="222.22" r="2.5" fill="#E64B35" />
<circle cx="464.74" cy="210.58" r="2.5" fill="#E64B35" />
<circle cx="471.19" cy="200.52" r="2.5" fill="#E64B35" />
<circle cx="453.40" cy="231.69" r="2.5" fill="#E64B35" />
<circle cx="459.59" cy="215.98" r="2.5" fill="#E64B35" />
<circle cx="456.51" cy="220.03" r="2.5" fill="#E64B35" />
<circle cx="442.29" cy="224.69" r="2.5" fill="#E64B35" />
<circle cx="454.02" cy="208.46" r="2.5" fill="#E64B35" />
<circle cx="454.80" cy="203.49" r="2.5" fill="#E64B35" />
<circle cx="470.31" cy="222.76" r="2.5" fill="#E64B35" />
<circle cx="478.28" cy="199.58" r="2.5" fill="#E64B35" />
<circle cx="481.99" cy="228.12" r="2.5" fill="#E64B35" />
<circle cx="476.93" cy="219.68" r="2.5" fill="#E64B35" />
<circle cx="484.37" cy="205.83" r="2.5" fill="#E64B35" />
<circle cx="481.47" cy="216.87" r="2.5" fill="#E64B35" />
<circle cx="476.71" cy="223.21" r="2.5" fill="#E64B35" />
<circle cx="477.91" cy="229.32" r="2.5" fill="#E64B35" />
<circle cx="478.46" cy="207.79" r="2.5" fill="#E64B35" />
<circle cx="481.79" cy="217.57" r="2.5" fill="#E64B35" />
<circle cx="484.10" cy="208.93" r="2.5" fill="#E64B35" />
<circle cx="479.79" cy="200.69" r="2.5" fill="#E64B35" />
<circle cx="480.92" cy="227.42" r="2.5" fill="#E64B35" />
<circle cx="480.63" cy="219.10" r="2.5" fill="#E64B35" />
<circle cx="484.89" cy="213.99" r="2.5" fill="#E64B35" />
<circle cx="477.53" cy="214.78" r="2.5" fill="#E64B35" />
<circle cx="479.39" cy="199.39" r="2.5" fill="#E64B35" />
<circle cx="483.29" cy="198.94" r="2.5" fill="#E64B35" />
<circle cx="478.38" cy="228.43" r="2.5" fill="#E64B35" />
<circle cx="484.44" cy="202.90" r="2.5" fill="#E64B35" />
<circle cx="480.43" cy="204.92" r="2.5" fill="#E64B35" />
<circle cx="484.04" cy="231.81" r="2.5" fill="#E64B35" />
<circle cx="480.29" cy="206.63" r="2.5" fill="#E64B35" />
<circle cx="479.53" cy="218.66" r="2.5" fill="#E64B35" />
<circle cx="485.76" cy="200.85" r="2.5" fill="#E64B35" />
<circle cx="485.26" cy="233.61" r="2.5" fill="#E64B35" />
<circle cx="482.05" cy="201.35" r="2.5" fill="#E64B35" />
<circle cx="479.57" cy="224.46" r="2.5" fill="#E64B35" />
<circle cx="476.58" cy="220.20" r="2.5" fill="#E64B35" />
<circle cx="481.56" cy="199.77" r="2.5" fill="#E64B35" />
<circle cx="482.07" cy="224.12" r="2.5" fill="#E64B35" />
<circle cx="477.52" cy="204.86" r="2.5" fill="#E64B35" />
<circle cx="478.63" cy="199.20" r="2.5" fill="#E64B35" />
<circle cx="479.18" cy="211.96" r="2.5" fill="#E64B35" />
<circle cx="477.30" cy="222.11" r="2.5" fill="#E64B35" />
<circle cx="483.59" cy="209.97" r="2.5" fill="#E64B35" />
<circle cx="483.06" cy="205.56" r="2.5" fill="#E64B35" />
<circle cx="485.62" cy="230.43" r="2.5" fill="#E64B35" />
<circle cx="476.24" cy="212.78" r="2.5" fill="#E64B35" />
<circle cx="482.32" cy="225.44" r="2.5" fill="#E64B35" />
<circle cx="483.38" cy="207.66" r="2.5" fill="#E64B35" />
<circle cx="411.01" cy="185.37" r="2.5" fill="#1FB3D3" />
<circle cx="413.78" cy="178.88" r="2.5" fill="#1FB3D3" />
<circle cx="422.54" cy="186.64" r="2.5" fill="#1FB3D3" />
<circle cx="415.38" cy="195.73" r="2.5" fill="#1FB3D3" />
<circle cx="424.53" cy="183.30" r="2.5" fill="#1FB3D3" />
<circle cx="420.03" cy="182.95" r="2.5" fill="#1FB3D3" />
<circle cx="414.28" cy="182.99" r="2.5" fill="#1FB3D3" />
<circle cx="414.99" cy="180.81" r="2.5" fill="#1FB3D3" />
<circle cx="409.94" cy="200.12" r="2.5" fill="#1FB3D3" />
<circle cx="418.76" cy="183.37" r="2.5" fill="#1FB3D3" />
<circle cx="418.83" cy="200.95" r="2.5" fill="#1FB3D3" />
<circle cx="411.28" cy="199.08" r="2.5" fill="#1FB3D3" />
<circle cx="415.09" cy="176.41" r="2.5" fill="#1FB3D3" />
<circle cx="427.78" cy="183.26" r="2.5" fill="#1FB3D3" />
<circle cx="426.93" cy="178.19" r="2.5" fill="#1FB3D3" />
<circle cx="411.87" cy="194.19" r="2.5" fill="#1FB3D3" />
<circle cx="412.50" cy="196.97" r="2.5" fill="#1FB3D3" />
<circle cx="417.39" cy="201.64" r="2.5" fill="#1FB3D3" />
<circle cx="417.39" cy="193.58" r="2.5" fill="#1FB3D3" />
<circle cx="415.42" cy="185.24" r="2.5" fill="#1FB3D3" />
<circle cx="419.62" cy="183.69" r="2.5" fill="#1FB3D3" />
<circle cx="420.39" cy="184.66" r="2.5" fill="#1FB3D3" />
<circle cx="419.56" cy="179.93" r="2.5" fill="#1FB3D3" />
<circle cx="415.34" cy="184.88" r="2.5" fill="#1FB3D3" />
<circle cx="418.40" cy="202.62" r="2.5" fill="#1FB3D3" />
<circle cx="427.88" cy="188.40" r="2.5" fill="#1FB3D3" />
<circle cx="422.12" cy="197.60" r="2.5" fill="#1FB3D3" />
<circle cx="425.58" cy="192.38" r="2.5" fill="#1FB3D3" />
<circle cx="412.67" cy="193.37" r="2.5" fill="#1FB3D3" />
<circle cx="416.86" cy="179.58" r="2.5" fill="#1FB3D3" />
<circle cx="412.35" cy="195.48" r="2.5" fill="#1FB3D3" />
<circle cx="414.10" cy="183.54" r="2.5" fill="#1FB3D3" />
<circle cx="417.03" cy="184.29" r="2.5" fill="#1FB3D3" />
<circle cx="419.41" cy="181.88" r="2.5" fill="#1FB3D3" />
<circle cx="412.69" cy="194.06" r="2.5" fill="#1FB3D3" />
<circle cx="410.85" cy="199.28" r="2.5" fill="#1FB3D3" />
<circle cx="427.40" cy="178.97" r="2.5" fill="#1FB3D3" />
<circle cx="420.93" cy="198.66" r="2.5" fill="#1FB3D3" />
<circle cx="413.21" cy="201.68" r="2.5" fill="#1FB3D3" />
<circle cx="416.16" cy="177.30" r="2.5" fill="#1FB3D3" />
<circle cx="410.36" cy="183.83" r="2.5" fill="#1FB3D3" />
<circle cx="414.87" cy="193.59" r="2.5" fill="#1FB3D3" />
<circle cx="420.06" cy="197.60" r="2.5" fill="#1FB3D3" />
<circle cx="420.83" cy="185.00" r="2.5" fill="#1FB3D3" />
<circle cx="410.63" cy="198.92" r="2.5" fill="#1FB3D3" />
<circle cx="415.30" cy="199.81" r="2.5" fill="#1FB3D3" />
<circle cx="410.57" cy="182.38" r="2.5" fill="#1FB3D3" />
<circle cx="426.40" cy="196.69" r="2.5" fill="#1FB3D3" />
<circle cx="411.12" cy="194.94" r="2.5" fill="#1FB3D3" />
<circle cx="424.98" cy="194.89" r="2.5" fill="#1FB3D3" />
<circle cx="423.24" cy="182.49" r="2.5" fill="#1FB3D3" />
<circle cx="417.92" cy="197.48" r="2.5" fill="#1FB3D3" />
<circle cx="421.80" cy="176.51" r="2.5" fill="#1FB3D3" />
<circle cx="412.98" cy="184.16" r="2.5" fill="#1FB3D3" />
<circle cx="412.13" cy="184.50" r="2.5" fill="#1FB3D3" />
<circle cx="412.09" cy="228.99" r="2.5" fill="#1FB3D3" />
<circle cx="414.56" cy="231.06" r="2.5" fill="#1FB3D3" />
<circle cx="424.91" cy="213.95" r="2.5" fill="#1FB3D3" />
<circle cx="413.26" cy="228.61" r="2.5" fill="#1FB3D3" />
<circle cx="416.34" cy="223.81" r="2.5" fill="#1FB3D3" />
<circle cx="423.23" cy="219.29" r="2.5" fill="#1FB3D3" />
<circle cx="422.55" cy="222.38" r="2.5" fill="#1FB3D3" />
<circle cx="420.19" cy="210.42" r="2.5" fill="#1FB3D3" />
<circle cx="425.02" cy="224.64" r="2.5" fill="#1FB3D3" />
<circle cx="410.97" cy="217.12" r="2.5" fill="#1FB3D3" />
<circle cx="413.42" cy="219.04" r="2.5" fill="#1FB3D3" />
<circle cx="415.56" cy="212.83" r="2.5" fill="#1FB3D3" />
<circle cx="412.50" cy="225.22" r="2.5" fill="#1FB3D3" />
<circle cx="416.84" cy="206.87" r="2.5" fill="#1FB3D3" />
<circle cx="420.07" cy="231.15" r="2.5" fill="#1FB3D3" />
<circle cx="417.18" cy="229.86" r="2.5" fill="#1FB3D3" />
<circle cx="421.48" cy="224.83" r="2.5" fill="#1FB3D3" />
<circle cx="413.73" cy="208.59" r="2.5" fill="#1FB3D3" />
<circle cx="422.25" cy="211.92" r="2.5" fill="#1FB3D3" />
<circle cx="421.02" cy="206.19" r="2.5" fill="#1FB3D3" />
<circle cx="426.75" cy="216.64" r="2.5" fill="#1FB3D3" />
<circle cx="427.17" cy="227.06" r="2.5" fill="#1FB3D3" />
<circle cx="425.68" cy="230.08" r="2.5" fill="#1FB3D3" />
<circle cx="410.65" cy="224.65" r="2.5" fill="#1FB3D3" />
<circle cx="413.43" cy="230.56" r="2.5" fill="#1FB3D3" />
<circle cx="426.40" cy="217.54" r="2.5" fill="#1FB3D3" />
<circle cx="420.97" cy="212.34" r="2.5" fill="#1FB3D3" />
<circle cx="414.77" cy="215.02" r="2.5" fill="#1FB3D3" />
<circle cx="415.26" cy="223.72" r="2.5" fill="#1FB3D3" />
<circle cx="427.20" cy="223.82" r="2.5" fill="#1FB3D3" />
<circle cx="409.53" cy="225.19" r="2.5" fill="#1FB3D3" />
<circle cx="416.66" cy="214.03" r="2.5" fill="#1FB3D3" />
<circle cx="413.29" cy="210.87" r="2.5" fill="#1FB3D3" />
<circle cx="427.43" cy="218.26" r="2.5" fill="#1FB3D3" />
<circle cx="424.25" cy="206.63" r="2.5" fill="#1FB3D3" />
<circle cx="439.72" cy="193.96" r="2.5" fill="#1FB3D3" />
<circle cx="440.50" cy="193.48" r="2.5" fill="#1FB3D3" />
<circle cx="439.95" cy="184.36" r="2.5" fill="#1FB3D3" />
<circle cx="439.70" cy="202.63" r="2.5" fill="#1FB3D3" />
<circle cx="434.72" cy="188.29" r="2.5" fill="#1FB3D3" />
<circle cx="439.07" cy="200.90" r="2.5" fill="#1FB3D3" />
<circle cx="439.15" cy="179.42" r="2.5" fill="#1FB3D3" />
<circle cx="431.74" cy="188.01" r="2.5" fill="#1FB3D3" />
<circle cx="435.83" cy="196.04" r="2.5" fill="#1FB3D3" />
<circle cx="436.77" cy="191.20" r="2.5" fill="#1FB3D3" />
<circle cx="434.69" cy="177.85" r="2.5" fill="#1FB3D3" />
<circle cx="435.15" cy="189.10" r="2.5" fill="#1FB3D3" />
<circle cx="437.13" cy="196.93" r="2.5" fill="#1FB3D3" />
<circle cx="437.66" cy="196.64" r="2.5" fill="#1FB3D3" />
<circle cx="435.84" cy="192.55" r="2.5" fill="#1FB3D3" />
<circle cx="434.85" cy="223.42" r="2.5" fill="#1FB3D3" />
<circle cx="439.43" cy="211.93" r="2.5" fill="#1FB3D3" />
<circle cx="437.04" cy="216.74" r="2.5" fill="#1FB3D3" />
<circle cx="438.41" cy="211.13" r="2.5" fill="#1FB3D3" />
<circle cx="437.57" cy="210.51" r="2.5" fill="#1FB3D3" />
<circle cx="440.45" cy="209.82" r="2.5" fill="#1FB3D3" />
<circle cx="435.33" cy="220.82" r="2.5" fill="#1FB3D3" />
<circle cx="438.98" cy="229.09" r="2.5" fill="#1FB3D3" />
<circle cx="432.32" cy="209.69" r="2.5" fill="#1FB3D3" />
<circle cx="436.78" cy="227.12" r="2.5" fill="#1FB3D3" />
<circle cx="441.48" cy="229.63" r="2.5" fill="#1FB3D3" />
<circle cx="436.87" cy="230.22" r="2.5" fill="#1FB3D3" />
<circle cx="401.75" cy="186.34" r="2.5" fill="#00A087" />
<circle cx="408.13" cy="187.78" r="2.5" fill="#00A087" />
<circle cx="408.30" cy="186.43" r="2.5" fill="#00A087" />
<circle cx="403.58" cy="179.22" r="2.5" fill="#00A087" />
<circle cx="405.57" cy="180.81" r="2.5" fill="#00A087" />
<circle cx="408.00" cy="192.94" r="2.5" fill="#00A087" />
<circle cx="401.43" cy="192.83" r="2.5" fill="#00A087" />
<circle cx="404.63" cy="193.87" r="2.5" fill="#00A087" />
<circle cx="405.56" cy="179.52" r="2.5" fill="#00A087" />
<circle cx="404.67" cy="193.23" r="2.5" fill="#00A087" />
<circle cx="401.88" cy="199.56" r="2.5" fill="#00A087" />
<circle cx="406.32" cy="181.60" r="2.5" fill="#00A087" />
<circle cx="401.82" cy="187.15" r="2.5" fill="#00A087" />
<circle cx="405.73" cy="193.07" r="2.5" fill="#00A087" />
<circle cx="402.12" cy="192.19" r="2.5" fill="#00A087" />
<circle cx="405.18" cy="181.10" r="2.5" fill="#00A087" />
<circle cx="404.84" cy="193.10" r="2.5" fill="#00A087" />
<circle cx="406.45" cy="179.51" r="2.5" fill="#00A087" />
<circle cx="401.80" cy="195.10" r="2.5" fill="#00A087" />
<circle cx="408.27" cy="191.26" r="2.5" fill="#00A087" />
<circle cx="407.59" cy="186.53" r="2.5" fill="#00A087" />
<circle cx="402.42" cy="193.99" r="2.5" fill="#00A087" />
<circle cx="403.25" cy="199.11" r="2.5" fill="#00A087" />
<circle cx="406.57" cy="177.90" r="2.5" fill="#00A087" />
<circle cx="403.48" cy="197.36" r="2.5" fill="#00A087" />
<circle cx="401.67" cy="182.44" r="2.5" fill="#00A087" />
<circle cx="401.54" cy="194.77" r="2.5" fill="#00A087" />
<circle cx="408.12" cy="195.17" r="2.5" fill="#00A087" />
<circle cx="407.60" cy="181.75" r="2.5" fill="#00A087" />
<circle cx="407.01" cy="202.61" r="2.5" fill="#00A087" />
<circle cx="407.09" cy="182.39" r="2.5" fill="#00A087" />
<circle cx="403.39" cy="201.25" r="2.5" fill="#00A087" />
<circle cx="406.19" cy="187.32" r="2.5" fill="#00A087" />
<circle cx="403.13" cy="177.61" r="2.5" fill="#00A087" />
<circle cx="406.78" cy="192.24" r="2.5" fill="#00A087" />
<circle cx="402.28" cy="179.94" r="2.5" fill="#00A087" />
<circle cx="408.29" cy="200.60" r="2.5" fill="#00A087" />
<circle cx="401.33" cy="180.99" r="2.5" fill="#00A087" />
<circle cx="407.50" cy="188.33" r="2.5" fill="#00A087" />
<circle cx="407.36" cy="189.33" r="2.5" fill="#00A087" />
<circle cx="403.69" cy="226.93" r="2.5" fill="#00A087" />
<circle cx="403.26" cy="226.59" r="2.5" fill="#00A087" />
<circle cx="406.20" cy="208.87" r="2.5" fill="#00A087" />
<circle cx="407.18" cy="226.86" r="2.5" fill="#00A087" />
<circle cx="402.05" cy="217.77" r="2.5" fill="#00A087" />
<circle cx="404.39" cy="211.56" r="2.5" fill="#00A087" />
<circle cx="405.95" cy="226.22" r="2.5" fill="#00A087" />
<circle cx="406.85" cy="223.72" r="2.5" fill="#00A087" />
<circle cx="403.91" cy="220.17" r="2.5" fill="#00A087" />
<circle cx="406.72" cy="213.13" r="2.5" fill="#00A087" />
<circle cx="406.07" cy="215.53" r="2.5" fill="#00A087" />
<circle cx="407.02" cy="213.78" r="2.5" fill="#00A087" />
<circle cx="404.74" cy="215.90" r="2.5" fill="#00A087" />
<circle cx="402.20" cy="216.72" r="2.5" fill="#00A087" />
<circle cx="405.95" cy="219.70" r="2.5" fill="#00A087" />
<circle cx="407.23" cy="223.36" r="2.5" fill="#00A087" />
<circle cx="402.06" cy="216.95" r="2.5" fill="#00A087" />
<circle cx="404.12" cy="206.43" r="2.5" fill="#00A087" />
<circle cx="407.27" cy="220.04" r="2.5" fill="#00A087" />
<circle cx="403.31" cy="219.68" r="2.5" fill="#00A087" />
<circle cx="405.47" cy="222.86" r="2.5" fill="#00A087" />
<circle cx="406.91" cy="218.56" r="2.5" fill="#00A087" />
<circle cx="404.56" cy="218.49" r="2.5" fill="#00A087" />
<circle cx="402.72" cy="206.71" r="2.5" fill="#00A087" />
<circle cx="405.97" cy="221.84" r="2.5" fill="#00A087" />
<circle cx="397.94" cy="197.70" r="2.5" fill="#3C5488" />
<circle cx="399.93" cy="185.77" r="2.5" fill="#3C5488" />
<circle cx="398.33" cy="180.52" r="2.5" fill="#3C5488" />
<circle cx="397.81" cy="181.05" r="2.5" fill="#3C5488" />
<circle cx="398.13" cy="198.76" r="2.5" fill="#3C5488" />
<circle cx="398.10" cy="180.36" r="2.5" fill="#3C5488" />
<circle cx="400.06" cy="200.52" r="2.5" fill="#3C5488" />
<circle cx="397.87" cy="184.04" r="2.5" fill="#3C5488" />
<circle cx="400.22" cy="185.92" r="2.5" fill="#3C5488" />
<circle cx="399.26" cy="194.26" r="2.5" fill="#3C5488" />
<circle cx="399.31" cy="176.63" r="2.5" fill="#3C5488" />
<circle cx="399.51" cy="197.65" r="2.5" fill="#3C5488" />
<circle cx="398.78" cy="184.67" r="2.5" fill="#3C5488" />
<circle cx="399.51" cy="202.51" r="2.5" fill="#3C5488" />
<circle cx="400.10" cy="180.68" r="2.5" fill="#3C5488" />
<circle cx="399.61" cy="188.67" r="2.5" fill="#3C5488" />
<circle cx="400.22" cy="202.00" r="2.5" fill="#3C5488" />
<circle cx="398.88" cy="200.09" r="2.5" fill="#3C5488" />
<circle cx="399.94" cy="178.18" r="2.5" fill="#3C5488" />
<circle cx="398.67" cy="201.34" r="2.5" fill="#3C5488" />
<circle cx="398.22" cy="187.25" r="2.5" fill="#3C5488" />
<circle cx="399.26" cy="184.87" r="2.5" fill="#3C5488" />
<circle cx="399.68" cy="180.15" r="2.5" fill="#3C5488" />
<circle cx="399.18" cy="190.39" r="2.5" fill="#3C5488" />
<circle cx="397.67" cy="197.03" r="2.5" fill="#3C5488" />
<circle cx="399.69" cy="198.72" r="2.5" fill="#3C5488" />
<circle cx="398.10" cy="189.82" r="2.5" fill="#3C5488" />
<circle cx="398.00" cy="195.43" r="2.5" fill="#3C5488" />
<circle cx="399.23" cy="199.80" r="2.5" fill="#3C5488" />
<circle cx="397.96" cy="182.10" r="2.5" fill="#3C5488" />
<circle cx="397.79" cy="200.78" r="2.5" fill="#3C5488" />
<circle cx="399.31" cy="179.00" r="2.5" fill="#3C5488" />
<circle cx="399.56" cy="187.46" r="2.5" fill="#3C5488" />
<circle cx="398.66" cy="196.78" r="2.5" fill="#3C5488" />
<circle cx="399.54" cy="188.53" r="2.5" fill="#3C5488" />
<circle cx="397.94" cy="211.09" r="2.5" fill="#3C5488" />
<circle cx="398.05" cy="208.46" r="2.5" fill="#3C5488" />
<circle cx="397.80" cy="213.32" r="2.5" fill="#3C5488" />
<circle cx="398.74" cy="213.62" r="2.5" fill="#3C5488" />
<circle cx="398.07" cy="206.45" r="2.5" fill="#3C5488" />
<circle cx="398.68" cy="210.17" r="2.5" fill="#3C5488" />
<circle cx="397.94" cy="215.38" r="2.5" fill="#3C5488" />
<circle cx="398.64" cy="207.49" r="2.5" fill="#3C5488" />
<circle cx="397.68" cy="208.86" r="2.5" fill="#3C5488" />
<circle cx="398.77" cy="212.72" r="2.5" fill="#3C5488" />
<circle cx="397.72" cy="214.50" r="2.5" fill="#3C5488" />
<circle cx="398.19" cy="207.43" r="2.5" fill="#3C5488" />
<circle cx="398.63" cy="164.33" r="2.5" fill="#3C5488" />
<path d="M396.71,185.43 L401.13,187.44 L405.56,189.38 L409.98,191.26 L414.40,193.08 L418.83,194.83 L423.25,196.52 L427.68,198.14 L432.10,199.71 L436.52,201.20 L440.95,202.63 L445.37,204.00 L449.79,205.31 L454.22,206.55 L458.64,207.73 L463.06,208.84 L467.49,209.89 L471.91,210.87 L476.33,211.79 L480.76,212.65 L485.18,213.44 L485.18,223.44 L480.76,221.43 L476.33,219.49 L471.91,217.61 L467.49,215.79 L463.06,214.04 L458.64,212.35 L454.22,210.73 L449.79,209.16 L445.37,207.67 L440.95,206.23 L436.52,204.87 L432.10,203.56 L427.68,202.32 L423.25,201.14 L418.83,200.03 L414.40,198.98 L409.98,198.00 L405.56,197.08 L401.13,196.22 L396.71,195.43Z" fill="rgba(165,165,165,0.55)" />
<line x1="396.71" y1="190.43" x2="485.18" y2="218.44" stroke="#000" stroke-width="2.6" />
</g>
<rect x="391.75" y="160.50" width="98.40" height="79.80" fill="none" stroke="#4d4d4d" stroke-width="0.9" />
<rect x="391.75" y="139.40" width="98.40" height="21.10" fill="#D9D9D9" stroke="#4d4d4d" stroke-width="0.9" />
<text transform="matrix(1,0,0,1.001,0,-0.148)" stroke="#1a1a1a" x="440.95" y="147.75" font-size="8.9" text-anchor="middle" fill="#1a1a1a"><tspan font-style="italic">DYNC1H1</tspan>: R<tspan font-size="5.5" dy="1.5">s</tspan><tspan dy="-1.5"> = 0.76</tspan></text>
<text transform="matrix(1,0,0,1.001,0,-0.157)" stroke="#1a1a1a" x="440.95" y="156.65" font-size="8.9" text-anchor="middle" fill="#1a1a1a">P<tspan font-size="5.5" dy="1.5">r</tspan><tspan dy="-1.5"> = 137/221 = 0.62</tspan></text>
<text stroke="#1a1a1a" transform="matrix(1,0,0,1.001,0,-0.174)" x="439.45" y="173.90" font-size="9.3" font-style="italic">R</text>
<text stroke="#1a1a1a" transform="matrix(1,0,0,1.001,0,-0.174)" x="448.75" y="173.90" font-size="9.3">=</text>
<line x1="456.75" y1="170.70" x2="460.55" y2="170.70" stroke="#1a1a1a" stroke-width="0.9" />
<text stroke="#1a1a1a" transform="matrix(1,0,0,1.001,0,-0.174)" x="462.85" y="173.90" font-size="9.3" textLength="17.1" lengthAdjust="spacingAndGlyphs">0.59</text>
<line x1="413.85" y1="240.30" x2="413.85" y2="242.90" stroke="#333" stroke-width="1.0" />
<text x="413.85" y="252.10" font-size="8.9" text-anchor="middle" fill="#383838" stroke="#383838" transform="matrix(1,0,0,1.001,0,-0.252)" >0.25</text>
<line x1="437.95" y1="240.30" x2="437.95" y2="242.90" stroke="#333" stroke-width="1.0" />
<text x="437.95" y="252.10" font-size="8.9" text-anchor="middle" fill="#383838" stroke="#383838" transform="matrix(1,0,0,1.001,0,-0.252)" >0.50</text>
<line x1="462.05" y1="240.30" x2="462.05" y2="242.90" stroke="#333" stroke-width="1.0" />
<text x="462.05" y="252.10" font-size="8.9" text-anchor="middle" fill="#383838" stroke="#383838" transform="matrix(1,0,0,1.001,0,-0.252)" >0.75</text>
<line x1="486.15" y1="240.30" x2="486.15" y2="242.90" stroke="#333" stroke-width="1.0" />
<text x="486.15" y="252.10" font-size="8.9" text-anchor="middle" fill="#383838" stroke="#383838" transform="matrix(1,0,0,1.001,0,-0.252)" >1.00</text>
<clipPath id="ca9"><rect x="496.60" y="160.50" width="98.40" height="79.80"/></clipPath>
<rect x="496.60" y="160.50" width="98.40" height="79.80" fill="#fff" />
<line x1="506.65" y1="160.50" x2="506.65" y2="240.30" stroke="#EEEEEE" stroke-width="0.6" />
<line x1="530.75" y1="160.50" x2="530.75" y2="240.30" stroke="#EEEEEE" stroke-width="0.6" />
<line x1="554.85" y1="160.50" x2="554.85" y2="240.30" stroke="#EEEEEE" stroke-width="0.6" />
<line x1="578.95" y1="160.50" x2="578.95" y2="240.30" stroke="#EEEEEE" stroke-width="0.6" />
<line x1="496.60" y1="174.21" x2="595.00" y2="174.21" stroke="#EEEEEE" stroke-width="0.6" />
<line x1="496.60" y1="194.25" x2="595.00" y2="194.25" stroke="#EEEEEE" stroke-width="0.6" />
<line x1="496.60" y1="214.28" x2="595.00" y2="214.28" stroke="#EEEEEE" stroke-width="0.6" />
<line x1="496.60" y1="234.31" x2="595.00" y2="234.31" stroke="#EEEEEE" stroke-width="0.6" />
<line x1="518.70" y1="160.50" x2="518.70" y2="240.30" stroke="#E2E2E2" stroke-width="1.0" />
<line x1="542.80" y1="160.50" x2="542.80" y2="240.30" stroke="#E2E2E2" stroke-width="1.0" />
<line x1="566.90" y1="160.50" x2="566.90" y2="240.30" stroke="#E2E2E2" stroke-width="1.0" />
<line x1="591.00" y1="160.50" x2="591.00" y2="240.30" stroke="#E2E2E2" stroke-width="1.0" />
<line x1="496.60" y1="164.20" x2="595.00" y2="164.20" stroke="#E2E2E2" stroke-width="1.0" />
<line x1="496.60" y1="184.23" x2="595.00" y2="184.23" stroke="#E2E2E2" stroke-width="1.0" />
<line x1="496.60" y1="204.26" x2="595.00" y2="204.26" stroke="#E2E2E2" stroke-width="1.0" />
<line x1="496.60" y1="224.29" x2="595.00" y2="224.29" stroke="#E2E2E2" stroke-width="1.0" />
<g clip-path="url(#ca9)">
<line x1="513.88" y1="160.50" x2="513.88" y2="240.30" stroke="#666" stroke-width="1.1" stroke-dasharray="4.6,4.6"/>
<line x1="496.60" y1="197.58" x2="595.00" y2="197.58" stroke="#666" stroke-width="1.1" stroke-dasharray="4.6,4.6"/>
<circle cx="590.27" cy="231.56" r="2.5" fill="#E64B35" />
<circle cx="584.64" cy="216.24" r="2.5" fill="#E64B35" />
<circle cx="549.76" cy="223.54" r="2.5" fill="#E64B35" />
<circle cx="565.02" cy="223.65" r="2.5" fill="#E64B35" />
<circle cx="587.67" cy="182.55" r="2.5" fill="#E64B35" />
<circle cx="564.43" cy="193.80" r="2.5" fill="#E64B35" />
<circle cx="555.32" cy="228.89" r="2.5" fill="#E64B35" />
<circle cx="577.23" cy="209.33" r="2.5" fill="#E64B35" />
<circle cx="580.57" cy="208.82" r="2.5" fill="#E64B35" />
<circle cx="549.21" cy="208.39" r="2.5" fill="#E64B35" />
<circle cx="576.96" cy="216.15" r="2.5" fill="#E64B35" />
<circle cx="582.71" cy="194.43" r="2.5" fill="#E64B35" />
<circle cx="573.80" cy="218.59" r="2.5" fill="#E64B35" />
<circle cx="566.45" cy="229.36" r="2.5" fill="#E64B35" />
<circle cx="562.07" cy="206.54" r="2.5" fill="#E64B35" />
<circle cx="565.98" cy="226.74" r="2.5" fill="#E64B35" />
<circle cx="584.22" cy="217.74" r="2.5" fill="#E64B35" />
<circle cx="577.59" cy="210.14" r="2.5" fill="#E64B35" />
<circle cx="578.57" cy="195.92" r="2.5" fill="#E64B35" />
<circle cx="551.53" cy="202.06" r="2.5" fill="#E64B35" />
<circle cx="589.33" cy="183.07" r="2.5" fill="#E64B35" />
<circle cx="572.96" cy="186.59" r="2.5" fill="#E64B35" />
<circle cx="549.31" cy="216.30" r="2.5" fill="#E64B35" />
<circle cx="576.78" cy="192.78" r="2.5" fill="#E64B35" />
<circle cx="572.95" cy="208.98" r="2.5" fill="#E64B35" />
<circle cx="568.80" cy="216.74" r="2.5" fill="#E64B35" />
<circle cx="581.70" cy="220.36" r="2.5" fill="#E64B35" />
<circle cx="572.97" cy="228.22" r="2.5" fill="#E64B35" />
<circle cx="589.43" cy="218.40" r="2.5" fill="#E64B35" />
<circle cx="560.18" cy="188.53" r="2.5" fill="#E64B35" />
<circle cx="577.39" cy="220.37" r="2.5" fill="#E64B35" />
<circle cx="590.00" cy="228.43" r="2.5" fill="#E64B35" />
<circle cx="564.89" cy="183.83" r="2.5" fill="#E64B35" />
<circle cx="575.13" cy="207.33" r="2.5" fill="#E64B35" />
<circle cx="576.18" cy="189.51" r="2.5" fill="#E64B35" />
<circle cx="573.86" cy="212.38" r="2.5" fill="#E64B35" />
<circle cx="548.65" cy="184.17" r="2.5" fill="#E64B35" />
<circle cx="567.05" cy="213.49" r="2.5" fill="#E64B35" />
<circle cx="582.32" cy="188.68" r="2.5" fill="#E64B35" />
<circle cx="588.84" cy="190.70" r="2.5" fill="#E64B35" />
<circle cx="589.52" cy="191.07" r="2.5" fill="#E64B35" />
<circle cx="575.92" cy="225.16" r="2.5" fill="#E64B35" />
<circle cx="556.63" cy="199.22" r="2.5" fill="#E64B35" />
<circle cx="587.05" cy="219.14" r="2.5" fill="#E64B35" />
<circle cx="581.65" cy="184.07" r="2.5" fill="#E64B35" />
<circle cx="586.77" cy="202.57" r="2.5" fill="#E64B35" />
<circle cx="556.70" cy="222.54" r="2.5" fill="#E64B35" />
<circle cx="568.01" cy="221.63" r="2.5" fill="#E64B35" />
<circle cx="583.57" cy="181.07" r="2.5" fill="#E64B35" />
<circle cx="558.74" cy="213.26" r="2.5" fill="#E64B35" />
<circle cx="581.78" cy="197.98" r="2.5" fill="#E64B35" />
<circle cx="586.83" cy="225.50" r="2.5" fill="#E64B35" />
<circle cx="582.34" cy="197.49" r="2.5" fill="#E64B35" />
<circle cx="588.41" cy="207.19" r="2.5" fill="#E64B35" />
<circle cx="584.39" cy="213.77" r="2.5" fill="#E64B35" />
<circle cx="590.52" cy="217.43" r="2.5" fill="#E64B35" />
<circle cx="584.67" cy="208.91" r="2.5" fill="#E64B35" />
<circle cx="589.72" cy="219.18" r="2.5" fill="#E64B35" />
<circle cx="586.39" cy="201.57" r="2.5" fill="#E64B35" />
<circle cx="588.67" cy="196.49" r="2.5" fill="#E64B35" />
<circle cx="584.79" cy="199.03" r="2.5" fill="#E64B35" />
<circle cx="582.73" cy="196.78" r="2.5" fill="#E64B35" />
<circle cx="582.62" cy="223.24" r="2.5" fill="#E64B35" />
<circle cx="580.91" cy="207.54" r="2.5" fill="#E64B35" />
<circle cx="581.01" cy="193.08" r="2.5" fill="#E64B35" />
<circle cx="584.01" cy="204.89" r="2.5" fill="#E64B35" />
<circle cx="589.56" cy="206.57" r="2.5" fill="#E64B35" />
<circle cx="589.67" cy="231.31" r="2.5" fill="#E64B35" />
<circle cx="585.58" cy="210.16" r="2.5" fill="#E64B35" />
<circle cx="589.24" cy="227.71" r="2.5" fill="#E64B35" />
<circle cx="590.55" cy="200.42" r="2.5" fill="#E64B35" />
<circle cx="583.89" cy="213.78" r="2.5" fill="#E64B35" />
<circle cx="585.87" cy="204.86" r="2.5" fill="#E64B35" />
<circle cx="581.96" cy="207.19" r="2.5" fill="#E64B35" />
<circle cx="589.40" cy="206.81" r="2.5" fill="#E64B35" />
<circle cx="542.56" cy="208.22" r="2.5" fill="#1FB3D3" />
<circle cx="519.20" cy="182.06" r="2.5" fill="#1FB3D3" />
<circle cx="539.97" cy="219.52" r="2.5" fill="#1FB3D3" />
<circle cx="517.91" cy="226.82" r="2.5" fill="#1FB3D3" />
<circle cx="518.15" cy="196.15" r="2.5" fill="#1FB3D3" />
<circle cx="534.28" cy="218.10" r="2.5" fill="#1FB3D3" />
<circle cx="542.43" cy="176.88" r="2.5" fill="#1FB3D3" />
<circle cx="522.36" cy="183.02" r="2.5" fill="#1FB3D3" />
<circle cx="516.72" cy="210.73" r="2.5" fill="#1FB3D3" />
<circle cx="518.82" cy="197.67" r="2.5" fill="#1FB3D3" />
<circle cx="536.10" cy="216.30" r="2.5" fill="#1FB3D3" />
<circle cx="531.55" cy="211.79" r="2.5" fill="#1FB3D3" />
<circle cx="535.17" cy="187.80" r="2.5" fill="#1FB3D3" />
<circle cx="521.45" cy="225.80" r="2.5" fill="#1FB3D3" />
<circle cx="522.49" cy="223.04" r="2.5" fill="#1FB3D3" />
<circle cx="516.00" cy="192.12" r="2.5" fill="#1FB3D3" />
<circle cx="535.90" cy="187.78" r="2.5" fill="#1FB3D3" />
<circle cx="546.29" cy="208.47" r="2.5" fill="#1FB3D3" />
<circle cx="542.50" cy="210.69" r="2.5" fill="#1FB3D3" />
<circle cx="541.73" cy="182.79" r="2.5" fill="#1FB3D3" />
<circle cx="525.89" cy="188.58" r="2.5" fill="#1FB3D3" />
<circle cx="526.49" cy="182.10" r="2.5" fill="#1FB3D3" />
<circle cx="518.66" cy="202.35" r="2.5" fill="#1FB3D3" />
<circle cx="544.77" cy="209.30" r="2.5" fill="#1FB3D3" />
<circle cx="534.99" cy="223.20" r="2.5" fill="#1FB3D3" />
<circle cx="532.89" cy="205.50" r="2.5" fill="#1FB3D3" />
<circle cx="533.49" cy="203.25" r="2.5" fill="#1FB3D3" />
<circle cx="519.47" cy="180.79" r="2.5" fill="#1FB3D3" />
<circle cx="541.63" cy="200.26" r="2.5" fill="#1FB3D3" />
<circle cx="539.87" cy="178.52" r="2.5" fill="#1FB3D3" />
<circle cx="530.32" cy="223.54" r="2.5" fill="#1FB3D3" />
<circle cx="514.66" cy="226.30" r="2.5" fill="#1FB3D3" />
<circle cx="525.51" cy="202.63" r="2.5" fill="#1FB3D3" />
<circle cx="534.39" cy="206.57" r="2.5" fill="#1FB3D3" />
<circle cx="524.51" cy="224.59" r="2.5" fill="#1FB3D3" />
<circle cx="523.79" cy="176.00" r="2.5" fill="#1FB3D3" />
<circle cx="514.78" cy="226.52" r="2.5" fill="#1FB3D3" />
<circle cx="521.93" cy="193.67" r="2.5" fill="#1FB3D3" />
<circle cx="533.14" cy="202.69" r="2.5" fill="#1FB3D3" />
<circle cx="525.39" cy="213.36" r="2.5" fill="#1FB3D3" />
<circle cx="532.80" cy="181.43" r="2.5" fill="#1FB3D3" />
<circle cx="536.85" cy="212.28" r="2.5" fill="#1FB3D3" />
<circle cx="538.14" cy="212.49" r="2.5" fill="#1FB3D3" />
<circle cx="514.99" cy="178.92" r="2.5" fill="#1FB3D3" />
<circle cx="542.52" cy="188.58" r="2.5" fill="#1FB3D3" />
<circle cx="506.39" cy="187.56" r="2.5" fill="#00A087" />
<circle cx="508.65" cy="178.34" r="2.5" fill="#00A087" />
<circle cx="509.20" cy="187.80" r="2.5" fill="#00A087" />
<circle cx="511.93" cy="183.13" r="2.5" fill="#00A087" />
<circle cx="511.10" cy="180.52" r="2.5" fill="#00A087" />
<circle cx="510.24" cy="184.82" r="2.5" fill="#00A087" />
<circle cx="510.35" cy="172.92" r="2.5" fill="#00A087" />
<circle cx="509.08" cy="181.48" r="2.5" fill="#00A087" />
<circle cx="510.39" cy="186.98" r="2.5" fill="#00A087" />
<circle cx="511.09" cy="178.81" r="2.5" fill="#00A087" />
<circle cx="509.17" cy="184.57" r="2.5" fill="#00A087" />
<circle cx="510.93" cy="177.89" r="2.5" fill="#00A087" />
<circle cx="508.65" cy="181.88" r="2.5" fill="#00A087" />
<circle cx="509.27" cy="182.79" r="2.5" fill="#00A087" />
<circle cx="511.55" cy="178.79" r="2.5" fill="#00A087" />
<circle cx="509.80" cy="175.33" r="2.5" fill="#00A087" />
<circle cx="511.29" cy="183.27" r="2.5" fill="#00A087" />
<circle cx="509.97" cy="177.53" r="2.5" fill="#00A087" />
<circle cx="506.70" cy="176.12" r="2.5" fill="#00A087" />
<circle cx="507.80" cy="184.38" r="2.5" fill="#00A087" />
<circle cx="509.79" cy="185.74" r="2.5" fill="#00A087" />
<circle cx="512.03" cy="176.42" r="2.5" fill="#00A087" />
<circle cx="506.99" cy="209.15" r="2.5" fill="#00A087" />
<circle cx="508.53" cy="210.70" r="2.5" fill="#00A087" />
<circle cx="508.63" cy="201.99" r="2.5" fill="#00A087" />
<circle cx="511.42" cy="209.45" r="2.5" fill="#00A087" />
<circle cx="510.60" cy="208.87" r="2.5" fill="#00A087" />
<circle cx="511.46" cy="211.35" r="2.5" fill="#00A087" />
<circle cx="506.51" cy="199.80" r="2.5" fill="#00A087" />
<circle cx="506.36" cy="209.43" r="2.5" fill="#00A087" />
<circle cx="508.93" cy="208.94" r="2.5" fill="#00A087" />
<circle cx="506.68" cy="201.23" r="2.5" fill="#00A087" />
<circle cx="506.43" cy="166.10" r="2.5" fill="#00A087" />
<circle cx="502.98" cy="181.09" r="2.5" fill="#3C5488" />
<circle cx="503.49" cy="173.55" r="2.5" fill="#3C5488" />
<circle cx="503.41" cy="191.57" r="2.5" fill="#3C5488" />
<circle cx="503.52" cy="182.35" r="2.5" fill="#3C5488" />
<circle cx="503.96" cy="180.92" r="2.5" fill="#3C5488" />
<circle cx="502.97" cy="189.10" r="2.5" fill="#3C5488" />
<circle cx="502.77" cy="190.16" r="2.5" fill="#3C5488" />
<circle cx="504.14" cy="182.96" r="2.5" fill="#3C5488" />
<circle cx="503.44" cy="172.79" r="2.5" fill="#3C5488" />
<circle cx="502.78" cy="187.69" r="2.5" fill="#3C5488" />
<circle cx="503.84" cy="184.53" r="2.5" fill="#3C5488" />
<circle cx="502.71" cy="186.68" r="2.5" fill="#3C5488" />
<circle cx="504.34" cy="189.79" r="2.5" fill="#3C5488" />
<circle cx="503.72" cy="180.80" r="2.5" fill="#3C5488" />
<circle cx="503.26" cy="174.64" r="2.5" fill="#3C5488" />
<circle cx="505.25" cy="228.76" r="2.5" fill="#3C5488" />
<path d="M501.56,181.74 L505.98,183.66 L510.41,185.52 L514.83,187.31 L519.25,189.04 L523.68,190.70 L528.10,192.30 L532.53,193.84 L536.95,195.31 L541.37,196.72 L545.80,198.06 L550.22,199.34 L554.64,200.56 L559.07,201.71 L563.49,202.80 L567.91,203.83 L572.34,204.79 L576.76,205.68 L581.18,206.51 L585.61,207.28 L590.03,207.99 L590.03,217.99 L585.61,216.07 L581.18,214.21 L576.76,212.42 L572.34,210.69 L567.91,209.03 L563.49,207.43 L559.07,205.89 L554.64,204.42 L550.22,203.01 L545.80,201.66 L541.37,200.38 L536.95,199.17 L532.53,198.01 L528.10,196.93 L523.68,195.90 L519.25,194.94 L514.83,194.05 L510.41,193.21 L505.98,192.45 L501.56,191.74Z" fill="rgba(165,165,165,0.55)" />
<line x1="501.56" y1="186.74" x2="590.03" y2="212.99" stroke="#000" stroke-width="2.6" />
</g>
<rect x="496.60" y="160.50" width="98.40" height="79.80" fill="none" stroke="#4d4d4d" stroke-width="0.9" />
<rect x="496.60" y="139.40" width="98.40" height="21.10" fill="#D9D9D9" stroke="#4d4d4d" stroke-width="0.9" />
<text transform="matrix(1,0,0,1.001,0,-0.148)" stroke="#1a1a1a" x="545.80" y="147.75" font-size="8.9" text-anchor="middle" fill="#1a1a1a"><tspan font-style="italic">DDB1</tspan>: R<tspan font-size="5.5" dy="1.5">s</tspan><tspan dy="-1.5"> = 0.92</tspan></text>
<text transform="matrix(1,0,0,1.001,0,-0.157)" stroke="#1a1a1a" x="545.80" y="156.65" font-size="8.9" text-anchor="middle" fill="#1a1a1a">P<tspan font-size="5.5" dy="1.5">r</tspan><tspan dy="-1.5"> = 68/120 = 0.81</tspan></text>
<text stroke="#1a1a1a" transform="matrix(1,0,0,1.001,0,-0.174)" x="545.03" y="173.90" font-size="9.3" font-style="italic">R</text>
<text stroke="#1a1a1a" transform="matrix(1,0,0,1.001,0,-0.174)" x="554.33" y="173.90" font-size="9.3">=</text>
<line x1="562.33" y1="170.70" x2="566.13" y2="170.70" stroke="#1a1a1a" stroke-width="0.9" />
<text stroke="#1a1a1a" transform="matrix(1,0,0,1.001,0,-0.174)" x="568.43" y="173.90" font-size="9.3" textLength="17.1" lengthAdjust="spacingAndGlyphs">0.56</text>
<line x1="518.70" y1="240.30" x2="518.70" y2="242.90" stroke="#333" stroke-width="1.0" />
<text x="518.70" y="252.10" font-size="8.9" text-anchor="middle" fill="#383838" stroke="#383838" transform="matrix(1,0,0,1.001,0,-0.252)" >0.25</text>
<line x1="542.80" y1="240.30" x2="542.80" y2="242.90" stroke="#333" stroke-width="1.0" />
<text x="542.80" y="252.10" font-size="8.9" text-anchor="middle" fill="#383838" stroke="#383838" transform="matrix(1,0,0,1.001,0,-0.252)" >0.50</text>
<line x1="566.90" y1="240.30" x2="566.90" y2="242.90" stroke="#333" stroke-width="1.0" />
<text x="566.90" y="252.10" font-size="8.9" text-anchor="middle" fill="#383838" stroke="#383838" transform="matrix(1,0,0,1.001,0,-0.252)" >0.75</text>
<line x1="591.00" y1="240.30" x2="591.00" y2="242.90" stroke="#333" stroke-width="1.0" />
<text x="591.00" y="252.10" font-size="8.9" text-anchor="middle" fill="#383838" stroke="#383838" transform="matrix(1,0,0,1.001,0,-0.252)" >1.00</text>
<text x="9.80" y="290.40" font-size="18" font-weight="bold" fill="#000" stroke="#000" transform="matrix(1,0,0,1.001,0,-0.290)" >b</text>
<text stroke="#1a1a1a" x="328.50" y="285.80" font-size="13.5" text-anchor="middle" transform="matrix(1,0,0,1.08,0,-22.864)" >TIGER Scores Correlate with qPCR RNA Knockdown Measurements</text>
<text stroke="#1a1a1a" x="51.50" y="368.00" font-size="11.2" text-anchor="middle" transform="matrix(1.001,0,0,1,-0.051,0) rotate(-90 51.50 368.00)" >Observed qPCR RNA KD</text>
<text stroke="#1a1a1a" x="62.50" y="368.00" font-size="11.2" text-anchor="middle" transform="matrix(1.001,0,0,1,-0.062,0) rotate(-90 62.50 368.00)" >Rel. to Control</text>
<text stroke="#1a1a1a" x="313.00" y="465.80" font-size="11.2" text-anchor="middle" transform="matrix(1,0,0,1.001,0,-0.466)" >Model Predictions</text>
<rect x="90.00" y="310.40" width="142.40" height="132.60" fill="#fff" />
<line x1="112.42" y1="310.40" x2="112.42" y2="443.00" stroke="#F5F5F5" stroke-width="0.5" />
<line x1="144.68" y1="310.40" x2="144.68" y2="443.00" stroke="#F5F5F5" stroke-width="0.5" />
<line x1="176.93" y1="310.40" x2="176.93" y2="443.00" stroke="#F5F5F5" stroke-width="0.5" />
<line x1="209.18" y1="310.40" x2="209.18" y2="443.00" stroke="#F5F5F5" stroke-width="0.5" />
<line x1="90.00" y1="425.00" x2="232.40" y2="425.00" stroke="#F5F5F5" stroke-width="0.5" />
<line x1="90.00" y1="399.80" x2="232.40" y2="399.80" stroke="#F5F5F5" stroke-width="0.5" />
<line x1="90.00" y1="374.60" x2="232.40" y2="374.60" stroke="#F5F5F5" stroke-width="0.5" />
<line x1="90.00" y1="349.40" x2="232.40" y2="349.40" stroke="#F5F5F5" stroke-width="0.5" />
<line x1="90.00" y1="324.20" x2="232.40" y2="324.20" stroke="#F5F5F5" stroke-width="0.5" />
<line x1="96.30" y1="310.40" x2="96.30" y2="443.00" stroke="#EBEBEB" stroke-width="0.8" />
<line x1="128.55" y1="310.40" x2="128.55" y2="443.00" stroke="#EBEBEB" stroke-width="0.8" />
<line x1="160.80" y1="310.40" x2="160.80" y2="443.00" stroke="#EBEBEB" stroke-width="0.8" />
<line x1="193.05" y1="310.40" x2="193.05" y2="443.00" stroke="#EBEBEB" stroke-width="0.8" />
<line x1="225.30" y1="310.40" x2="225.30" y2="443.00" stroke="#EBEBEB" stroke-width="0.8" />
<line x1="90.00" y1="437.60" x2="232.40" y2="437.60" stroke="#EBEBEB" stroke-width="0.8" />
<line x1="90.00" y1="412.40" x2="232.40" y2="412.40" stroke="#EBEBEB" stroke-width="0.8" />
<line x1="90.00" y1="387.20" x2="232.40" y2="387.20" stroke="#EBEBEB" stroke-width="0.8" />
<line x1="90.00" y1="362.00" x2="232.40" y2="362.00" stroke="#EBEBEB" stroke-width="0.8" />
<line x1="90.00" y1="336.80" x2="232.40" y2="336.80" stroke="#EBEBEB" stroke-width="0.8" />
<line x1="90.00" y1="311.60" x2="232.40" y2="311.60" stroke="#EBEBEB" stroke-width="0.8" />
<line x1="121.70" y1="310.40" x2="121.70" y2="443.00" stroke="#555" stroke-width="1.1" stroke-dasharray="4.8,4.8"/>
<path d="M108.00,340.60 L111.89,343.43 L115.79,346.26 L119.68,349.07 L123.57,351.86 L127.47,354.65 L131.36,357.41 L135.25,360.14 L139.15,362.85 L143.04,365.53 L146.93,368.16 L150.83,370.73 L154.72,373.25 L158.61,375.70 L162.51,378.07 L166.40,380.35 L170.29,382.55 L174.19,384.68 L178.08,386.74 L181.97,388.75 L185.87,390.70 L189.76,392.60 L193.65,394.46 L197.55,396.29 L201.44,398.09 L205.33,399.87 L209.23,401.62 L213.12,403.36 L217.01,405.09 L220.91,406.80 L224.80,408.50 L224.80,429.50 L220.91,426.75 L217.01,424.02 L213.12,421.30 L209.23,418.59 L205.33,415.90 L201.44,413.23 L197.55,410.58 L193.65,407.96 L189.76,405.38 L185.87,402.84 L181.97,400.34 L178.08,397.90 L174.19,395.52 L170.29,393.20 L166.40,390.95 L162.51,388.79 L158.61,386.71 L154.72,384.71 L150.83,382.78 L146.93,380.91 L143.04,379.09 L139.15,377.32 L135.25,375.58 L131.36,373.87 L127.47,372.19 L123.57,370.52 L119.68,368.87 L115.79,367.24 L111.89,365.61 L108.00,364.00Z" fill="#C4C4C4" />
<line x1="108.00" y1="352.30" x2="224.80" y2="419.00" stroke="#1a1a1a" stroke-width="1.0" />
<circle cx="110.10" cy="330.30" r="2.1" fill="#E64B35" />
<circle cx="117.10" cy="335.00" r="2.1" fill="#E64B35" />
<circle cx="108.60" cy="341.30" r="2.1" fill="#E64B35" />
<circle cx="163.00" cy="379.00" r="2.1" fill="#E64B35" />
<circle cx="188.00" cy="381.50" r="2.1" fill="#E64B35" />
<circle cx="190.50" cy="412.00" r="2.1" fill="#E64B35" />
<circle cx="195.40" cy="415.00" r="2.1" fill="#E64B35" />
<circle cx="220.60" cy="401.00" r="2.1" fill="#E64B35" />
<circle cx="222.30" cy="404.20" r="2.1" fill="#E64B35" />
<circle cx="223.00" cy="411.60" r="2.1" fill="#E64B35" />
<circle cx="218.50" cy="419.00" r="2.1" fill="#E64B35" />
<circle cx="225.00" cy="419.00" r="2.1" fill="#E64B35" />
<circle cx="108.00" cy="336.90" r="2.1" fill="#3C5488" />
<circle cx="110.10" cy="347.50" r="2.1" fill="#3C5488" />
<circle cx="111.20" cy="353.80" r="2.1" fill="#3C5488" />
<circle cx="110.10" cy="359.50" r="2.1" fill="#3C5488" />
<circle cx="169.00" cy="376.30" r="2.1" fill="#3C5488" />
<circle cx="136.00" cy="388.70" r="2.1" fill="#3C5488" />
<circle cx="164.00" cy="394.70" r="2.1" fill="#3C5488" />
<circle cx="158.80" cy="415.40" r="2.1" fill="#3C5488" />
<circle cx="172.10" cy="417.50" r="2.1" fill="#3C5488" />
<circle cx="224.00" cy="401.70" r="2.1" fill="#3C5488" />
<circle cx="224.80" cy="411.60" r="2.1" fill="#3C5488" />
<circle cx="218.90" cy="420.30" r="2.1" fill="#3C5488" />
<circle cx="172.60" cy="401.70" r="2.1" fill="#00A087" />
<circle cx="154.80" cy="412.70" r="2.1" fill="#00A087" />
<circle cx="199.70" cy="409.50" r="2.1" fill="#00A087" />
<circle cx="205.00" cy="410.50" r="2.1" fill="#00A087" />
<circle cx="200.50" cy="424.70" r="2.1" fill="#00A087" />
<circle cx="115.60" cy="352.10" r="2.1" fill="#1FB3D3" />
<circle cx="208.10" cy="398.90" r="2.1" fill="#1FB3D3" />
<circle cx="224.80" cy="409.50" r="2.1" fill="#1FB3D3" />
<circle cx="224.80" cy="420.70" r="2.1" fill="#1FB3D3" />
<rect x="90.00" y="310.40" width="142.40" height="132.60" fill="none" stroke="#B3B3B3" stroke-width="0.9" />
<rect x="90.00" y="293.80" width="142.40" height="16.60" fill="#D3D3D3" stroke="#A8A8A8" stroke-width="0.8" />
<line x1="90.00" y1="310.40" x2="232.40" y2="310.40" stroke="#7a7a7a" stroke-width="0.9" />
<text stroke="#1a1a1a" x="161.20" y="306.00" font-size="11.2" text-anchor="middle" transform="matrix(1,0,0,1.001,0,-0.306)" >TIGER: Wessels et al. (2023)</text>
<text stroke="#1a1a1a" transform="matrix(1,0,0,1.001,0,-0.323)" x="221.80" y="323.1" font-size="9.2" text-anchor="end"><tspan font-style="italic">R</tspan> = −0.86</text>
<line x1="96.30" y1="443.00" x2="96.30" y2="445.60" stroke="#333" stroke-width="1.0" />
<text x="96.30" y="454.50" font-size="8.9" text-anchor="middle" fill="#383838" stroke="#383838" transform="matrix(1,0,0,1.001,0,-0.454)" >0</text>
<line x1="128.55" y1="443.00" x2="128.55" y2="445.60" stroke="#333" stroke-width="1.0" />
<text x="128.55" y="454.50" font-size="8.9" text-anchor="middle" fill="#383838" stroke="#383838" transform="matrix(1,0,0,1.001,0,-0.454)" >0.25</text>
<line x1="160.80" y1="443.00" x2="160.80" y2="445.60" stroke="#333" stroke-width="1.0" />
<text x="160.80" y="454.50" font-size="8.9" text-anchor="middle" fill="#383838" stroke="#383838" transform="matrix(1,0,0,1.001,0,-0.454)" >0.50</text>
<line x1="193.05" y1="443.00" x2="193.05" y2="445.60" stroke="#333" stroke-width="1.0" />
<text x="193.05" y="454.50" font-size="8.9" text-anchor="middle" fill="#383838" stroke="#383838" transform="matrix(1,0,0,1.001,0,-0.454)" >0.75</text>
<line x1="225.30" y1="443.00" x2="225.30" y2="445.60" stroke="#333" stroke-width="1.0" />
<text x="225.30" y="454.50" font-size="8.9" text-anchor="middle" fill="#383838" stroke="#383838" transform="matrix(1,0,0,1.001,0,-0.454)" >1.00</text>
<line x1="87.40" y1="437.60" x2="90.00" y2="437.60" stroke="#333" stroke-width="1.0" />
<text x="85.40" y="440.80" font-size="8.9" text-anchor="end" fill="#383838" stroke="#383838" transform="matrix(1,0,0,1.001,0,-0.441)" >0.00</text>
<line x1="87.40" y1="412.40" x2="90.00" y2="412.40" stroke="#333" stroke-width="1.0" />
<text x="85.40" y="415.60" font-size="8.9" text-anchor="end" fill="#383838" stroke="#383838" transform="matrix(1,0,0,1.001,0,-0.416)" >0.25</text>
<line x1="87.40" y1="387.20" x2="90.00" y2="387.20" stroke="#333" stroke-width="1.0" />
<text x="85.40" y="390.40" font-size="8.9" text-anchor="end" fill="#383838" stroke="#383838" transform="matrix(1,0,0,1.001,0,-0.390)" >0.50</text>
<line x1="87.40" y1="362.00" x2="90.00" y2="362.00" stroke="#333" stroke-width="1.0" />
<text x="85.40" y="365.20" font-size="8.9" text-anchor="end" fill="#383838" stroke="#383838" transform="matrix(1,0,0,1.001,0,-0.365)" >0.75</text>
<line x1="87.40" y1="336.80" x2="90.00" y2="336.80" stroke="#333" stroke-width="1.0" />
<text x="85.40" y="340.00" font-size="8.9" text-anchor="end" fill="#383838" stroke="#383838" transform="matrix(1,0,0,1.001,0,-0.340)" >1.00</text>
<line x1="87.40" y1="311.60" x2="90.00" y2="311.60" stroke="#333" stroke-width="1.0" />
<text x="85.40" y="314.80" font-size="8.9" text-anchor="end" fill="#383838" stroke="#383838" transform="matrix(1,0,0,1.001,0,-0.315)" >1.25</text>
<rect x="236.40" y="310.40" width="143.60" height="132.60" fill="#fff" />
<line x1="258.83" y1="310.40" x2="258.83" y2="443.00" stroke="#F5F5F5" stroke-width="0.5" />
<line x1="291.08" y1="310.40" x2="291.08" y2="443.00" stroke="#F5F5F5" stroke-width="0.5" />
<line x1="323.33" y1="310.40" x2="323.33" y2="443.00" stroke="#F5F5F5" stroke-width="0.5" />
<line x1="355.58" y1="310.40" x2="355.58" y2="443.00" stroke="#F5F5F5" stroke-width="0.5" />
<line x1="236.40" y1="425.00" x2="380.00" y2="425.00" stroke="#F5F5F5" stroke-width="0.5" />
<line x1="236.40" y1="399.80" x2="380.00" y2="399.80" stroke="#F5F5F5" stroke-width="0.5" />
<line x1="236.40" y1="374.60" x2="380.00" y2="374.60" stroke="#F5F5F5" stroke-width="0.5" />
<line x1="236.40" y1="349.40" x2="380.00" y2="349.40" stroke="#F5F5F5" stroke-width="0.5" />
<line x1="236.40" y1="324.20" x2="380.00" y2="324.20" stroke="#F5F5F5" stroke-width="0.5" />
<line x1="242.70" y1="310.40" x2="242.70" y2="443.00" stroke="#EBEBEB" stroke-width="0.8" />
<line x1="274.95" y1="310.40" x2="274.95" y2="443.00" stroke="#EBEBEB" stroke-width="0.8" />
<line x1="307.20" y1="310.40" x2="307.20" y2="443.00" stroke="#EBEBEB" stroke-width="0.8" />
<line x1="339.45" y1="310.40" x2="339.45" y2="443.00" stroke="#EBEBEB" stroke-width="0.8" />
<line x1="371.70" y1="310.40" x2="371.70" y2="443.00" stroke="#EBEBEB" stroke-width="0.8" />
<line x1="236.40" y1="437.60" x2="380.00" y2="437.60" stroke="#EBEBEB" stroke-width="0.8" />
<line x1="236.40" y1="412.40" x2="380.00" y2="412.40" stroke="#EBEBEB" stroke-width="0.8" />
<line x1="236.40" y1="387.20" x2="380.00" y2="387.20" stroke="#EBEBEB" stroke-width="0.8" />
<line x1="236.40" y1="362.00" x2="380.00" y2="362.00" stroke="#EBEBEB" stroke-width="0.8" />
<line x1="236.40" y1="336.80" x2="380.00" y2="336.80" stroke="#EBEBEB" stroke-width="0.8" />
<line x1="236.40" y1="311.60" x2="380.00" y2="311.60" stroke="#EBEBEB" stroke-width="0.8" />
<path d="M242.80,352.35 L246.75,354.82 L250.70,357.28 L254.65,359.71 L258.60,362.13 L262.55,364.51 L266.50,366.87 L270.45,369.20 L274.40,371.49 L278.35,373.74 L282.30,375.94 L286.25,378.10 L290.20,380.20 L294.15,382.24 L298.10,384.22 L302.05,386.14 L306.00,387.98 L309.95,389.75 L313.90,391.45 L317.85,393.10 L321.80,394.69 L325.75,396.24 L329.70,397.75 L333.65,399.22 L337.60,400.66 L341.55,402.08 L345.50,403.48 L349.45,404.86 L353.40,406.22 L357.35,407.57 L361.30,408.90 L361.30,437.50 L357.35,434.89 L353.40,432.29 L349.45,429.71 L345.50,427.14 L341.55,424.59 L337.60,422.06 L333.65,419.56 L329.70,417.08 L325.75,414.64 L321.80,412.25 L317.85,409.89 L313.90,407.59 L309.95,405.35 L306.00,403.17 L302.05,401.06 L298.10,399.03 L294.15,397.07 L290.20,395.17 L286.25,393.32 L282.30,391.53 L278.35,389.78 L274.40,388.08 L270.45,386.43 L266.50,384.81 L262.55,383.22 L258.60,381.66 L254.65,380.13 L250.70,378.62 L246.75,377.12 L242.80,375.65Z" fill="#C4C4C4" />
<line x1="242.80" y1="364.00" x2="367.70" y2="426.40" stroke="#1a1a1a" stroke-width="1.0" />
<circle cx="242.80" cy="330.30" r="2.1" fill="#E64B35" />
<circle cx="244.50" cy="341.30" r="2.1" fill="#E64B35" />
<circle cx="275.40" cy="335.00" r="2.1" fill="#E64B35" />
<circle cx="246.60" cy="381.50" r="2.1" fill="#E64B35" />
<circle cx="297.40" cy="379.00" r="2.1" fill="#E64B35" />
<circle cx="256.70" cy="404.40" r="2.1" fill="#E64B35" />
<circle cx="262.90" cy="401.20" r="2.1" fill="#E64B35" />
<circle cx="266.30" cy="411.60" r="2.1" fill="#E64B35" />
<circle cx="305.90" cy="412.00" r="2.1" fill="#E64B35" />
<circle cx="350.30" cy="415.00" r="2.1" fill="#E64B35" />
<circle cx="366.00" cy="419.00" r="2.1" fill="#E64B35" />
<circle cx="367.70" cy="420.00" r="2.1" fill="#E64B35" />
<circle cx="242.80" cy="336.90" r="2.1" fill="#3C5488" />
<circle cx="242.80" cy="347.50" r="2.1" fill="#3C5488" />
<circle cx="247.60" cy="353.80" r="2.1" fill="#3C5488" />
<circle cx="243.40" cy="359.50" r="2.1" fill="#3C5488" />
<circle cx="308.80" cy="376.30" r="2.1" fill="#3C5488" />
<circle cx="279.00" cy="388.70" r="2.1" fill="#3C5488" />
<circle cx="295.70" cy="394.70" r="2.1" fill="#3C5488" />
<circle cx="306.50" cy="415.40" r="2.1" fill="#3C5488" />
<circle cx="340.80" cy="417.50" r="2.1" fill="#3C5488" />
<circle cx="360.30" cy="401.70" r="2.1" fill="#3C5488" />
<circle cx="366.20" cy="411.60" r="2.1" fill="#3C5488" />
<circle cx="363.40" cy="420.30" r="2.1" fill="#3C5488" />
<circle cx="286.80" cy="401.70" r="2.1" fill="#00A087" />
<circle cx="281.10" cy="412.70" r="2.1" fill="#00A087" />
<circle cx="296.30" cy="410.50" r="2.1" fill="#00A087" />
<circle cx="311.60" cy="409.50" r="2.1" fill="#00A087" />
<circle cx="316.70" cy="424.70" r="2.1" fill="#00A087" />
<circle cx="251.20" cy="352.10" r="2.1" fill="#1FB3D3" />
<circle cx="285.30" cy="399.10" r="2.1" fill="#1FB3D3" />
<circle cx="331.30" cy="409.50" r="2.1" fill="#1FB3D3" />
<circle cx="361.30" cy="420.70" r="2.1" fill="#1FB3D3" />
<rect x="236.40" y="310.40" width="143.60" height="132.60" fill="none" stroke="#B3B3B3" stroke-width="0.9" />
<rect x="236.40" y="293.80" width="143.60" height="16.60" fill="#D3D3D3" stroke="#A8A8A8" stroke-width="0.8" />
<line x1="236.40" y1="310.40" x2="380.00" y2="310.40" stroke="#7a7a7a" stroke-width="0.9" />
<text stroke="#1a1a1a" x="308.20" y="306.00" font-size="11.2" text-anchor="middle" transform="matrix(1,0,0,1.001,0,-0.306)" >Wei et al. (2023)</text>
<text stroke="#1a1a1a" transform="matrix(1,0,0,1.001,0,-0.323)" x="369.40" y="323.1" font-size="9.2" text-anchor="end"><tspan font-style="italic">R</tspan> = −0.74</text>
<line x1="242.70" y1="443.00" x2="242.70" y2="445.60" stroke="#333" stroke-width="1.0" />
<text x="242.70" y="454.50" font-size="8.9" text-anchor="middle" fill="#383838" stroke="#383838" transform="matrix(1,0,0,1.001,0,-0.454)" >0</text>
<line x1="274.95" y1="443.00" x2="274.95" y2="445.60" stroke="#333" stroke-width="1.0" />
<text x="274.95" y="454.50" font-size="8.9" text-anchor="middle" fill="#383838" stroke="#383838" transform="matrix(1,0,0,1.001,0,-0.454)" >0.25</text>
<line x1="307.20" y1="443.00" x2="307.20" y2="445.60" stroke="#333" stroke-width="1.0" />
<text x="307.20" y="454.50" font-size="8.9" text-anchor="middle" fill="#383838" stroke="#383838" transform="matrix(1,0,0,1.001,0,-0.454)" >0.50</text>
<line x1="339.45" y1="443.00" x2="339.45" y2="445.60" stroke="#333" stroke-width="1.0" />
<text x="339.45" y="454.50" font-size="8.9" text-anchor="middle" fill="#383838" stroke="#383838" transform="matrix(1,0,0,1.001,0,-0.454)" >0.75</text>
<line x1="371.70" y1="443.00" x2="371.70" y2="445.60" stroke="#333" stroke-width="1.0" />
<text x="371.70" y="454.50" font-size="8.9" text-anchor="middle" fill="#383838" stroke="#383838" transform="matrix(1,0,0,1.001,0,-0.454)" >1.00</text>
<rect x="383.50" y="310.40" width="142.50" height="132.60" fill="#fff" />
<line x1="405.93" y1="310.40" x2="405.93" y2="443.00" stroke="#F5F5F5" stroke-width="0.5" />
<line x1="438.18" y1="310.40" x2="438.18" y2="443.00" stroke="#F5F5F5" stroke-width="0.5" />
<line x1="470.43" y1="310.40" x2="470.43" y2="443.00" stroke="#F5F5F5" stroke-width="0.5" />
<line x1="502.68" y1="310.40" x2="502.68" y2="443.00" stroke="#F5F5F5" stroke-width="0.5" />
<line x1="383.50" y1="425.00" x2="526.00" y2="425.00" stroke="#F5F5F5" stroke-width="0.5" />
<line x1="383.50" y1="399.80" x2="526.00" y2="399.80" stroke="#F5F5F5" stroke-width="0.5" />
<line x1="383.50" y1="374.60" x2="526.00" y2="374.60" stroke="#F5F5F5" stroke-width="0.5" />
<line x1="383.50" y1="349.40" x2="526.00" y2="349.40" stroke="#F5F5F5" stroke-width="0.5" />
<line x1="383.50" y1="324.20" x2="526.00" y2="324.20" stroke="#F5F5F5" stroke-width="0.5" />
<line x1="389.80" y1="310.40" x2="389.80" y2="443.00" stroke="#EBEBEB" stroke-width="0.8" />
<line x1="422.05" y1="310.40" x2="422.05" y2="443.00" stroke="#EBEBEB" stroke-width="0.8" />
<line x1="454.30" y1="310.40" x2="454.30" y2="443.00" stroke="#EBEBEB" stroke-width="0.8" />
<line x1="486.55" y1="310.40" x2="486.55" y2="443.00" stroke="#EBEBEB" stroke-width="0.8" />
<line x1="518.80" y1="310.40" x2="518.80" y2="443.00" stroke="#EBEBEB" stroke-width="0.8" />
<line x1="383.50" y1="437.60" x2="526.00" y2="437.60" stroke="#EBEBEB" stroke-width="0.8" />
<line x1="383.50" y1="412.40" x2="526.00" y2="412.40" stroke="#EBEBEB" stroke-width="0.8" />
<line x1="383.50" y1="387.20" x2="526.00" y2="387.20" stroke="#EBEBEB" stroke-width="0.8" />
<line x1="383.50" y1="362.00" x2="526.00" y2="362.00" stroke="#EBEBEB" stroke-width="0.8" />
<line x1="383.50" y1="336.80" x2="526.00" y2="336.80" stroke="#EBEBEB" stroke-width="0.8" />
<line x1="383.50" y1="311.60" x2="526.00" y2="311.60" stroke="#EBEBEB" stroke-width="0.8" />
<path d="M409.50,354.55 L412.71,356.92 L415.92,359.27 L419.13,361.60 L422.34,363.90 L425.55,366.18 L428.76,368.42 L431.97,370.62 L435.18,372.77 L438.39,374.87 L441.60,376.92 L444.81,378.89 L448.02,380.80 L451.23,382.62 L454.44,384.36 L457.65,386.01 L460.86,387.55 L464.07,388.98 L467.28,390.32 L470.49,391.58 L473.70,392.76 L476.91,393.88 L480.12,394.95 L483.33,395.96 L486.54,396.94 L489.75,397.89 L492.96,398.81 L496.17,399.71 L499.38,400.58 L502.59,401.44 L505.80,402.29 L505.80,437.29 L502.59,434.77 L499.38,432.26 L496.17,429.77 L492.96,427.30 L489.75,424.85 L486.54,422.44 L483.33,420.05 L480.12,417.70 L476.91,415.40 L473.70,413.15 L470.49,410.97 L467.28,408.86 L464.07,406.84 L460.86,404.91 L457.65,403.08 L454.44,401.36 L451.23,399.74 L448.02,398.19 L444.81,396.73 L441.60,395.34 L438.39,394.02 L435.18,392.75 L431.97,391.54 L428.76,390.38 L425.55,389.25 L422.34,388.16 L419.13,387.10 L415.92,386.06 L412.71,385.05 L409.50,384.05Z" fill="#C4C4C4" />
<line x1="409.50" y1="369.30" x2="512.50" y2="423.30" stroke="#1a1a1a" stroke-width="1.0" />
<circle cx="424.30" cy="330.30" r="2.1" fill="#E64B35" />
<circle cx="440.80" cy="335.00" r="2.1" fill="#E64B35" />
<circle cx="411.60" cy="341.30" r="2.1" fill="#E64B35" />
<circle cx="417.90" cy="381.50" r="2.1" fill="#E64B35" />
<circle cx="424.30" cy="379.20" r="2.1" fill="#E64B35" />
<circle cx="452.40" cy="401.20" r="2.1" fill="#E64B35" />
<circle cx="437.60" cy="404.40" r="2.1" fill="#E64B35" />
<circle cx="425.30" cy="411.60" r="2.1" fill="#E64B35" />
<circle cx="431.70" cy="412.00" r="2.1" fill="#E64B35" />
<circle cx="512.50" cy="415.00" r="2.1" fill="#E64B35" />
<circle cx="507.90" cy="419.00" r="2.1" fill="#E64B35" />
<circle cx="505.40" cy="420.00" r="2.1" fill="#E64B35" />
<circle cx="409.50" cy="336.90" r="2.1" fill="#3C5488" />
<circle cx="410.50" cy="347.50" r="2.1" fill="#3C5488" />
<circle cx="433.80" cy="353.80" r="2.1" fill="#3C5488" />
<circle cx="413.00" cy="359.50" r="2.1" fill="#3C5488" />
<circle cx="435.90" cy="376.30" r="2.1" fill="#3C5488" />
<circle cx="480.40" cy="388.70" r="2.1" fill="#3C5488" />
<circle cx="451.80" cy="394.70" r="2.1" fill="#3C5488" />
<circle cx="437.40" cy="401.70" r="2.1" fill="#3C5488" />
<circle cx="472.30" cy="411.60" r="2.1" fill="#3C5488" />
<circle cx="457.10" cy="415.40" r="2.1" fill="#3C5488" />
<circle cx="482.30" cy="417.50" r="2.1" fill="#3C5488" />
<circle cx="455.60" cy="420.30" r="2.1" fill="#3C5488" />
<circle cx="419.60" cy="401.70" r="2.1" fill="#00A087" />
<circle cx="434.00" cy="410.50" r="2.1" fill="#00A087" />
<circle cx="451.80" cy="412.70" r="2.1" fill="#00A087" />
<circle cx="470.40" cy="409.50" r="2.1" fill="#00A087" />
<circle cx="444.00" cy="424.70" r="2.1" fill="#00A087" />
<circle cx="468.70" cy="352.10" r="2.1" fill="#1FB3D3" />
<circle cx="508.30" cy="399.10" r="2.1" fill="#1FB3D3" />
<circle cx="503.70" cy="409.50" r="2.1" fill="#1FB3D3" />
<circle cx="477.60" cy="420.70" r="2.1" fill="#1FB3D3" />
<rect x="383.50" y="310.40" width="142.50" height="132.60" fill="none" stroke="#B3B3B3" stroke-width="0.9" />
<rect x="383.50" y="293.80" width="142.50" height="16.60" fill="#D3D3D3" stroke="#A8A8A8" stroke-width="0.8" />
<line x1="383.50" y1="310.40" x2="526.00" y2="310.40" stroke="#7a7a7a" stroke-width="0.9" />
<text stroke="#1a1a1a" x="454.75" y="306.00" font-size="11.2" text-anchor="middle" transform="matrix(1,0,0,1.001,0,-0.306)" >Cheng et al. (2023)</text>
<text stroke="#1a1a1a" transform="matrix(1,0,0,1.001,0,-0.323)" x="515.40" y="323.1" font-size="9.2" text-anchor="end"><tspan font-style="italic">R</tspan> = −0.56</text>
<line x1="389.80" y1="443.00" x2="389.80" y2="445.60" stroke="#333" stroke-width="1.0" />
<text x="389.80" y="454.50" font-size="8.9" text-anchor="middle" fill="#383838" stroke="#383838" transform="matrix(1,0,0,1.001,0,-0.454)" >0</text>
<line x1="422.05" y1="443.00" x2="422.05" y2="445.60" stroke="#333" stroke-width="1.0" />
<text x="422.05" y="454.50" font-size="8.9" text-anchor="middle" fill="#383838" stroke="#383838" transform="matrix(1,0,0,1.001,0,-0.454)" >0.25</text>
<line x1="454.30" y1="443.00" x2="454.30" y2="445.60" stroke="#333" stroke-width="1.0" />
<text x="454.30" y="454.50" font-size="8.9" text-anchor="middle" fill="#383838" stroke="#383838" transform="matrix(1,0,0,1.001,0,-0.454)" >0.50</text>
<line x1="486.55" y1="443.00" x2="486.55" y2="445.60" stroke="#333" stroke-width="1.0" />
<text x="486.55" y="454.50" font-size="8.9" text-anchor="middle" fill="#383838" stroke="#383838" transform="matrix(1,0,0,1.001,0,-0.454)" >0.75</text>
<line x1="518.80" y1="443.00" x2="518.80" y2="445.60" stroke="#333" stroke-width="1.0" />
<text x="518.80" y="454.50" font-size="8.9" text-anchor="middle" fill="#383838" stroke="#383838" transform="matrix(1,0,0,1.001,0,-0.454)" >1.00</text>
<text stroke="#1a1a1a" x="546.00" y="332.00" font-size="10.9" transform="matrix(1,0,0,1.001,0,-0.332)" >Tested gRNAs</text>
<circle cx="558.10" cy="350.60" r="2.35" fill="#E64B35" />
<text stroke="#1a1a1a" x="568.50" y="354.30" font-size="10.7" font-style="italic" transform="matrix(1,0,0,1.001,0,-0.354)" >COP1</text>
<circle cx="558.10" cy="369.70" r="2.35" fill="#3C5488" />
<text stroke="#1a1a1a" x="568.50" y="373.40" font-size="10.7" font-style="italic" transform="matrix(1,0,0,1.001,0,-0.373)" >SPAG9</text>
<circle cx="558.10" cy="388.80" r="2.35" fill="#00A087" />
<text stroke="#1a1a1a" x="568.50" y="392.50" font-size="10.7" font-style="italic" transform="matrix(1,0,0,1.001,0,-0.392)" >RBFOX2</text>
<circle cx="558.10" cy="407.90" r="2.35" fill="#1FB3D3" />
<text stroke="#1a1a1a" x="568.50" y="411.60" font-size="10.7" font-style="italic" transform="matrix(1,0,0,1.001,0,-0.412)" >MKNK2</text>
<text x="9.50" y="487.80" font-size="18" font-weight="bold" fill="#000" stroke="#000" transform="matrix(1,0,0,1.001,0,-0.488)" >c</text>
<text stroke="#1a1a1a" x="239.90" y="483.10" font-size="13.5" text-anchor="middle" transform="matrix(1,0,0,1.08,0,-38.648)" >TIGER Predictions for 1.8 million gRNAs Tiling Annotated EEJs</text>
<rect x="37.50" y="494.30" width="371.00" height="129.10" fill="#fff" />
<line x1="86.65" y1="494.30" x2="86.65" y2="623.40" stroke="#F5F5F5" stroke-width="0.5" />
<line x1="173.95" y1="494.30" x2="173.95" y2="623.40" stroke="#F5F5F5" stroke-width="0.5" />
<line x1="261.25" y1="494.30" x2="261.25" y2="623.40" stroke="#F5F5F5" stroke-width="0.5" />
<line x1="348.55" y1="494.30" x2="348.55" y2="623.40" stroke="#F5F5F5" stroke-width="0.5" />
<line x1="37.50" y1="603.00" x2="408.50" y2="603.00" stroke="#F5F5F5" stroke-width="0.5" />
<line x1="37.50" y1="573.60" x2="408.50" y2="573.60" stroke="#F5F5F5" stroke-width="0.5" />
<line x1="37.50" y1="544.20" x2="408.50" y2="544.20" stroke="#F5F5F5" stroke-width="0.5" />
<line x1="37.50" y1="514.80" x2="408.50" y2="514.80" stroke="#F5F5F5" stroke-width="0.5" />
<line x1="43.00" y1="494.30" x2="43.00" y2="623.40" stroke="#EBEBEB" stroke-width="0.8" />
<line x1="130.30" y1="494.30" x2="130.30" y2="623.40" stroke="#EBEBEB" stroke-width="0.8" />
<line x1="217.60" y1="494.30" x2="217.60" y2="623.40" stroke="#EBEBEB" stroke-width="0.8" />
<line x1="304.90" y1="494.30" x2="304.90" y2="623.40" stroke="#EBEBEB" stroke-width="0.8" />
<line x1="392.20" y1="494.30" x2="392.20" y2="623.40" stroke="#EBEBEB" stroke-width="0.8" />
<line x1="37.50" y1="617.70" x2="408.50" y2="617.70" stroke="#EBEBEB" stroke-width="0.8" />
<line x1="37.50" y1="588.30" x2="408.50" y2="588.30" stroke="#EBEBEB" stroke-width="0.8" />
<line x1="37.50" y1="558.90" x2="408.50" y2="558.90" stroke="#EBEBEB" stroke-width="0.8" />
<line x1="37.50" y1="529.50" x2="408.50" y2="529.50" stroke="#EBEBEB" stroke-width="0.8" />
<line x1="37.50" y1="500.10" x2="408.50" y2="500.10" stroke="#EBEBEB" stroke-width="0.8" />
<path d="M54.50,617.60 L59.00,616.50 L63.40,612.30 L66.00,607.00 L68.00,601.80 L70.00,593.00 L71.50,583.00 L73.30,569.00 L75.00,555.00 L76.80,541.00 L78.50,529.30 L80.00,523.20 L81.60,520.50 L83.30,521.80 L85.50,527.00 L87.80,537.00 L90.20,548.00 L92.50,558.00 L94.90,566.70 L97.70,574.50 L100.70,580.70 L104.00,585.80 L107.70,590.00 L113.10,594.70 L121.80,599.40 L133.40,603.40 L145.10,606.00 L156.80,607.80 L180.20,610.00 L200.00,611.00 L230.70,611.60 L261.30,612.00 L304.20,611.60 L334.90,610.00 L359.40,607.00 L374.70,603.00 L381.00,600.60 L385.00,599.90 L388.20,600.90 L390.50,603.50 L391.90,606.00 L391.9,617.7 L54.5,617.7Z" fill="#A3CCC1" stroke="#333" stroke-width="0.6" />
<line x1="112.84" y1="494.30" x2="112.84" y2="623.40" stroke="#8a8a8a" stroke-width="1.6" stroke-dasharray="4.8,4.2"/>
<line x1="74.60" y1="507.80" x2="74.60" y2="514.80" stroke="#3C5488" stroke-width="1.2" />
<line x1="76.90" y1="507.80" x2="76.90" y2="514.80" stroke="#E64B35" stroke-width="1.2" />
<line x1="79.90" y1="507.80" x2="79.90" y2="514.80" stroke="#3C5488" stroke-width="1.2" />
<line x1="82.50" y1="507.80" x2="82.50" y2="514.80" stroke="#3C5488" stroke-width="1.2" />
<line x1="95.60" y1="507.80" x2="95.60" y2="514.80" stroke="#1FB3D3" stroke-width="1.2" />
<line x1="99.40" y1="507.80" x2="99.40" y2="514.80" stroke="#E64B35" stroke-width="1.2" />
<line x1="150.20" y1="507.80" x2="150.20" y2="514.80" stroke="#3C5488" stroke-width="1.2" />
<line x1="201.00" y1="507.80" x2="201.00" y2="514.80" stroke="#00A087" stroke-width="1.2" />
<line x1="211.50" y1="507.80" x2="211.50" y2="514.80" stroke="#3C5488" stroke-width="1.2" />
<line x1="222.60" y1="507.80" x2="222.60" y2="514.80" stroke="#E64B35" stroke-width="1.2" />
<line x1="225.80" y1="507.80" x2="225.80" y2="514.80" stroke="#3C5488" stroke-width="1.2" />
<line x1="239.30" y1="507.80" x2="239.30" y2="514.80" stroke="#3C5488" stroke-width="1.2" />
<line x1="247.70" y1="507.80" x2="247.70" y2="514.80" stroke="#00A087" stroke-width="1.2" />
<line x1="248.60" y1="507.80" x2="248.60" y2="514.80" stroke="#00A087" stroke-width="1.2" />
<line x1="290.70" y1="507.80" x2="290.70" y2="514.80" stroke="#E64B35" stroke-width="1.2" />
<line x1="297.70" y1="507.80" x2="297.70" y2="514.80" stroke="#E64B35" stroke-width="1.2" />
<line x1="311.50" y1="507.80" x2="311.50" y2="514.80" stroke="#E64B35" stroke-width="1.2" />
<line x1="321.70" y1="507.80" x2="321.70" y2="514.80" stroke="#00A087" stroke-width="1.2" />
<line x1="324.60" y1="507.80" x2="324.60" y2="514.80" stroke="#00A087" stroke-width="1.2" />
<line x1="336.00" y1="507.80" x2="336.00" y2="514.80" stroke="#00A087" stroke-width="1.2" />
<line x1="345.20" y1="507.80" x2="345.20" y2="514.80" stroke="#1FB3D3" stroke-width="1.2" />
<line x1="373.60" y1="507.80" x2="373.60" y2="514.80" stroke="#3C5488" stroke-width="1.2" />
<line x1="378.70" y1="507.80" x2="378.70" y2="514.80" stroke="#E64B35" stroke-width="1.2" />
<line x1="383.30" y1="507.80" x2="383.30" y2="514.80" stroke="#E64B35" stroke-width="1.2" />
<line x1="385.20" y1="507.80" x2="385.20" y2="514.80" stroke="#E64B35" stroke-width="1.2" />
<line x1="387.00" y1="507.80" x2="387.00" y2="514.80" stroke="#3C5488" stroke-width="1.2" />
<line x1="388.10" y1="507.80" x2="388.10" y2="514.80" stroke="#3C5488" stroke-width="1.2" />
<line x1="389.20" y1="507.80" x2="389.20" y2="514.80" stroke="#1FB3D3" stroke-width="1.2" />
<line x1="390.50" y1="507.80" x2="390.50" y2="514.80" stroke="#1FB3D3" stroke-width="1.2" />
<text stroke="#1a1a1a" x="167.50" y="562.80" font-size="11.2" transform="matrix(1,0,0,1.001,0,-0.563)" >899,673 Predicted Active EEJ gRNAs</text>
<rect x="37.50" y="494.30" width="371.00" height="129.10" fill="none" stroke="#B3B3B3" stroke-width="0.9" />
<line x1="43.00" y1="623.40" x2="43.00" y2="626.00" stroke="#333" stroke-width="1.0" />
<text x="43.00" y="632.80" font-size="8.9" text-anchor="middle" fill="#383838" stroke="#383838" transform="matrix(1,0,0,1.001,0,-0.633)" >0.00</text>
<line x1="130.30" y1="623.40" x2="130.30" y2="626.00" stroke="#333" stroke-width="1.0" />
<text x="130.30" y="632.80" font-size="8.9" text-anchor="middle" fill="#383838" stroke="#383838" transform="matrix(1,0,0,1.001,0,-0.633)" >0.25</text>
<line x1="217.60" y1="623.40" x2="217.60" y2="626.00" stroke="#333" stroke-width="1.0" />
<text x="217.60" y="632.80" font-size="8.9" text-anchor="middle" fill="#383838" stroke="#383838" transform="matrix(1,0,0,1.001,0,-0.633)" >0.50</text>
<line x1="304.90" y1="623.40" x2="304.90" y2="626.00" stroke="#333" stroke-width="1.0" />
<text x="304.90" y="632.80" font-size="8.9" text-anchor="middle" fill="#383838" stroke="#383838" transform="matrix(1,0,0,1.001,0,-0.633)" >0.75</text>
<line x1="392.20" y1="623.40" x2="392.20" y2="626.00" stroke="#333" stroke-width="1.0" />
<text x="392.20" y="632.80" font-size="8.9" text-anchor="middle" fill="#383838" stroke="#383838" transform="matrix(1,0,0,1.001,0,-0.633)" >1.00</text>
<line x1="34.90" y1="617.70" x2="37.50" y2="617.70" stroke="#333" stroke-width="1.0" />
<text x="32.20" y="620.90" font-size="8.9" text-anchor="end" fill="#383838" stroke="#383838" transform="matrix(1,0,0,1.001,0,-0.621)" >0</text>
<line x1="34.90" y1="588.30" x2="37.50" y2="588.30" stroke="#333" stroke-width="1.0" />
<text x="32.20" y="591.50" font-size="8.9" text-anchor="end" fill="#383838" stroke="#383838" transform="matrix(1,0,0,1.001,0,-0.591)" >2</text>
<line x1="34.90" y1="558.90" x2="37.50" y2="558.90" stroke="#333" stroke-width="1.0" />
<text x="32.20" y="562.10" font-size="8.9" text-anchor="end" fill="#383838" stroke="#383838" transform="matrix(1,0,0,1.001,0,-0.562)" >4</text>
<line x1="34.90" y1="529.50" x2="37.50" y2="529.50" stroke="#333" stroke-width="1.0" />
<text x="32.20" y="532.70" font-size="8.9" text-anchor="end" fill="#383838" stroke="#383838" transform="matrix(1,0,0,1.001,0,-0.533)" >6</text>
<line x1="34.90" y1="500.10" x2="37.50" y2="500.10" stroke="#333" stroke-width="1.0" />
<text x="32.20" y="503.30" font-size="8.9" text-anchor="end" fill="#383838" stroke="#383838" transform="matrix(1,0,0,1.001,0,-0.503)" >8</text>
<text stroke="#1a1a1a" x="228.50" y="645.00" font-size="11.2" text-anchor="middle" transform="matrix(1,0,0,1.001,0,-0.645)" >TIGER Scores: All GENCODE Junction gRNAs</text>
<text stroke="#1a1a1a" x="19.40" y="556.80" font-size="11.2" text-anchor="middle" transform="matrix(1.001,0,0,1,-0.019,0) rotate(-90 19.40 556.80)" >Density</text>
<text stroke="#1a1a1a" x="455.50" y="519.60" font-size="10.9" text-anchor="middle" transform="matrix(1,0,0,1.001,0,-0.520)" >Tested gRNAs in</text>
<text stroke="#1a1a1a" x="455.50" y="530.50" font-size="10.9" text-anchor="middle" transform="matrix(1,0,0,1.001,0,-0.530)" >Panel B</text>
<line x1="424.30" y1="543.70" x2="434.70" y2="543.70" stroke="#E64B35" stroke-width="1.4" />
<text stroke="#1a1a1a" x="438.40" y="547.50" font-size="10.7" font-style="italic" transform="matrix(1,0,0,1.001,0,-0.547)" >COP1</text>
<line x1="424.30" y1="563.90" x2="434.70" y2="563.90" stroke="#3C5488" stroke-width="1.4" />
<text stroke="#1a1a1a" x="438.40" y="567.70" font-size="10.7" font-style="italic" transform="matrix(1,0,0,1.001,0,-0.568)" >SPAG9</text>
<line x1="424.30" y1="584.10" x2="434.70" y2="584.10" stroke="#00A087" stroke-width="1.4" />
<text stroke="#1a1a1a" x="438.40" y="587.90" font-size="10.7" font-style="italic" transform="matrix(1,0,0,1.001,0,-0.588)" >RBFOX2</text>
<line x1="424.30" y1="604.30" x2="434.70" y2="604.30" stroke="#1FB3D3" stroke-width="1.4" />
<text stroke="#1a1a1a" x="438.40" y="608.10" font-size="10.7" font-style="italic" transform="matrix(1,0,0,1.001,0,-0.608)" >MKNK2</text>
<text x="512.00" y="489.80" font-size="18" font-weight="bold" fill="#000" stroke="#000" transform="matrix(1,0,0,1.001,0,-0.490)" >d</text>
<rect x="560.00" y="469.20" width="16.00" height="15.80" fill="#A0C9BE" />
<rect x="560.00" y="490.50" width="16.00" height="16.10" fill="#784E8E" />
<text stroke="#1a1a1a" x="583.10" y="480.60" font-size="8.8" transform="matrix(1,0,0,1.001,0,-0.481)" >Total gRNAs</text>
<text stroke="#1a1a1a" x="615.20" y="497.70" font-size="8.8" text-anchor="middle" transform="matrix(1,0,0,1.001,0,-0.498)" >Predicted Active</text>
<text stroke="#1a1a1a" x="615.20" y="506.20" font-size="8.8" text-anchor="middle" transform="matrix(1,0,0,1.001,0,-0.506)" >gRNAs</text>
<rect x="550.40" y="529.80" width="112.80" height="96.40" fill="#fff" />
<line x1="550.40" y1="609.55" x2="663.20" y2="609.55" stroke="#F5F5F5" stroke-width="0.5" />
<line x1="550.40" y1="586.05" x2="663.20" y2="586.05" stroke="#F5F5F5" stroke-width="0.5" />
<line x1="550.40" y1="562.55" x2="663.20" y2="562.55" stroke="#F5F5F5" stroke-width="0.5" />
<line x1="550.40" y1="539.05" x2="663.20" y2="539.05" stroke="#F5F5F5" stroke-width="0.5" />
<line x1="550.40" y1="621.30" x2="663.20" y2="621.30" stroke="#EBEBEB" stroke-width="0.8" />
<line x1="550.40" y1="597.80" x2="663.20" y2="597.80" stroke="#EBEBEB" stroke-width="0.8" />
<line x1="550.40" y1="574.30" x2="663.20" y2="574.30" stroke="#EBEBEB" stroke-width="0.8" />
<line x1="550.40" y1="550.80" x2="663.20" y2="550.80" stroke="#EBEBEB" stroke-width="0.8" />
<line x1="580.90" y1="529.80" x2="580.90" y2="626.20" stroke="#EBEBEB" stroke-width="0.8" />
<line x1="632.20" y1="529.80" x2="632.20" y2="626.20" stroke="#EBEBEB" stroke-width="0.8" />
<rect x="557.80" y="534.20" width="23.10" height="87.10" fill="#A0C9BE" />
<rect x="580.90" y="586.50" width="22.80" height="34.80" fill="#784E8E" />
<rect x="609.20" y="602.20" width="22.90" height="19.10" fill="#A0C9BE" />
<rect x="632.10" y="613.80" width="22.90" height="7.50" fill="#784E8E" />
<rect x="550.40" y="529.80" width="112.80" height="96.40" fill="none" stroke="#B3B3B3" stroke-width="0.9" />
<rect x="550.40" y="510.40" width="112.80" height="19.40" fill="#D3D3D3" stroke="#A8A8A8" stroke-width="0.8" />
<line x1="550.40" y1="529.80" x2="663.20" y2="529.80" stroke="#7a7a7a" stroke-width="0.9" />
<text stroke="#1a1a1a" x="606.80" y="523.90" font-size="11.2" text-anchor="middle" transform="matrix(1,0,0,1.001,0,-0.524)" >gRNAs, n = 2,255,040</text>
<line x1="547.80" y1="621.30" x2="550.40" y2="621.30" stroke="#333" stroke-width="1.0" />
<text x="546.40" y="624.50" font-size="8.9" text-anchor="end" fill="#383838" stroke="#383838" transform="matrix(1,0,0,1.001,0,-0.624)" >0</text>
<line x1="547.80" y1="597.80" x2="550.40" y2="597.80" stroke="#333" stroke-width="1.0" />
<text x="546.40" y="601.00" font-size="8.9" text-anchor="end" fill="#383838" stroke="#383838" transform="matrix(1,0,0,1.001,0,-0.601)" >500,000</text>
<line x1="547.80" y1="574.30" x2="550.40" y2="574.30" stroke="#333" stroke-width="1.0" />
<text x="546.40" y="577.50" font-size="8.9" text-anchor="end" fill="#383838" stroke="#383838" transform="matrix(1,0,0,1.001,0,-0.577)" >1,000,000</text>
<line x1="547.80" y1="550.80" x2="550.40" y2="550.80" stroke="#333" stroke-width="1.0" />
<text x="546.40" y="554.00" font-size="8.9" text-anchor="end" fill="#383838" stroke="#383838" transform="matrix(1,0,0,1.001,0,-0.554)" >1,500,000</text>
<line x1="580.90" y1="626.20" x2="580.90" y2="628.80" stroke="#333" stroke-width="1.0" />
<line x1="632.20" y1="626.20" x2="632.20" y2="628.80" stroke="#333" stroke-width="1.0" />
<text stroke="#1a1a1a" x="580.90" y="638.80" font-size="11.2" text-anchor="middle" transform="matrix(1,0,0,1.001,0,-0.639)" >Protein</text>
<text stroke="#1a1a1a" x="580.90" y="647.60" font-size="11.2" text-anchor="middle" transform="matrix(1,0,0,1.001,0,-0.648)" >Coding</text>
<text stroke="#1a1a1a" x="632.20" y="638.80" font-size="11.2" text-anchor="middle" transform="matrix(1,0,0,1.001,0,-0.639)" >lncRNA</text>
<text stroke="#1a1a1a" x="505.00" y="575.50" font-size="11.2" text-anchor="middle" transform="matrix(1.001,0,0,1,-0.505,0) rotate(-90 505.00 575.50)" ># of gRNAs</text>
<text x="9.50" y="676.80" font-size="18" font-weight="bold" fill="#000" stroke="#000" transform="matrix(1,0,0,1.001,0,-0.677)" >e</text>
<text stroke="#1a1a1a" x="244.50" y="669.00" font-size="13.5" text-anchor="middle" transform="matrix(1,0,0,1.08,0,-53.520)" >Majority of Junctions, Isoforms, and Genes are Targetable</text>
<text stroke="#1a1a1a" x="244.50" y="682.00" font-size="13.5" text-anchor="middle" transform="matrix(1,0,0,1.08,0,-54.560)" >with Predicted Active Junction gRNAs</text>
<rect x="102.00" y="696.60" width="16.40" height="16.40" fill="#A0C9BE" />
<rect x="263.80" y="696.60" width="16.00" height="16.40" fill="#784E8E" />
<text stroke="#1a1a1a" x="176.90" y="703.10" font-size="8.9" text-anchor="middle" transform="matrix(1,0,0,1.001,0,-0.703)" >Total from GENCODE v41</text>
<text stroke="#1a1a1a" x="176.90" y="712.60" font-size="8.9" text-anchor="middle" transform="matrix(1,0,0,1.001,0,-0.713)" >(summary in Fig 1B)</text>
<text stroke="#1a1a1a" x="337.70" y="703.10" font-size="8.9" text-anchor="middle" transform="matrix(1,0,0,1.001,0,-0.703)" >Targetable with Predicted</text>
<text stroke="#1a1a1a" x="337.70" y="712.60" font-size="8.9" text-anchor="middle" transform="matrix(1,0,0,1.001,0,-0.713)" >Active Junction gRNAs</text>
<rect x="47.00" y="743.40" width="111.70" height="104.60" fill="#fff" />
<line x1="77.40" y1="743.40" x2="77.40" y2="848.00" stroke="#EBEBEB" stroke-width="0.8" />
<line x1="128.30" y1="743.40" x2="128.30" y2="848.00" stroke="#EBEBEB" stroke-width="0.8" />
<rect x="54.60" y="748.00" width="22.80" height="95.50" fill="#A0C9BE" />
<rect x="77.40" y="774.70" width="22.60" height="68.80" fill="#784E8E" />
<rect x="105.50" y="821.90" width="22.80" height="21.60" fill="#A0C9BE" />
<rect x="128.30" y="828.00" width="22.60" height="15.50" fill="#784E8E" />
<line x1="47.00" y1="833.10" x2="158.70" y2="833.10" stroke="rgba(255,255,255,0.22)" stroke-width="0.6" />
<line x1="47.00" y1="812.30" x2="158.70" y2="812.30" stroke="rgba(255,255,255,0.22)" stroke-width="0.6" />
<line x1="47.00" y1="791.50" x2="158.70" y2="791.50" stroke="rgba(255,255,255,0.22)" stroke-width="0.6" />
<line x1="47.00" y1="770.70" x2="158.70" y2="770.70" stroke="rgba(255,255,255,0.22)" stroke-width="0.6" />
<line x1="47.00" y1="749.90" x2="158.70" y2="749.90" stroke="rgba(255,255,255,0.22)" stroke-width="0.6" />
<line x1="47.00" y1="843.50" x2="158.70" y2="843.50" stroke="rgba(235,235,235,0.45)" stroke-width="0.9" />
<line x1="47.00" y1="822.70" x2="158.70" y2="822.70" stroke="rgba(235,235,235,0.45)" stroke-width="0.9" />
<line x1="47.00" y1="801.90" x2="158.70" y2="801.90" stroke="rgba(235,235,235,0.45)" stroke-width="0.9" />
<line x1="47.00" y1="781.10" x2="158.70" y2="781.10" stroke="rgba(235,235,235,0.45)" stroke-width="0.9" />
<line x1="47.00" y1="760.30" x2="158.70" y2="760.30" stroke="rgba(235,235,235,0.45)" stroke-width="0.9" />
<rect x="47.00" y="743.40" width="111.70" height="104.60" fill="none" stroke="#B3B3B3" stroke-width="0.9" />
<rect x="47.00" y="721.50" width="111.70" height="21.90" fill="#D3D3D3" stroke="#A8A8A8" stroke-width="0.8" />
<line x1="47.00" y1="743.40" x2="158.70" y2="743.40" stroke="#7a7a7a" stroke-width="0.9" />
<text stroke="#1a1a1a" x="102.85" y="737.00" font-size="11.2" text-anchor="middle" transform="matrix(1,0,0,1.001,0,-0.737)" >EEJs, n = 281,880</text>
<line x1="44.40" y1="843.50" x2="47.00" y2="843.50" stroke="#333" stroke-width="1.0" />
<text x="43.00" y="846.70" font-size="8.9" text-anchor="end" fill="#383838" stroke="#383838" transform="matrix(1,0,0,1.001,0,-0.847)" >0</text>
<line x1="44.40" y1="822.70" x2="47.00" y2="822.70" stroke="#333" stroke-width="1.0" />
<text x="43.00" y="825.90" font-size="8.9" text-anchor="end" fill="#383838" stroke="#383838" transform="matrix(1,0,0,1.001,0,-0.826)" >50,000</text>
<line x1="44.40" y1="801.90" x2="47.00" y2="801.90" stroke="#333" stroke-width="1.0" />
<text x="43.00" y="805.10" font-size="8.9" text-anchor="end" fill="#383838" stroke="#383838" transform="matrix(1,0,0,1.001,0,-0.805)" >100,000</text>
<line x1="44.40" y1="781.10" x2="47.00" y2="781.10" stroke="#333" stroke-width="1.0" />
<text x="43.00" y="784.30" font-size="8.9" text-anchor="end" fill="#383838" stroke="#383838" transform="matrix(1,0,0,1.001,0,-0.784)" >150,000</text>
<line x1="44.40" y1="760.30" x2="47.00" y2="760.30" stroke="#333" stroke-width="1.0" />
<text x="43.00" y="763.50" font-size="8.9" text-anchor="end" fill="#383838" stroke="#383838" transform="matrix(1,0,0,1.001,0,-0.763)" >200,000</text>
<line x1="77.40" y1="848.00" x2="77.40" y2="850.60" stroke="#333" stroke-width="1.0" />
<line x1="128.30" y1="848.00" x2="128.30" y2="850.60" stroke="#333" stroke-width="1.0" />
<text stroke="#1a1a1a" x="77.40" y="859.20" font-size="11.2" text-anchor="middle" transform="matrix(1,0,0,1.001,0,-0.859)" >Protein</text>
<text stroke="#1a1a1a" x="77.40" y="868.20" font-size="11.2" text-anchor="middle" transform="matrix(1,0,0,1.001,0,-0.868)" >Coding</text>
<text stroke="#1a1a1a" x="128.30" y="859.20" font-size="11.2" text-anchor="middle" transform="matrix(1,0,0,1.001,0,-0.859)" >lncRNA</text>
<rect x="192.20" y="743.40" width="111.10" height="104.60" fill="#fff" />
<line x1="222.00" y1="743.40" x2="222.00" y2="848.00" stroke="#EBEBEB" stroke-width="0.8" />
<line x1="272.80" y1="743.40" x2="272.80" y2="848.00" stroke="#EBEBEB" stroke-width="0.8" />
<rect x="199.10" y="748.00" width="22.90" height="95.50" fill="#A0C9BE" />
<rect x="222.00" y="751.20" width="23.00" height="92.30" fill="#784E8E" />
<rect x="250.00" y="806.30" width="22.80" height="37.20" fill="#A0C9BE" />
<rect x="272.80" y="810.70" width="23.10" height="32.80" fill="#784E8E" />
<line x1="192.20" y1="827.90" x2="303.30" y2="827.90" stroke="rgba(255,255,255,0.22)" stroke-width="0.6" />
<line x1="192.20" y1="796.70" x2="303.30" y2="796.70" stroke="rgba(255,255,255,0.22)" stroke-width="0.6" />
<line x1="192.20" y1="765.50" x2="303.30" y2="765.50" stroke="rgba(255,255,255,0.22)" stroke-width="0.6" />
<line x1="192.20" y1="843.50" x2="303.30" y2="843.50" stroke="rgba(235,235,235,0.45)" stroke-width="0.9" />
<line x1="192.20" y1="812.30" x2="303.30" y2="812.30" stroke="rgba(235,235,235,0.45)" stroke-width="0.9" />
<line x1="192.20" y1="781.10" x2="303.30" y2="781.10" stroke="rgba(235,235,235,0.45)" stroke-width="0.9" />
<line x1="192.20" y1="749.90" x2="303.30" y2="749.90" stroke="rgba(235,235,235,0.45)" stroke-width="0.9" />
<rect x="192.20" y="743.40" width="111.10" height="104.60" fill="none" stroke="#B3B3B3" stroke-width="0.9" />
<rect x="192.20" y="721.50" width="111.10" height="21.90" fill="#D3D3D3" stroke="#A8A8A8" stroke-width="0.8" />
<line x1="192.20" y1="743.40" x2="303.30" y2="743.40" stroke="#7a7a7a" stroke-width="0.9" />
<text stroke="#1a1a1a" x="247.75" y="737.00" font-size="11.2" text-anchor="middle" transform="matrix(1,0,0,1.001,0,-0.737)" >Isoforms, n = 85,586</text>
<line x1="189.60" y1="843.50" x2="192.20" y2="843.50" stroke="#333" stroke-width="1.0" />
<text x="188.20" y="846.70" font-size="8.9" text-anchor="end" fill="#383838" stroke="#383838" transform="matrix(1,0,0,1.001,0,-0.847)" >0</text>
<line x1="189.60" y1="812.30" x2="192.20" y2="812.30" stroke="#333" stroke-width="1.0" />
<text x="188.20" y="815.50" font-size="8.9" text-anchor="end" fill="#383838" stroke="#383838" transform="matrix(1,0,0,1.001,0,-0.815)" >20,000</text>
<line x1="189.60" y1="781.10" x2="192.20" y2="781.10" stroke="#333" stroke-width="1.0" />
<text x="188.20" y="784.30" font-size="8.9" text-anchor="end" fill="#383838" stroke="#383838" transform="matrix(1,0,0,1.001,0,-0.784)" >40,000</text>
<line x1="189.60" y1="749.90" x2="192.20" y2="749.90" stroke="#333" stroke-width="1.0" />
<text x="188.20" y="753.10" font-size="8.9" text-anchor="end" fill="#383838" stroke="#383838" transform="matrix(1,0,0,1.001,0,-0.753)" >60,000</text>
<line x1="222.00" y1="848.00" x2="222.00" y2="850.60" stroke="#333" stroke-width="1.0" />
<line x1="272.80" y1="848.00" x2="272.80" y2="850.60" stroke="#333" stroke-width="1.0" />
<text stroke="#1a1a1a" x="222.00" y="859.20" font-size="11.2" text-anchor="middle" transform="matrix(1,0,0,1.001,0,-0.859)" >Protein</text>
<text stroke="#1a1a1a" x="222.00" y="868.20" font-size="11.2" text-anchor="middle" transform="matrix(1,0,0,1.001,0,-0.868)" >Coding</text>
<text stroke="#1a1a1a" x="272.80" y="859.20" font-size="11.2" text-anchor="middle" transform="matrix(1,0,0,1.001,0,-0.859)" >lncRNA</text>
<rect x="335.90" y="743.40" width="111.10" height="104.60" fill="#fff" />
<line x1="366.20" y1="743.40" x2="366.20" y2="848.00" stroke="#EBEBEB" stroke-width="0.8" />
<line x1="417.00" y1="743.40" x2="417.00" y2="848.00" stroke="#EBEBEB" stroke-width="0.8" />
<rect x="343.30" y="748.00" width="22.90" height="95.50" fill="#A0C9BE" />
<rect x="366.20" y="751.90" width="22.60" height="91.60" fill="#784E8E" />
<rect x="394.20" y="766.80" width="22.80" height="76.70" fill="#A0C9BE" />
<rect x="417.00" y="777.20" width="22.60" height="66.30" fill="#784E8E" />
<line x1="335.90" y1="830.60" x2="447.00" y2="830.60" stroke="rgba(255,255,255,0.22)" stroke-width="0.6" />
<line x1="335.90" y1="804.80" x2="447.00" y2="804.80" stroke="rgba(255,255,255,0.22)" stroke-width="0.6" />
<line x1="335.90" y1="779.00" x2="447.00" y2="779.00" stroke="rgba(255,255,255,0.22)" stroke-width="0.6" />
<line x1="335.90" y1="753.20" x2="447.00" y2="753.20" stroke="rgba(255,255,255,0.22)" stroke-width="0.6" />
<line x1="335.90" y1="843.50" x2="447.00" y2="843.50" stroke="rgba(235,235,235,0.45)" stroke-width="0.9" />
<line x1="335.90" y1="817.70" x2="447.00" y2="817.70" stroke="rgba(235,235,235,0.45)" stroke-width="0.9" />
<line x1="335.90" y1="791.90" x2="447.00" y2="791.90" stroke="rgba(235,235,235,0.45)" stroke-width="0.9" />
<line x1="335.90" y1="766.10" x2="447.00" y2="766.10" stroke="rgba(235,235,235,0.45)" stroke-width="0.9" />
<rect x="335.90" y="743.40" width="111.10" height="104.60" fill="none" stroke="#B3B3B3" stroke-width="0.9" />
<rect x="335.90" y="721.50" width="111.10" height="21.90" fill="#D3D3D3" stroke="#A8A8A8" stroke-width="0.8" />
<line x1="335.90" y1="743.40" x2="447.00" y2="743.40" stroke="#7a7a7a" stroke-width="0.9" />
<text stroke="#1a1a1a" x="391.45" y="737.00" font-size="11.2" text-anchor="middle" transform="matrix(1,0,0,1.001,0,-0.737)" >Genes, n = 33,391</text>
<line x1="333.30" y1="843.50" x2="335.90" y2="843.50" stroke="#333" stroke-width="1.0" />
<text x="331.90" y="846.70" font-size="8.9" text-anchor="end" fill="#383838" stroke="#383838" transform="matrix(1,0,0,1.001,0,-0.847)" >0</text>
<line x1="333.30" y1="817.70" x2="335.90" y2="817.70" stroke="#333" stroke-width="1.0" />
<text x="331.90" y="820.90" font-size="8.9" text-anchor="end" fill="#383838" stroke="#383838" transform="matrix(1,0,0,1.001,0,-0.821)" >5,000</text>
<line x1="333.30" y1="791.90" x2="335.90" y2="791.90" stroke="#333" stroke-width="1.0" />
<text x="331.90" y="795.10" font-size="8.9" text-anchor="end" fill="#383838" stroke="#383838" transform="matrix(1,0,0,1.001,0,-0.795)" >10,000</text>
<line x1="333.30" y1="766.10" x2="335.90" y2="766.10" stroke="#333" stroke-width="1.0" />
<text x="331.90" y="769.30" font-size="8.9" text-anchor="end" fill="#383838" stroke="#383838" transform="matrix(1,0,0,1.001,0,-0.769)" >15,000</text>
<line x1="366.20" y1="848.00" x2="366.20" y2="850.60" stroke="#333" stroke-width="1.0" />
<line x1="417.00" y1="848.00" x2="417.00" y2="850.60" stroke="#333" stroke-width="1.0" />
<text stroke="#1a1a1a" x="366.20" y="859.20" font-size="11.2" text-anchor="middle" transform="matrix(1,0,0,1.001,0,-0.859)" >Protein</text>
<text stroke="#1a1a1a" x="366.20" y="868.20" font-size="11.2" text-anchor="middle" transform="matrix(1,0,0,1.001,0,-0.868)" >Coding</text>
<text stroke="#1a1a1a" x="417.00" y="859.20" font-size="11.2" text-anchor="middle" transform="matrix(1,0,0,1.001,0,-0.859)" >lncRNA</text>
<text stroke="#1a1a1a" x="8.00" y="788.50" font-size="11.2" text-anchor="middle" transform="matrix(1.001,0,0,1,-0.008,0) rotate(-90 8.00 788.50)" >Counts</text>
<text x="454.10" y="677.00" font-size="18" font-weight="bold" fill="#000" stroke="#000" transform="matrix(1,0,0,1.001,0,-0.677)" >f</text>
<text stroke="#1a1a1a" x="581.50" y="670.80" font-size="13.5" text-anchor="middle" transform="matrix(1,0,0,1.08,0,-53.664)" >Isoform Targetability with Predicted</text>
<text stroke="#1a1a1a" x="581.50" y="683.60" font-size="13.5" text-anchor="middle" transform="matrix(1,0,0,1.08,0,-54.688)" >Active gRNAs</text>
<rect x="496.30" y="689.20" width="16.10" height="16.10" fill="#E8907A" />
<rect x="580.40" y="689.20" width="16.40" height="16.10" fill="#3C5488" />
<rect x="496.30" y="708.60" width="16.10" height="16.00" fill="#1AAFD0" />
<rect x="580.40" y="708.60" width="16.40" height="16.00" fill="#7F7F7F" />
<text stroke="#1a1a1a" x="515.90" y="700.30" font-size="8.9" transform="matrix(1,0,0,1.001,0,-0.700)" >Fully Unique</text>
<text stroke="#1a1a1a" x="602.00" y="700.30" font-size="8.9" transform="matrix(1,0,0,1.001,0,-0.700)" >Partially Unique</text>
<text stroke="#1a1a1a" x="515.90" y="719.60" font-size="8.9" transform="matrix(1,0,0,1.001,0,-0.720)" >Common</text>
<text stroke="#1a1a1a" x="602.00" y="719.60" font-size="8.9" transform="matrix(1,0,0,1.001,0,-0.720)" >No Active gRNA</text>
<rect x="493.60" y="745.80" width="177.70" height="110.20" fill="#fff" />
<line x1="524.50" y1="745.80" x2="524.50" y2="856.00" stroke="#F5F5F5" stroke-width="0.5" />
<line x1="571.90" y1="745.80" x2="571.90" y2="856.00" stroke="#F5F5F5" stroke-width="0.5" />
<line x1="619.30" y1="745.80" x2="619.30" y2="856.00" stroke="#F5F5F5" stroke-width="0.5" />
<line x1="500.80" y1="745.80" x2="500.80" y2="856.00" stroke="#EBEBEB" stroke-width="0.8" />
<line x1="548.20" y1="745.80" x2="548.20" y2="856.00" stroke="#EBEBEB" stroke-width="0.8" />
<line x1="595.60" y1="745.80" x2="595.60" y2="856.00" stroke="#EBEBEB" stroke-width="0.8" />
<line x1="643.00" y1="745.80" x2="643.00" y2="856.00" stroke="#EBEBEB" stroke-width="0.8" />
<line x1="493.60" y1="776.70" x2="671.30" y2="776.70" stroke="#EBEBEB" stroke-width="0.8" />
<line x1="493.60" y1="826.60" x2="642.60" y2="826.60" stroke="#EBEBEB" stroke-width="0.8" />
<rect x="500.80" y="754.20" width="7.86" height="11.25" fill="#7F7F7F" />
<rect x="500.80" y="765.45" width="21.82" height="11.25" fill="#1AAFD0" />
<rect x="500.80" y="776.70" width="101.35" height="11.25" fill="#3C5488" />
<rect x="500.80" y="787.95" width="135.97" height="11.25" fill="#E8907A" />
<rect x="500.80" y="804.10" width="4.59" height="11.25" fill="#7F7F7F" />
<rect x="500.80" y="815.35" width="2.34" height="11.25" fill="#1AAFD0" />
<rect x="500.80" y="826.60" width="8.83" height="11.25" fill="#3C5488" />
<rect x="500.80" y="837.85" width="45.28" height="11.25" fill="#E8907A" />
<text stroke="#1a1a1a" x="508.90" y="763.30" font-size="9.1" transform="matrix(1,0,0,1.001,0,-0.763)" >1,658</text>
<text stroke="#1a1a1a" x="522.50" y="773.80" font-size="9.1" transform="matrix(1,0,0,1.001,0,-0.774)" >4,603</text>
<text stroke="#1a1a1a" x="602.30" y="785.40" font-size="9.1" transform="matrix(1,0,0,1.001,0,-0.785)" >21,381</text>
<text stroke="#1a1a1a" x="630.30" y="796.50" font-size="9.1" text-anchor="end" transform="matrix(1,0,0,1.001,0,-0.796)" >28,685</text>
<text stroke="#1a1a1a" x="506.10" y="812.40" font-size="9.1" transform="matrix(1,0,0,1.001,0,-0.812)" >968</text>
<text stroke="#1a1a1a" x="503.90" y="823.70" font-size="9.1" transform="matrix(1,0,0,1.001,0,-0.824)" >494</text>
<text stroke="#1a1a1a" x="512.70" y="835.40" font-size="9.1" transform="matrix(1,0,0,1.001,0,-0.835)" >1,862</text>
<text stroke="#1a1a1a" x="546.90" y="846.50" font-size="9.1" transform="matrix(1,0,0,1.001,0,-0.846)" >9,553</text>
<path d="M637.9,775.7 L642,775.7 L642,799.3 L637.9,799.3" fill="none" stroke="#000" stroke-width="2.0" />
<path d="M572.1,827 L576.5,827 L576.5,850 L572.1,850" fill="none" stroke="#000" stroke-width="2.0" />
<text stroke="#1a1a1a" x="644.50" y="791.00" font-size="9.5" transform="matrix(1,0,0,1.001,0,-0.791)" >88.9%</text>
<text stroke="#1a1a1a" x="581.50" y="840.40" font-size="9.5" transform="matrix(1,0,0,1.001,0,-0.840)" >88.6%</text>
<rect x="493.60" y="745.80" width="177.70" height="110.20" fill="none" stroke="#B3B3B3" stroke-width="0.9" />
<rect x="493.60" y="728.60" width="177.70" height="17.20" fill="#D3D3D3" stroke="#A8A8A8" stroke-width="0.8" />
<line x1="493.60" y1="745.80" x2="671.30" y2="745.80" stroke="#7a7a7a" stroke-width="0.9" />
<text stroke="#1a1a1a" x="582.45" y="740.60" font-size="11.2" text-anchor="middle" transform="matrix(1,0,0,1.001,0,-0.741)" >Isoform−level targeting</text>
<line x1="500.80" y1="856.00" x2="500.80" y2="858.60" stroke="#333" stroke-width="1.0" />
<text x="500.80" y="866.80" font-size="8.9" text-anchor="middle" fill="#383838" stroke="#383838" transform="matrix(1,0,0,1.001,0,-0.867)" >0</text>
<line x1="548.20" y1="856.00" x2="548.20" y2="858.60" stroke="#333" stroke-width="1.0" />
<text x="548.20" y="866.80" font-size="8.9" text-anchor="middle" fill="#383838" stroke="#383838" transform="matrix(1,0,0,1.001,0,-0.867)" >10,000</text>
<line x1="595.60" y1="856.00" x2="595.60" y2="858.60" stroke="#333" stroke-width="1.0" />
<text x="595.60" y="866.80" font-size="8.9" text-anchor="middle" fill="#383838" stroke="#383838" transform="matrix(1,0,0,1.001,0,-0.867)" >20,000</text>
<line x1="643.00" y1="856.00" x2="643.00" y2="858.60" stroke="#333" stroke-width="1.0" />
<text x="643.00" y="866.80" font-size="8.9" text-anchor="middle" fill="#383838" stroke="#383838" transform="matrix(1,0,0,1.001,0,-0.867)" >30,000</text>
<line x1="491.00" y1="776.70" x2="493.60" y2="776.70" stroke="#333" stroke-width="1.0" />
<line x1="491.00" y1="826.60" x2="493.60" y2="826.60" stroke="#333" stroke-width="1.0" />
<text stroke="#1a1a1a" x="490.80" y="775.00" font-size="11.2" text-anchor="end" transform="matrix(1,0,0,1.001,0,-0.775)" >Protein</text>
<text stroke="#1a1a1a" x="490.80" y="784.00" font-size="11.2" text-anchor="end" transform="matrix(1,0,0,1.001,0,-0.784)" >Coding</text>
<text stroke="#1a1a1a" x="490.80" y="830.00" font-size="11.2" text-anchor="end" transform="matrix(1,0,0,1.001,0,-0.830)" >lncRNA</text>
</svg></body></html>
